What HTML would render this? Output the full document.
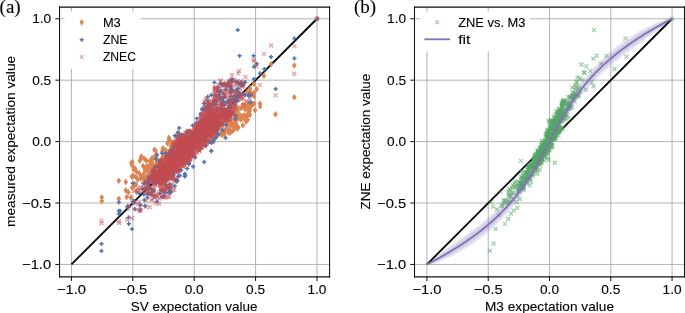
<!DOCTYPE html>
<html><head><meta charset="utf-8"><style>
html,body{margin:0;padding:0;background:#fff;overflow:hidden}
svg{display:block;will-change:transform}
text{fill:#000;stroke:#000;stroke-width:0.1px}
</style></head><body>
<svg width="685" height="313" viewBox="0 0 685 313">
<rect width="685" height="313" fill="#fff"/>
<line x1="71.41" y1="7.05" x2="71.41" y2="276.80" stroke="#b0b0b0" stroke-width="0.96"/>
<line x1="59.55" y1="264.45" x2="329.60" y2="264.45" stroke="#b0b0b0" stroke-width="0.96"/>
<line x1="132.80" y1="7.05" x2="132.80" y2="276.80" stroke="#b0b0b0" stroke-width="0.96"/>
<line x1="59.55" y1="203.02" x2="329.60" y2="203.02" stroke="#b0b0b0" stroke-width="0.96"/>
<line x1="194.20" y1="7.05" x2="194.20" y2="276.80" stroke="#b0b0b0" stroke-width="0.96"/>
<line x1="59.55" y1="141.60" x2="329.60" y2="141.60" stroke="#b0b0b0" stroke-width="0.96"/>
<line x1="255.59" y1="7.05" x2="255.59" y2="276.80" stroke="#b0b0b0" stroke-width="0.96"/>
<line x1="59.55" y1="80.17" x2="329.60" y2="80.17" stroke="#b0b0b0" stroke-width="0.96"/>
<line x1="316.99" y1="7.05" x2="316.99" y2="276.80" stroke="#b0b0b0" stroke-width="0.96"/>
<line x1="59.55" y1="18.75" x2="329.60" y2="18.75" stroke="#b0b0b0" stroke-width="0.96"/>
<line x1="71.41" y1="264.45" x2="316.99" y2="18.75" stroke="#000" stroke-width="1.8"/>
<path fill="#dd8452" d="M317.1 15.5l2.3 3.3-2.3 3.3-2.3-3.3zM294.3 62.2l2.3 3.3-2.3 3.3-2.3-3.3zM294.3 94.0l2.3 3.3-2.3 3.3-2.3-3.3zM271.1 61.0l2.3 3.3-2.3 3.3-2.3-3.3zM275.5 111.0l2.3 3.3-2.3 3.3-2.3-3.3zM263.9 72.5l2.3 3.3-2.3 3.3-2.3-3.3zM254.0 80.8l2.3 3.3-2.3 3.3-2.3-3.3zM256.7 86.0l2.3 3.3-2.3 3.3-2.3-3.3zM259.9 100.4l2.3 3.3-2.3 3.3-2.3-3.3zM254.0 100.2l2.3 3.3-2.3 3.3-2.3-3.3zM260.0 102.9l2.3 3.3-2.3 3.3-2.3-3.3zM255.1 106.9l2.3 3.3-2.3 3.3-2.3-3.3zM249.5 110.9l2.3 3.3-2.3 3.3-2.3-3.3zM250.0 111.5l2.3 3.3-2.3 3.3-2.3-3.3zM101.8 194.2l2.3 3.3-2.3 3.3-2.3-3.3zM101.8 197.7l2.3 3.3-2.3 3.3-2.3-3.3zM118.8 177.4l2.3 3.3-2.3 3.3-2.3-3.3zM118.8 195.4l2.3 3.3-2.3 3.3-2.3-3.3zM132.0 162.0l2.3 3.3-2.3 3.3-2.3-3.3zM132.4 158.8l2.3 3.3-2.3 3.3-2.3-3.3zM154.4 146.5l2.3 3.3-2.3 3.3-2.3-3.3zM146.7 166.3l2.3 3.3-2.3 3.3-2.3-3.3zM149.0 170.8l2.3 3.3-2.3 3.3-2.3-3.3zM140.5 174.9l2.3 3.3-2.3 3.3-2.3-3.3zM164.4 151.7l2.3 3.3-2.3 3.3-2.3-3.3zM141.3 153.1l2.3 3.3-2.3 3.3-2.3-3.3zM125.8 178.7l2.3 3.3-2.3 3.3-2.3-3.3zM136.0 173.7l2.3 3.3-2.3 3.3-2.3-3.3zM165.9 146.9l2.3 3.3-2.3 3.3-2.3-3.3zM175.0 139.4l2.3 3.3-2.3 3.3-2.3-3.3zM164.5 151.7l2.3 3.3-2.3 3.3-2.3-3.3zM156.6 158.7l2.3 3.3-2.3 3.3-2.3-3.3zM134.5 181.2l2.3 3.3-2.3 3.3-2.3-3.3zM173.4 143.7l2.3 3.3-2.3 3.3-2.3-3.3zM136.4 188.5l2.3 3.3-2.3 3.3-2.3-3.3zM136.4 168.1l2.3 3.3-2.3 3.3-2.3-3.3zM163.4 156.6l2.3 3.3-2.3 3.3-2.3-3.3zM151.9 167.6l2.3 3.3-2.3 3.3-2.3-3.3zM135.9 180.9l2.3 3.3-2.3 3.3-2.3-3.3zM146.5 157.4l2.3 3.3-2.3 3.3-2.3-3.3zM144.2 155.3l2.3 3.3-2.3 3.3-2.3-3.3zM152.0 155.0l2.3 3.3-2.3 3.3-2.3-3.3zM139.2 169.9l2.3 3.3-2.3 3.3-2.3-3.3zM142.4 172.9l2.3 3.3-2.3 3.3-2.3-3.3zM149.7 158.0l2.3 3.3-2.3 3.3-2.3-3.3zM133.8 166.0l2.3 3.3-2.3 3.3-2.3-3.3zM131.3 159.7l2.3 3.3-2.3 3.3-2.3-3.3zM134.1 182.6l2.3 3.3-2.3 3.3-2.3-3.3zM137.7 176.2l2.3 3.3-2.3 3.3-2.3-3.3zM164.8 152.7l2.3 3.3-2.3 3.3-2.3-3.3zM162.6 153.8l2.3 3.3-2.3 3.3-2.3-3.3zM161.3 158.1l2.3 3.3-2.3 3.3-2.3-3.3zM128.5 189.0l2.3 3.3-2.3 3.3-2.3-3.3zM139.7 157.5l2.3 3.3-2.3 3.3-2.3-3.3zM149.3 169.3l2.3 3.3-2.3 3.3-2.3-3.3zM136.3 168.0l2.3 3.3-2.3 3.3-2.3-3.3zM133.7 172.7l2.3 3.3-2.3 3.3-2.3-3.3zM131.8 173.3l2.3 3.3-2.3 3.3-2.3-3.3zM144.5 175.1l2.3 3.3-2.3 3.3-2.3-3.3zM153.7 154.6l2.3 3.3-2.3 3.3-2.3-3.3zM158.8 164.2l2.3 3.3-2.3 3.3-2.3-3.3zM171.6 146.3l2.3 3.3-2.3 3.3-2.3-3.3zM135.0 165.3l2.3 3.3-2.3 3.3-2.3-3.3zM132.1 184.4l2.3 3.3-2.3 3.3-2.3-3.3zM146.2 165.8l2.3 3.3-2.3 3.3-2.3-3.3zM155.6 147.6l2.3 3.3-2.3 3.3-2.3-3.3zM143.1 162.7l2.3 3.3-2.3 3.3-2.3-3.3zM130.9 194.1l2.3 3.3-2.3 3.3-2.3-3.3zM126.7 193.7l2.3 3.3-2.3 3.3-2.3-3.3zM170.8 142.7l2.3 3.3-2.3 3.3-2.3-3.3zM147.3 172.6l2.3 3.3-2.3 3.3-2.3-3.3zM125.7 187.0l2.3 3.3-2.3 3.3-2.3-3.3zM136.9 175.0l2.3 3.3-2.3 3.3-2.3-3.3zM141.1 153.8l2.3 3.3-2.3 3.3-2.3-3.3zM141.2 155.1l2.3 3.3-2.3 3.3-2.3-3.3zM148.2 163.2l2.3 3.3-2.3 3.3-2.3-3.3zM139.8 170.9l2.3 3.3-2.3 3.3-2.3-3.3zM135.9 167.4l2.3 3.3-2.3 3.3-2.3-3.3zM172.0 144.3l2.3 3.3-2.3 3.3-2.3-3.3zM179.0 130.5l2.3 3.3-2.3 3.3-2.3-3.3zM150.4 162.0l2.3 3.3-2.3 3.3-2.3-3.3zM145.0 165.8l2.3 3.3-2.3 3.3-2.3-3.3zM173.0 139.5l2.3 3.3-2.3 3.3-2.3-3.3zM176.9 131.8l2.3 3.3-2.3 3.3-2.3-3.3zM150.2 161.6l2.3 3.3-2.3 3.3-2.3-3.3zM162.3 154.3l2.3 3.3-2.3 3.3-2.3-3.3zM156.1 155.2l2.3 3.3-2.3 3.3-2.3-3.3zM151.7 158.0l2.3 3.3-2.3 3.3-2.3-3.3zM162.4 147.8l2.3 3.3-2.3 3.3-2.3-3.3zM149.1 169.2l2.3 3.3-2.3 3.3-2.3-3.3zM152.6 163.1l2.3 3.3-2.3 3.3-2.3-3.3zM171.3 144.3l2.3 3.3-2.3 3.3-2.3-3.3zM162.9 144.9l2.3 3.3-2.3 3.3-2.3-3.3zM145.0 166.8l2.3 3.3-2.3 3.3-2.3-3.3zM167.5 140.0l2.3 3.3-2.3 3.3-2.3-3.3zM149.3 165.6l2.3 3.3-2.3 3.3-2.3-3.3zM153.1 161.2l2.3 3.3-2.3 3.3-2.3-3.3zM171.2 138.8l2.3 3.3-2.3 3.3-2.3-3.3zM157.1 151.7l2.3 3.3-2.3 3.3-2.3-3.3zM154.4 163.4l2.3 3.3-2.3 3.3-2.3-3.3zM162.9 146.7l2.3 3.3-2.3 3.3-2.3-3.3zM168.9 134.4l2.3 3.3-2.3 3.3-2.3-3.3zM160.1 158.1l2.3 3.3-2.3 3.3-2.3-3.3zM145.9 166.4l2.3 3.3-2.3 3.3-2.3-3.3zM143.8 170.4l2.3 3.3-2.3 3.3-2.3-3.3zM146.5 163.3l2.3 3.3-2.3 3.3-2.3-3.3zM147.6 174.5l2.3 3.3-2.3 3.3-2.3-3.3zM169.2 136.1l2.3 3.3-2.3 3.3-2.3-3.3zM159.1 158.4l2.3 3.3-2.3 3.3-2.3-3.3zM246.0 118.3l2.3 3.3-2.3 3.3-2.3-3.3zM247.1 113.0l2.3 3.3-2.3 3.3-2.3-3.3zM227.7 121.5l2.3 3.3-2.3 3.3-2.3-3.3zM226.9 126.5l2.3 3.3-2.3 3.3-2.3-3.3zM221.9 128.4l2.3 3.3-2.3 3.3-2.3-3.3zM235.2 119.3l2.3 3.3-2.3 3.3-2.3-3.3zM225.2 126.6l2.3 3.3-2.3 3.3-2.3-3.3zM214.9 133.0l2.3 3.3-2.3 3.3-2.3-3.3zM249.7 107.1l2.3 3.3-2.3 3.3-2.3-3.3zM209.7 136.8l2.3 3.3-2.3 3.3-2.3-3.3zM228.7 129.4l2.3 3.3-2.3 3.3-2.3-3.3zM231.4 120.1l2.3 3.3-2.3 3.3-2.3-3.3zM213.4 133.3l2.3 3.3-2.3 3.3-2.3-3.3zM235.8 121.1l2.3 3.3-2.3 3.3-2.3-3.3zM237.3 123.9l2.3 3.3-2.3 3.3-2.3-3.3zM237.8 123.8l2.3 3.3-2.3 3.3-2.3-3.3zM241.1 105.0l2.3 3.3-2.3 3.3-2.3-3.3zM236.2 111.6l2.3 3.3-2.3 3.3-2.3-3.3zM248.0 110.4l2.3 3.3-2.3 3.3-2.3-3.3zM237.6 125.3l2.3 3.3-2.3 3.3-2.3-3.3zM242.1 113.5l2.3 3.3-2.3 3.3-2.3-3.3zM238.3 104.4l2.3 3.3-2.3 3.3-2.3-3.3zM237.7 115.2l2.3 3.3-2.3 3.3-2.3-3.3zM251.5 102.6l2.3 3.3-2.3 3.3-2.3-3.3zM224.6 130.6l2.3 3.3-2.3 3.3-2.3-3.3zM226.0 118.3l2.3 3.3-2.3 3.3-2.3-3.3zM243.3 112.2l2.3 3.3-2.3 3.3-2.3-3.3zM244.7 101.9l2.3 3.3-2.3 3.3-2.3-3.3zM220.9 131.0l2.3 3.3-2.3 3.3-2.3-3.3zM211.6 137.2l2.3 3.3-2.3 3.3-2.3-3.3zM248.3 109.3l2.3 3.3-2.3 3.3-2.3-3.3zM247.8 116.4l2.3 3.3-2.3 3.3-2.3-3.3zM237.8 107.4l2.3 3.3-2.3 3.3-2.3-3.3zM221.2 122.9l2.3 3.3-2.3 3.3-2.3-3.3zM234.9 117.3l2.3 3.3-2.3 3.3-2.3-3.3zM221.7 128.9l2.3 3.3-2.3 3.3-2.3-3.3zM230.8 115.0l2.3 3.3-2.3 3.3-2.3-3.3zM238.3 113.4l2.3 3.3-2.3 3.3-2.3-3.3zM246.4 103.8l2.3 3.3-2.3 3.3-2.3-3.3zM231.7 119.9l2.3 3.3-2.3 3.3-2.3-3.3zM227.5 118.8l2.3 3.3-2.3 3.3-2.3-3.3zM225.5 117.5l2.3 3.3-2.3 3.3-2.3-3.3zM234.0 122.7l2.3 3.3-2.3 3.3-2.3-3.3zM223.1 129.4l2.3 3.3-2.3 3.3-2.3-3.3zM233.0 122.6l2.3 3.3-2.3 3.3-2.3-3.3zM229.7 116.3l2.3 3.3-2.3 3.3-2.3-3.3zM211.7 134.8l2.3 3.3-2.3 3.3-2.3-3.3zM212.3 136.2l2.3 3.3-2.3 3.3-2.3-3.3zM239.8 111.8l2.3 3.3-2.3 3.3-2.3-3.3zM225.0 116.7l2.3 3.3-2.3 3.3-2.3-3.3zM225.5 126.7l2.3 3.3-2.3 3.3-2.3-3.3zM251.7 101.4l2.3 3.3-2.3 3.3-2.3-3.3zM242.8 122.0l2.3 3.3-2.3 3.3-2.3-3.3zM229.1 113.3l2.3 3.3-2.3 3.3-2.3-3.3zM248.8 107.2l2.3 3.3-2.3 3.3-2.3-3.3zM211.7 133.2l2.3 3.3-2.3 3.3-2.3-3.3zM215.3 129.6l2.3 3.3-2.3 3.3-2.3-3.3zM248.5 108.4l2.3 3.3-2.3 3.3-2.3-3.3zM222.6 122.4l2.3 3.3-2.3 3.3-2.3-3.3zM230.4 122.5l2.3 3.3-2.3 3.3-2.3-3.3zM245.0 105.9l2.3 3.3-2.3 3.3-2.3-3.3zM218.8 125.0l2.3 3.3-2.3 3.3-2.3-3.3zM230.3 129.3l2.3 3.3-2.3 3.3-2.3-3.3zM230.6 117.8l2.3 3.3-2.3 3.3-2.3-3.3zM213.9 138.0l2.3 3.3-2.3 3.3-2.3-3.3zM251.0 103.1l2.3 3.3-2.3 3.3-2.3-3.3zM235.8 119.3l2.3 3.3-2.3 3.3-2.3-3.3zM242.7 101.5l2.3 3.3-2.3 3.3-2.3-3.3zM238.3 124.3l2.3 3.3-2.3 3.3-2.3-3.3zM240.6 116.2l2.3 3.3-2.3 3.3-2.3-3.3zM225.8 118.9l2.3 3.3-2.3 3.3-2.3-3.3zM238.1 112.4l2.3 3.3-2.3 3.3-2.3-3.3zM235.0 117.1l2.3 3.3-2.3 3.3-2.3-3.3zM249.3 106.1l2.3 3.3-2.3 3.3-2.3-3.3zM233.4 108.4l2.3 3.3-2.3 3.3-2.3-3.3zM213.7 130.5l2.3 3.3-2.3 3.3-2.3-3.3zM234.2 106.9l2.3 3.3-2.3 3.3-2.3-3.3zM223.5 129.2l2.3 3.3-2.3 3.3-2.3-3.3zM232.5 121.0l2.3 3.3-2.3 3.3-2.3-3.3zM216.4 132.9l2.3 3.3-2.3 3.3-2.3-3.3zM232.9 127.4l2.3 3.3-2.3 3.3-2.3-3.3zM236.9 112.6l2.3 3.3-2.3 3.3-2.3-3.3zM241.9 115.7l2.3 3.3-2.3 3.3-2.3-3.3zM221.6 129.5l2.3 3.3-2.3 3.3-2.3-3.3zM235.7 116.4l2.3 3.3-2.3 3.3-2.3-3.3zM218.0 131.4l2.3 3.3-2.3 3.3-2.3-3.3zM225.2 127.5l2.3 3.3-2.3 3.3-2.3-3.3zM245.6 117.0l2.3 3.3-2.3 3.3-2.3-3.3zM227.6 125.6l2.3 3.3-2.3 3.3-2.3-3.3zM244.5 112.3l2.3 3.3-2.3 3.3-2.3-3.3zM242.9 101.8l2.3 3.3-2.3 3.3-2.3-3.3zM222.6 128.9l2.3 3.3-2.3 3.3-2.3-3.3zM233.9 109.6l2.3 3.3-2.3 3.3-2.3-3.3zM236.5 106.9l2.3 3.3-2.3 3.3-2.3-3.3zM222.5 131.4l2.3 3.3-2.3 3.3-2.3-3.3zM219.8 122.6l2.3 3.3-2.3 3.3-2.3-3.3zM248.8 100.4l2.3 3.3-2.3 3.3-2.3-3.3zM230.5 127.2l2.3 3.3-2.3 3.3-2.3-3.3zM235.3 124.7l2.3 3.3-2.3 3.3-2.3-3.3zM247.8 106.2l2.3 3.3-2.3 3.3-2.3-3.3zM254.0 89.6l2.3 3.3-2.3 3.3-2.3-3.3zM250.2 87.9l2.3 3.3-2.3 3.3-2.3-3.3zM250.1 85.0l2.3 3.3-2.3 3.3-2.3-3.3zM254.2 92.9l2.3 3.3-2.3 3.3-2.3-3.3zM247.5 88.2l2.3 3.3-2.3 3.3-2.3-3.3zM251.0 91.4l2.3 3.3-2.3 3.3-2.3-3.3zM196.0 130.9l2.3 3.3-2.3 3.3-2.3-3.3zM199.8 140.6l2.3 3.3-2.3 3.3-2.3-3.3zM214.4 115.9l2.3 3.3-2.3 3.3-2.3-3.3zM163.2 158.7l2.3 3.3-2.3 3.3-2.3-3.3zM198.5 140.5l2.3 3.3-2.3 3.3-2.3-3.3zM152.6 178.2l2.3 3.3-2.3 3.3-2.3-3.3zM214.8 111.8l2.3 3.3-2.3 3.3-2.3-3.3zM217.5 114.7l2.3 3.3-2.3 3.3-2.3-3.3zM225.8 111.7l2.3 3.3-2.3 3.3-2.3-3.3zM221.5 108.0l2.3 3.3-2.3 3.3-2.3-3.3zM228.5 115.3l2.3 3.3-2.3 3.3-2.3-3.3zM231.2 115.5l2.3 3.3-2.3 3.3-2.3-3.3zM161.1 159.7l2.3 3.3-2.3 3.3-2.3-3.3zM204.7 112.6l2.3 3.3-2.3 3.3-2.3-3.3zM226.1 111.8l2.3 3.3-2.3 3.3-2.3-3.3zM223.8 115.5l2.3 3.3-2.3 3.3-2.3-3.3zM187.8 128.8l2.3 3.3-2.3 3.3-2.3-3.3zM174.3 151.9l2.3 3.3-2.3 3.3-2.3-3.3zM210.8 107.1l2.3 3.3-2.3 3.3-2.3-3.3zM197.2 138.5l2.3 3.3-2.3 3.3-2.3-3.3zM170.0 161.1l2.3 3.3-2.3 3.3-2.3-3.3zM165.6 154.5l2.3 3.3-2.3 3.3-2.3-3.3zM169.8 149.9l2.3 3.3-2.3 3.3-2.3-3.3zM205.1 131.0l2.3 3.3-2.3 3.3-2.3-3.3zM184.4 162.1l2.3 3.3-2.3 3.3-2.3-3.3zM201.1 130.8l2.3 3.3-2.3 3.3-2.3-3.3zM215.4 124.8l2.3 3.3-2.3 3.3-2.3-3.3zM205.3 127.9l2.3 3.3-2.3 3.3-2.3-3.3zM206.9 116.7l2.3 3.3-2.3 3.3-2.3-3.3zM187.8 154.6l2.3 3.3-2.3 3.3-2.3-3.3zM214.0 117.1l2.3 3.3-2.3 3.3-2.3-3.3zM198.6 140.0l2.3 3.3-2.3 3.3-2.3-3.3zM208.0 127.5l2.3 3.3-2.3 3.3-2.3-3.3zM225.5 114.0l2.3 3.3-2.3 3.3-2.3-3.3zM185.2 134.4l2.3 3.3-2.3 3.3-2.3-3.3zM205.9 138.0l2.3 3.3-2.3 3.3-2.3-3.3zM154.7 177.0l2.3 3.3-2.3 3.3-2.3-3.3zM193.9 139.7l2.3 3.3-2.3 3.3-2.3-3.3zM198.6 138.5l2.3 3.3-2.3 3.3-2.3-3.3zM211.0 111.6l2.3 3.3-2.3 3.3-2.3-3.3zM163.6 175.0l2.3 3.3-2.3 3.3-2.3-3.3zM170.3 164.7l2.3 3.3-2.3 3.3-2.3-3.3zM173.6 146.4l2.3 3.3-2.3 3.3-2.3-3.3zM161.4 179.8l2.3 3.3-2.3 3.3-2.3-3.3zM174.1 168.1l2.3 3.3-2.3 3.3-2.3-3.3zM190.0 136.6l2.3 3.3-2.3 3.3-2.3-3.3zM178.4 151.4l2.3 3.3-2.3 3.3-2.3-3.3zM174.1 138.9l2.3 3.3-2.3 3.3-2.3-3.3zM224.4 106.6l2.3 3.3-2.3 3.3-2.3-3.3zM199.1 140.5l2.3 3.3-2.3 3.3-2.3-3.3zM216.4 113.4l2.3 3.3-2.3 3.3-2.3-3.3zM160.5 174.8l2.3 3.3-2.3 3.3-2.3-3.3zM224.4 114.4l2.3 3.3-2.3 3.3-2.3-3.3zM209.5 127.1l2.3 3.3-2.3 3.3-2.3-3.3zM167.5 170.5l2.3 3.3-2.3 3.3-2.3-3.3zM157.4 176.3l2.3 3.3-2.3 3.3-2.3-3.3zM213.4 109.5l2.3 3.3-2.3 3.3-2.3-3.3zM179.1 148.1l2.3 3.3-2.3 3.3-2.3-3.3zM179.7 150.3l2.3 3.3-2.3 3.3-2.3-3.3zM182.9 159.1l2.3 3.3-2.3 3.3-2.3-3.3zM181.7 131.7l2.3 3.3-2.3 3.3-2.3-3.3zM185.1 158.4l2.3 3.3-2.3 3.3-2.3-3.3zM159.6 163.6l2.3 3.3-2.3 3.3-2.3-3.3zM227.5 107.2l2.3 3.3-2.3 3.3-2.3-3.3zM176.4 148.9l2.3 3.3-2.3 3.3-2.3-3.3zM172.3 168.1l2.3 3.3-2.3 3.3-2.3-3.3zM208.4 118.8l2.3 3.3-2.3 3.3-2.3-3.3zM188.3 129.1l2.3 3.3-2.3 3.3-2.3-3.3zM174.4 164.0l2.3 3.3-2.3 3.3-2.3-3.3zM210.4 128.1l2.3 3.3-2.3 3.3-2.3-3.3zM179.9 146.8l2.3 3.3-2.3 3.3-2.3-3.3zM181.0 152.4l2.3 3.3-2.3 3.3-2.3-3.3zM166.1 157.0l2.3 3.3-2.3 3.3-2.3-3.3zM198.4 125.1l2.3 3.3-2.3 3.3-2.3-3.3zM197.0 134.2l2.3 3.3-2.3 3.3-2.3-3.3zM211.1 122.3l2.3 3.3-2.3 3.3-2.3-3.3zM159.3 172.6l2.3 3.3-2.3 3.3-2.3-3.3zM156.3 170.0l2.3 3.3-2.3 3.3-2.3-3.3zM201.7 129.6l2.3 3.3-2.3 3.3-2.3-3.3zM179.3 153.3l2.3 3.3-2.3 3.3-2.3-3.3z"/>
<path stroke="#4c72b0" stroke-width="1.5" fill="none" d="M315.0 18.8h4.2M317.1 16.7v4.2M235.6 30.0h4.2M237.7 27.9v4.2M292.3 38.4h4.2M294.4 36.3v4.2M292.3 58.4h4.2M294.4 56.3v4.2M237.5 55.8h4.2M239.6 53.7v4.2M251.5 55.8h4.2M253.6 53.7v4.2M269.0 56.8h4.2M271.1 54.7v4.2M251.9 66.7h4.2M254.0 64.6v4.2M254.6 63.8h4.2M256.7 61.7v4.2M262.3 69.1h4.2M264.4 67.0v4.2M257.8 73.4h4.2M259.9 71.3v4.2M251.9 79.0h4.2M254.0 76.9v4.2M212.3 82.5h4.2M214.4 80.4v4.2M218.3 83.8h4.2M220.4 81.7v4.2M224.3 84.6h4.2M226.4 82.5v4.2M229.9 81.4h4.2M232.0 79.3v4.2M243.1 82.2h4.2M245.2 80.1v4.2M224.2 85.2h4.2M226.3 83.1v4.2M223.4 89.5h4.2M225.5 87.4v4.2M273.5 88.9h4.2M275.6 86.8v4.2M202.2 103.5h4.2M204.3 101.4v4.2M218.6 99.2h4.2M220.7 97.1v4.2M199.0 113.9h4.2M201.1 111.8v4.2M177.1 128.1h4.2M179.2 126.0v4.2M175.8 132.3h4.2M177.9 130.2v4.2M178.2 135.0h4.2M180.3 132.9v4.2M184.3 131.8h4.2M186.4 129.7v4.2M176.7 136.0h4.2M178.8 133.9v4.2M154.2 155.0h4.2M156.3 152.9v4.2M159.8 153.3h4.2M161.9 151.2v4.2M163.8 153.3h4.2M165.9 151.2v4.2M167.8 151.7h4.2M169.9 149.6v4.2M154.2 158.9h4.2M156.3 156.8v4.2M202.1 162.1h4.2M204.2 160.0v4.2M203.7 145.4h4.2M205.8 143.3v4.2M209.1 151.1h4.2M211.2 149.0v4.2M191.0 166.6h4.2M193.1 164.5v4.2M182.7 173.8h4.2M184.8 171.7v4.2M182.7 176.5h4.2M184.8 174.4v4.2M174.3 181.4h4.2M176.4 179.3v4.2M167.9 188.1h4.2M170.0 186.0v4.2M167.9 192.1h4.2M170.0 190.0v4.2M223.5 137.8h4.2M225.6 135.7v4.2M209.3 150.7h4.2M211.4 148.6v4.2M209.3 143.0h4.2M211.4 140.9v4.2M204.2 145.6h4.2M206.3 143.5v4.2M130.7 183.3h4.2M132.8 181.2v4.2M137.1 193.5h4.2M139.2 191.4v4.2M145.4 197.4h4.2M147.5 195.3v4.2M148.6 194.2h4.2M150.7 192.1v4.2M142.2 200.0h4.2M144.3 197.9v4.2M147.3 183.3h4.2M149.4 181.2v4.2M162.0 192.3h4.2M164.1 190.2v4.2M174.8 181.4h4.2M176.9 179.3v4.2M183.1 175.6h4.2M185.2 173.5v4.2M125.6 206.3h4.2M127.7 204.2v4.2M132.6 208.9h4.2M134.7 206.8v4.2M138.3 205.0h4.2M140.4 202.9v4.2M117.9 210.8h4.2M120.0 208.7v4.2M116.7 202.3h4.2M118.8 200.2v4.2M116.7 210.9h4.2M118.8 208.8v4.2M116.7 213.8h4.2M118.8 211.7v4.2M99.4 243.8h4.2M101.5 241.7v4.2M99.4 250.9h4.2M101.5 248.8v4.2M126.4 217.4h4.2M128.5 215.3v4.2M126.7 223.8h4.2M128.8 221.7v4.2M130.0 229.0h4.2M132.1 226.9v4.2M223.3 114.6h4.2M225.4 112.5v4.2M183.1 142.0h4.2M185.2 139.9v4.2M160.2 169.5h4.2M162.3 167.4v4.2M153.8 173.1h4.2M155.9 171.0v4.2M233.3 116.2h4.2M235.4 114.1v4.2M207.5 127.7h4.2M209.6 125.6v4.2M166.4 167.8h4.2M168.5 165.7v4.2M196.3 125.4h4.2M198.4 123.3v4.2M197.7 123.7h4.2M199.8 121.6v4.2M177.8 169.9h4.2M179.9 167.8v4.2M167.4 167.4h4.2M169.5 165.3v4.2M169.0 166.4h4.2M171.1 164.3v4.2M177.1 139.1h4.2M179.2 137.0v4.2M196.0 131.4h4.2M198.1 129.3v4.2M229.9 113.2h4.2M232.0 111.1v4.2M194.1 131.8h4.2M196.2 129.7v4.2M153.0 183.2h4.2M155.1 181.1v4.2M149.0 179.2h4.2M151.1 177.1v4.2M153.2 171.2h4.2M155.3 169.1v4.2M195.7 127.7h4.2M197.8 125.6v4.2M187.3 157.0h4.2M189.4 154.9v4.2M155.0 173.1h4.2M157.1 171.0v4.2M219.0 117.6h4.2M221.1 115.5v4.2M203.8 140.6h4.2M205.9 138.5v4.2M158.1 180.5h4.2M160.2 178.4v4.2M161.8 165.4h4.2M163.9 163.3v4.2M147.8 179.3h4.2M149.9 177.2v4.2M176.3 162.3h4.2M178.4 160.2v4.2M199.4 138.9h4.2M201.5 136.8v4.2M185.3 143.4h4.2M187.4 141.3v4.2M177.7 169.8h4.2M179.8 167.7v4.2M210.8 125.8h4.2M212.9 123.7v4.2M202.0 129.1h4.2M204.1 127.0v4.2M147.6 179.3h4.2M149.7 177.2v4.2M186.5 146.7h4.2M188.6 144.6v4.2M151.1 171.8h4.2M153.2 169.7v4.2M190.7 148.4h4.2M192.8 146.3v4.2M161.0 165.7h4.2M163.1 163.6v4.2M169.5 150.0h4.2M171.6 147.9v4.2M204.4 125.9h4.2M206.5 123.8v4.2M215.8 110.6h4.2M217.9 108.5v4.2M187.0 151.8h4.2M189.1 149.7v4.2M168.8 151.6h4.2M170.9 149.5v4.2M207.7 114.1h4.2M209.8 112.0v4.2M157.2 177.3h4.2M159.3 175.2v4.2M172.1 156.2h4.2M174.2 154.1v4.2M187.2 131.4h4.2M189.3 129.3v4.2M185.4 152.9h4.2M187.5 150.8v4.2M167.3 152.8h4.2M169.4 150.7v4.2M191.7 145.9h4.2M193.8 143.8v4.2M218.3 123.0h4.2M220.4 120.9v4.2M190.3 137.2h4.2M192.4 135.1v4.2M152.1 178.5h4.2M154.2 176.4v4.2M186.5 161.9h4.2M188.6 159.8v4.2M179.1 141.4h4.2M181.2 139.3v4.2M229.1 113.9h4.2M231.2 111.8v4.2M214.3 121.1h4.2M216.4 119.0v4.2M146.6 179.2h4.2M148.7 177.1v4.2M190.1 138.2h4.2M192.2 136.1v4.2M208.9 127.8h4.2M211.0 125.7v4.2M149.7 175.4h4.2M151.8 173.3v4.2M148.9 179.0h4.2M151.0 176.9v4.2M172.1 147.4h4.2M174.2 145.3v4.2M184.8 133.4h4.2M186.9 131.3v4.2M179.1 152.7h4.2M181.2 150.6v4.2M150.2 176.6h4.2M152.3 174.5v4.2M177.0 161.0h4.2M179.1 158.9v4.2M183.0 139.0h4.2M185.1 136.9v4.2M168.5 164.2h4.2M170.6 162.1v4.2M209.8 122.5h4.2M211.9 120.4v4.2M164.8 179.6h4.2M166.9 177.5v4.2M198.4 121.9h4.2M200.5 119.8v4.2M177.4 141.9h4.2M179.5 139.8v4.2M217.0 117.8h4.2M219.1 115.7v4.2M207.4 115.3h4.2M209.5 113.2v4.2M193.8 143.6h4.2M195.9 141.5v4.2M167.8 166.1h4.2M169.9 164.0v4.2M168.3 168.9h4.2M170.4 166.8v4.2M208.0 110.7h4.2M210.1 108.6v4.2M211.6 111.5h4.2M213.7 109.4v4.2M200.3 129.3h4.2M202.4 127.2v4.2M178.6 163.7h4.2M180.7 161.6v4.2M214.3 126.6h4.2M216.4 124.5v4.2M178.7 136.9h4.2M180.8 134.8v4.2M171.3 170.2h4.2M173.4 168.1v4.2M170.2 171.9h4.2M172.3 169.8v4.2M164.4 174.7h4.2M166.5 172.6v4.2M175.4 161.1h4.2M177.5 159.0v4.2M197.9 140.1h4.2M200.0 138.0v4.2M208.4 135.3h4.2M210.5 133.2v4.2M200.6 128.5h4.2M202.7 126.4v4.2M161.1 171.1h4.2M163.2 169.0v4.2M185.8 160.3h4.2M187.9 158.2v4.2M226.8 116.3h4.2M228.9 114.2v4.2M188.0 136.5h4.2M190.1 134.4v4.2M175.0 156.7h4.2M177.1 154.6v4.2M205.4 136.2h4.2M207.5 134.1v4.2M200.1 119.6h4.2M202.2 117.5v4.2M162.5 175.6h4.2M164.6 173.5v4.2M170.2 152.7h4.2M172.3 150.6v4.2M194.6 123.0h4.2M196.7 120.9v4.2M157.6 180.7h4.2M159.7 178.6v4.2M203.4 129.7h4.2M205.5 127.6v4.2M165.8 165.9h4.2M167.9 163.8v4.2M200.0 129.7h4.2M202.1 127.6v4.2M171.4 174.9h4.2M173.5 172.8v4.2M169.3 171.9h4.2M171.4 169.8v4.2M186.1 140.2h4.2M188.2 138.1v4.2M205.8 127.7h4.2M207.9 125.6v4.2M159.1 175.9h4.2M161.2 173.8v4.2M161.4 171.7h4.2M163.5 169.6v4.2M201.0 131.9h4.2M203.1 129.8v4.2M196.9 140.3h4.2M199.0 138.2v4.2M170.3 150.0h4.2M172.4 147.9v4.2M217.3 118.3h4.2M219.4 116.2v4.2M153.3 181.1h4.2M155.4 179.0v4.2M209.7 132.5h4.2M211.8 130.4v4.2M184.0 137.1h4.2M186.1 135.0v4.2M204.6 126.8h4.2M206.7 124.7v4.2M202.7 119.6h4.2M204.8 117.5v4.2M166.1 155.9h4.2M168.2 153.8v4.2M194.5 138.0h4.2M196.6 135.9v4.2M166.7 154.5h4.2M168.8 152.4v4.2M216.6 125.8h4.2M218.7 123.7v4.2M219.5 123.8h4.2M221.6 121.7v4.2M206.9 121.7h4.2M209.0 119.6v4.2M164.5 155.7h4.2M166.6 153.6v4.2M191.1 155.8h4.2M193.2 153.7v4.2M169.9 160.8h4.2M172.0 158.7v4.2M199.3 137.4h4.2M201.4 135.3v4.2M174.4 142.7h4.2M176.5 140.6v4.2M209.5 111.2h4.2M211.6 109.1v4.2M182.9 139.4h4.2M185.0 137.3v4.2M170.2 156.6h4.2M172.3 154.5v4.2M165.0 179.7h4.2M167.1 177.6v4.2M177.8 158.3h4.2M179.9 156.2v4.2M183.0 162.2h4.2M185.1 160.1v4.2M205.7 133.0h4.2M207.8 130.9v4.2M169.8 167.3h4.2M171.9 165.2v4.2M193.0 145.0h4.2M195.1 142.9v4.2M208.5 110.9h4.2M210.6 108.8v4.2M185.1 159.5h4.2M187.2 157.4v4.2M184.9 144.2h4.2M187.0 142.1v4.2M170.8 175.7h4.2M172.9 173.6v4.2M186.4 151.1h4.2M188.5 149.0v4.2M208.5 109.8h4.2M210.6 107.7v4.2M151.6 170.0h4.2M153.7 167.9v4.2M177.5 151.3h4.2M179.6 149.2v4.2M179.0 145.4h4.2M181.1 143.3v4.2M216.8 123.5h4.2M218.9 121.4v4.2M177.0 138.3h4.2M179.1 136.2v4.2M208.5 125.0h4.2M210.6 122.9v4.2M205.7 119.7h4.2M207.8 117.6v4.2M159.4 182.1h4.2M161.5 180.0v4.2M180.1 159.9h4.2M182.2 157.8v4.2M153.8 175.7h4.2M155.9 173.6v4.2M197.4 149.1h4.2M199.5 147.0v4.2M154.1 183.1h4.2M156.2 181.0v4.2M204.4 140.7h4.2M206.5 138.6v4.2M215.7 129.3h4.2M217.8 127.2v4.2M168.0 184.3h4.2M170.1 182.2v4.2M214.0 132.1h4.2M216.1 130.0v4.2M186.7 164.3h4.2M188.8 162.2v4.2M223.8 124.8h4.2M225.9 122.7v4.2M186.9 163.2h4.2M189.0 161.1v4.2M176.1 171.4h4.2M178.2 169.3v4.2M185.1 168.6h4.2M187.2 166.5v4.2M211.0 141.0h4.2M213.1 138.9v4.2M233.3 118.8h4.2M235.4 116.7v4.2M198.6 148.5h4.2M200.7 146.4v4.2M177.8 170.3h4.2M179.9 168.2v4.2M220.5 130.1h4.2M222.6 128.0v4.2M214.1 137.4h4.2M216.2 135.3v4.2M164.2 184.9h4.2M166.3 182.8v4.2M177.8 175.7h4.2M179.9 173.6v4.2M193.0 157.5h4.2M195.1 155.4v4.2M212.1 138.9h4.2M214.2 136.8v4.2M214.1 130.8h4.2M216.2 128.7v4.2M179.0 170.1h4.2M181.1 168.0v4.2M176.2 176.2h4.2M178.3 174.1v4.2M216.4 134.2h4.2M218.5 132.1v4.2M207.1 142.0h4.2M209.2 139.9v4.2M153.4 166.7h4.2M155.5 164.6v4.2M190.5 125.5h4.2M192.6 123.4v4.2M194.8 118.6h4.2M196.9 116.5v4.2M157.9 160.7h4.2M160.0 158.6v4.2M181.3 134.9h4.2M183.4 132.8v4.2M172.7 135.8h4.2M174.8 133.7v4.2M168.4 150.6h4.2M170.5 148.5v4.2M200.5 110.1h4.2M202.6 108.0v4.2M147.9 177.1h4.2M150.0 175.0v4.2M228.9 107.7h4.2M231.0 105.6v4.2M220.9 101.8h4.2M223.0 99.7v4.2M215.3 108.2h4.2M217.4 106.1v4.2M211.9 100.5h4.2M214.0 98.4v4.2M236.0 82.5h4.2M238.1 80.4v4.2M230.5 100.8h4.2M232.6 98.7v4.2M229.1 89.5h4.2M231.2 87.4v4.2M228.7 91.3h4.2M230.8 89.2v4.2M214.6 100.9h4.2M216.7 98.8v4.2M230.1 80.4h4.2M232.2 78.3v4.2M205.9 105.4h4.2M208.0 103.3v4.2M229.0 92.4h4.2M231.1 90.3v4.2M229.9 91.5h4.2M232.0 89.4v4.2M226.0 110.5h4.2M228.1 108.4v4.2M213.7 102.0h4.2M215.8 99.9v4.2M237.5 93.4h4.2M239.6 91.3v4.2M221.4 93.4h4.2M223.5 91.3v4.2M236.5 83.1h4.2M238.6 81.0v4.2M206.2 107.0h4.2M208.3 104.9v4.2M221.5 101.2h4.2M223.6 99.1v4.2M235.8 88.6h4.2M237.9 86.5v4.2M210.3 103.6h4.2M212.4 101.5v4.2M214.4 100.3h4.2M216.5 98.2v4.2M227.3 100.0h4.2M229.4 97.9v4.2M216.0 96.4h4.2M218.1 94.3v4.2M235.8 91.4h4.2M237.9 89.3v4.2M241.1 83.9h4.2M243.2 81.8v4.2M232.3 99.2h4.2M234.4 97.1v4.2M236.5 83.3h4.2M238.6 81.2v4.2M209.2 95.2h4.2M211.3 93.1v4.2M235.7 100.7h4.2M237.8 98.6v4.2M232.1 96.3h4.2M234.2 94.2v4.2M239.2 82.6h4.2M241.3 80.5v4.2M213.0 95.7h4.2M215.1 93.6v4.2M233.1 104.9h4.2M235.2 102.8v4.2M218.5 91.2h4.2M220.6 89.1v4.2M226.8 110.9h4.2M228.9 108.8v4.2M228.5 96.4h4.2M230.6 94.3v4.2M240.8 85.2h4.2M242.9 83.1v4.2M231.2 98.8h4.2M233.3 96.7v4.2M205.8 108.4h4.2M207.9 106.3v4.2M232.2 96.9h4.2M234.3 94.8v4.2M211.9 101.1h4.2M214.0 99.0v4.2M224.1 84.5h4.2M226.2 82.4v4.2M229.7 89.3h4.2M231.8 87.2v4.2M215.9 87.8h4.2M218.0 85.7v4.2M207.0 104.2h4.2M209.1 102.1v4.2M227.3 105.8h4.2M229.4 103.7v4.2M234.1 95.7h4.2M236.2 93.6v4.2M216.8 91.7h4.2M218.9 89.6v4.2M219.9 98.2h4.2M222.0 96.1v4.2M219.4 108.8h4.2M221.5 106.7v4.2M222.0 84.1h4.2M224.1 82.0v4.2M224.5 103.1h4.2M226.6 101.0v4.2M234.3 101.6h4.2M236.4 99.5v4.2M214.6 100.7h4.2M216.7 98.6v4.2M227.1 81.3h4.2M229.2 79.2v4.2M226.3 101.0h4.2M228.4 98.9v4.2M219.0 108.1h4.2M221.1 106.0v4.2M213.7 104.2h4.2M215.8 102.1v4.2M202.1 109.1h4.2M204.2 107.0v4.2M228.6 85.8h4.2M230.7 83.7v4.2M235.0 98.6h4.2M237.1 96.5v4.2M203.8 107.1h4.2M205.9 105.0v4.2M215.1 109.0h4.2M217.2 106.9v4.2M215.3 90.9h4.2M217.4 88.8v4.2M229.5 100.4h4.2M231.6 98.3v4.2M220.8 84.9h4.2M222.9 82.8v4.2M205.9 101.4h4.2M208.0 99.3v4.2M229.1 107.5h4.2M231.2 105.4v4.2M207.5 105.0h4.2M209.6 102.9v4.2M222.8 96.9h4.2M224.9 94.8v4.2M226.6 102.0h4.2M228.7 99.9v4.2M224.1 109.9h4.2M226.2 107.8v4.2M208.3 106.4h4.2M210.4 104.3v4.2M212.1 104.1h4.2M214.2 102.0v4.2M227.4 101.7h4.2M229.5 99.6v4.2M237.9 94.3h4.2M240.0 92.2v4.2M222.1 105.2h4.2M224.2 103.1v4.2M237.4 95.4h4.2M239.5 93.3v4.2M236.7 96.5h4.2M238.8 94.4v4.2M201.7 103.6h4.2M203.8 101.5v4.2M227.8 86.5h4.2M229.9 84.4v4.2M200.1 108.9h4.2M202.2 106.8v4.2M235.6 95.3h4.2M237.7 93.2v4.2M237.9 85.1h4.2M240.0 83.0v4.2M234.6 99.5h4.2M236.7 97.4v4.2M234.1 89.9h4.2M236.2 87.8v4.2M225.4 84.4h4.2M227.5 82.3v4.2M219.9 104.5h4.2M222.0 102.4v4.2M239.4 84.3h4.2M241.5 82.2v4.2M214.3 101.1h4.2M216.4 99.0v4.2M217.6 96.3h4.2M219.7 94.2v4.2M234.3 81.8h4.2M236.4 79.7v4.2M205.6 96.7h4.2M207.7 94.6v4.2M229.6 89.9h4.2M231.7 87.8v4.2M217.1 94.4h4.2M219.2 92.3v4.2M229.9 79.1h4.2M232.0 77.0v4.2M228.3 104.5h4.2M230.4 102.4v4.2M224.0 85.5h4.2M226.1 83.4v4.2M247.0 96.3h4.2M249.1 94.2v4.2M246.5 94.7h4.2M248.6 92.6v4.2M248.7 102.3h4.2M250.8 100.2v4.2M241.3 94.0h4.2M243.4 91.9v4.2M248.4 94.8h4.2M250.5 92.7v4.2M243.4 95.1h4.2M245.5 93.0v4.2M159.2 190.1h4.2M161.3 188.0v4.2M167.5 174.6h4.2M169.6 172.5v4.2M149.0 189.0h4.2M151.1 186.9v4.2M157.7 183.0h4.2M159.8 180.9v4.2M172.4 179.7h4.2M174.5 177.6v4.2M172.6 186.1h4.2M174.7 184.0v4.2M163.4 184.8h4.2M165.5 182.7v4.2M144.9 184.1h4.2M147.0 182.0v4.2M141.7 183.4h4.2M143.8 181.3v4.2M161.9 196.3h4.2M164.0 194.2v4.2M145.2 193.4h4.2M147.3 191.3v4.2M140.3 188.9h4.2M142.4 186.8v4.2M159.9 196.8h4.2M162.0 194.7v4.2M160.6 180.3h4.2M162.7 178.2v4.2M161.7 181.3h4.2M163.8 179.2v4.2M175.2 179.9h4.2M177.3 177.8v4.2M143.3 188.3h4.2M145.4 186.2v4.2M147.0 181.1h4.2M149.1 179.0v4.2M168.1 188.6h4.2M170.2 186.5v4.2M167.2 193.0h4.2M169.3 190.9v4.2M170.0 174.4h4.2M172.1 172.3v4.2M172.3 179.5h4.2M174.4 177.4v4.2M151.3 195.8h4.2M153.4 193.7v4.2M163.9 192.4h4.2M166.0 190.3v4.2M169.2 192.0h4.2M171.3 189.9v4.2M167.6 190.5h4.2M169.7 188.4v4.2M141.8 194.6h4.2M143.9 192.5v4.2M146.6 189.2h4.2M148.7 187.1v4.2M144.4 181.8h4.2M146.5 179.7v4.2M149.5 192.2h4.2M151.6 190.1v4.2M155.0 201.5h4.2M157.1 199.4v4.2M125.3 206.7h4.2M127.4 204.6v4.2M142.9 205.8h4.2M145.0 203.7v4.2M131.9 203.2h4.2M134.0 201.1v4.2M132.0 201.2h4.2M134.1 199.1v4.2M138.2 210.1h4.2M140.3 208.0v4.2M130.6 201.4h4.2M132.7 199.3v4.2M157.7 193.5h4.2M159.8 191.4v4.2M146.7 186.7h4.2M148.8 184.6v4.2M151.8 190.7h4.2M153.9 188.6v4.2"/>
<polygon fill="#c44e52" points="153.4,178.2 159.8,181.4 167.5,176.8 175.2,169.1 183.0,162.1 189.8,155.1 196.4,149.5 202.0,142.9 207.0,137.4 212.7,130.3 221.4,119.2 229.1,115.5 229.1,115.5 228.1,114.7 221.4,113.0 214.3,112.5 208.5,113.8 203.7,116.8 200.6,122.8 197.2,129.6 192.1,133.4 186.0,136.5 180.5,140.1 177.6,143.1 175.7,149.7 171.0,156.7 164.9,161.8 160.7,167.4 155.4,174.2 153.4,178.2"/>
<g stroke="#c44e52" stroke-width="1.3" stroke-opacity="0.5" fill="none">
<path d="M315.1 16.8l4 4m0-4-4 4"/>
<path d="M269.1 43.5l4 4m0-4-4 4"/>
<path d="M292.4 44.1l4 4m0-4-4 4"/>
<path d="M262.0 51.9l4 4m0-4-4 4"/>
<path d="M251.6 58.0l4 4m0-4-4 4"/>
<path d="M252.0 59.1l4 4m0-4-4 4"/>
<path d="M254.7 64.2l4 4m0-4-4 4"/>
<path d="M292.2 71.8l4 4m0-4-4 4"/>
<path d="M237.1 69.0l4 4m0-4-4 4"/>
<path d="M236.3 71.4l4 4m0-4-4 4"/>
<path d="M230.0 73.0l4 4m0-4-4 4"/>
<path d="M243.5 75.0l4 4m0-4-4 4"/>
<path d="M218.4 78.6l4 4m0-4-4 4"/>
<path d="M212.4 85.7l4 4m0-4-4 4"/>
<path d="M218.7 79.2l4 4m0-4-4 4"/>
<path d="M224.3 81.1l4 4m0-4-4 4"/>
<path d="M257.9 82.9l4 4m0-4-4 4"/>
<path d="M273.6 93.4l4 4m0-4-4 4"/>
<path d="M202.3 99.6l4 4m0-4-4 4"/>
<path d="M215.5 96.8l4 4m0-4-4 4"/>
<path d="M222.2 94.4l4 4m0-4-4 4"/>
<path d="M203.1 109.5l4 4m0-4-4 4"/>
<path d="M248.0 97.6l4 4m0-4-4 4"/>
<path d="M244.8 100.0l4 4m0-4-4 4"/>
<path d="M167.2 194.7l4 4m0-4-4 4"/>
<path d="M174.2 176.2l4 4m0-4-4 4"/>
<path d="M155.7 195.4l4 4m0-4-4 4"/>
<path d="M152.5 196.0l4 4m0-4-4 4"/>
<path d="M137.2 209.4l4 4m0-4-4 4"/>
<path d="M127.0 203.7l4 4m0-4-4 4"/>
<path d="M99.5 218.6l4 4m0-4-4 4"/>
<path d="M99.5 221.3l4 4m0-4-4 4"/>
<path d="M117.0 219.0l4 4m0-4-4 4"/>
<path d="M117.0 221.0l4 4m0-4-4 4"/>
<path d="M125.3 217.8l4 4m0-4-4 4"/>
<path d="M130.1 216.2l4 4m0-4-4 4"/>
<path d="M203.6 109.6l4 4m0-4-4 4"/>
<path d="M165.4 171.0l4 4m0-4-4 4"/>
<path d="M204.5 111.2l4 4m0-4-4 4"/>
<path d="M161.1 169.8l4 4m0-4-4 4"/>
<path d="M158.9 173.3l4 4m0-4-4 4"/>
<path d="M191.6 139.6l4 4m0-4-4 4"/>
<path d="M214.1 108.3l4 4m0-4-4 4"/>
<path d="M202.0 131.3l4 4m0-4-4 4"/>
<path d="M196.6 128.4l4 4m0-4-4 4"/>
<path d="M188.6 129.2l4 4m0-4-4 4"/>
<path d="M165.2 154.5l4 4m0-4-4 4"/>
<path d="M181.0 153.9l4 4m0-4-4 4"/>
<path d="M186.4 155.2l4 4m0-4-4 4"/>
<path d="M169.9 157.2l4 4m0-4-4 4"/>
<path d="M174.3 167.1l4 4m0-4-4 4"/>
<path d="M208.1 115.4l4 4m0-4-4 4"/>
<path d="M171.6 153.7l4 4m0-4-4 4"/>
<path d="M186.5 148.0l4 4m0-4-4 4"/>
<path d="M220.4 108.6l4 4m0-4-4 4"/>
<path d="M195.1 138.3l4 4m0-4-4 4"/>
<path d="M222.4 111.3l4 4m0-4-4 4"/>
<path d="M167.1 157.3l4 4m0-4-4 4"/>
<path d="M154.7 164.3l4 4m0-4-4 4"/>
<path d="M160.7 170.5l4 4m0-4-4 4"/>
<path d="M223.3 119.4l4 4m0-4-4 4"/>
<path d="M189.3 153.3l4 4m0-4-4 4"/>
<path d="M187.6 157.7l4 4m0-4-4 4"/>
<path d="M170.4 168.1l4 4m0-4-4 4"/>
<path d="M187.2 148.3l4 4m0-4-4 4"/>
<path d="M196.4 148.2l4 4m0-4-4 4"/>
<path d="M179.8 159.6l4 4m0-4-4 4"/>
<path d="M163.9 174.7l4 4m0-4-4 4"/>
<path d="M148.8 179.2l4 4m0-4-4 4"/>
<path d="M186.4 130.6l4 4m0-4-4 4"/>
<path d="M177.7 142.0l4 4m0-4-4 4"/>
<path d="M206.7 124.3l4 4m0-4-4 4"/>
<path d="M212.5 109.8l4 4m0-4-4 4"/>
<path d="M157.6 167.0l4 4m0-4-4 4"/>
<path d="M204.1 141.1l4 4m0-4-4 4"/>
<path d="M208.1 109.9l4 4m0-4-4 4"/>
<path d="M179.6 134.1l4 4m0-4-4 4"/>
<path d="M214.3 117.4l4 4m0-4-4 4"/>
<path d="M186.8 139.8l4 4m0-4-4 4"/>
<path d="M164.3 176.3l4 4m0-4-4 4"/>
<path d="M202.6 142.3l4 4m0-4-4 4"/>
<path d="M212.5 124.4l4 4m0-4-4 4"/>
<path d="M160.5 173.5l4 4m0-4-4 4"/>
<path d="M158.3 163.4l4 4m0-4-4 4"/>
<path d="M184.5 158.6l4 4m0-4-4 4"/>
<path d="M210.4 115.9l4 4m0-4-4 4"/>
<path d="M192.6 130.9l4 4m0-4-4 4"/>
<path d="M160.1 174.2l4 4m0-4-4 4"/>
<path d="M180.2 148.6l4 4m0-4-4 4"/>
<path d="M213.5 118.5l4 4m0-4-4 4"/>
<path d="M191.7 130.0l4 4m0-4-4 4"/>
<path d="M153.3 166.7l4 4m0-4-4 4"/>
<path d="M200.4 124.9l4 4m0-4-4 4"/>
<path d="M208.2 132.4l4 4m0-4-4 4"/>
<path d="M194.1 150.0l4 4m0-4-4 4"/>
<path d="M199.3 116.3l4 4m0-4-4 4"/>
<path d="M197.2 148.0l4 4m0-4-4 4"/>
<path d="M171.1 148.1l4 4m0-4-4 4"/>
<path d="M212.0 116.5l4 4m0-4-4 4"/>
<path d="M177.4 168.2l4 4m0-4-4 4"/>
<path d="M156.8 166.6l4 4m0-4-4 4"/>
<path d="M205.0 109.5l4 4m0-4-4 4"/>
<path d="M169.2 148.9l4 4m0-4-4 4"/>
<path d="M179.5 164.2l4 4m0-4-4 4"/>
<path d="M223.6 117.3l4 4m0-4-4 4"/>
<path d="M188.4 132.1l4 4m0-4-4 4"/>
<path d="M215.0 115.2l4 4m0-4-4 4"/>
<path d="M203.5 138.3l4 4m0-4-4 4"/>
<path d="M188.4 135.1l4 4m0-4-4 4"/>
<path d="M203.8 123.0l4 4m0-4-4 4"/>
<path d="M180.0 153.1l4 4m0-4-4 4"/>
<path d="M179.2 134.7l4 4m0-4-4 4"/>
<path d="M173.5 146.3l4 4m0-4-4 4"/>
<path d="M178.0 157.1l4 4m0-4-4 4"/>
<path d="M194.2 147.2l4 4m0-4-4 4"/>
<path d="M200.2 141.0l4 4m0-4-4 4"/>
<path d="M158.4 181.0l4 4m0-4-4 4"/>
<path d="M182.5 161.1l4 4m0-4-4 4"/>
<path d="M206.1 123.8l4 4m0-4-4 4"/>
<path d="M198.8 119.8l4 4m0-4-4 4"/>
<path d="M167.2 156.8l4 4m0-4-4 4"/>
<path d="M157.3 180.3l4 4m0-4-4 4"/>
<path d="M199.5 145.6l4 4m0-4-4 4"/>
<path d="M161.5 158.1l4 4m0-4-4 4"/>
<path d="M225.7 109.1l4 4m0-4-4 4"/>
<path d="M176.8 139.4l4 4m0-4-4 4"/>
<path d="M224.7 109.6l4 4m0-4-4 4"/>
<path d="M210.1 110.1l4 4m0-4-4 4"/>
<path d="M179.3 138.3l4 4m0-4-4 4"/>
<path d="M181.8 140.8l4 4m0-4-4 4"/>
<path d="M196.1 134.8l4 4m0-4-4 4"/>
<path d="M165.9 153.9l4 4m0-4-4 4"/>
<path d="M171.7 141.4l4 4m0-4-4 4"/>
<path d="M183.5 141.1l4 4m0-4-4 4"/>
<path d="M187.6 143.1l4 4m0-4-4 4"/>
<path d="M160.5 169.9l4 4m0-4-4 4"/>
<path d="M166.6 163.3l4 4m0-4-4 4"/>
<path d="M172.5 161.8l4 4m0-4-4 4"/>
<path d="M180.7 144.1l4 4m0-4-4 4"/>
<path d="M151.1 172.1l4 4m0-4-4 4"/>
<path d="M219.7 119.1l4 4m0-4-4 4"/>
<path d="M175.4 167.9l4 4m0-4-4 4"/>
<path d="M155.5 170.4l4 4m0-4-4 4"/>
<path d="M196.0 140.4l4 4m0-4-4 4"/>
<path d="M160.9 157.9l4 4m0-4-4 4"/>
<path d="M186.0 138.5l4 4m0-4-4 4"/>
<path d="M220.4 120.0l4 4m0-4-4 4"/>
<path d="M201.9 135.0l4 4m0-4-4 4"/>
<path d="M151.1 175.1l4 4m0-4-4 4"/>
<path d="M185.3 136.5l4 4m0-4-4 4"/>
<path d="M151.1 170.2l4 4m0-4-4 4"/>
<path d="M196.0 124.1l4 4m0-4-4 4"/>
<path d="M194.4 130.1l4 4m0-4-4 4"/>
<path d="M171.8 142.1l4 4m0-4-4 4"/>
<path d="M209.8 127.0l4 4m0-4-4 4"/>
<path d="M180.3 146.8l4 4m0-4-4 4"/>
<path d="M151.1 175.6l4 4m0-4-4 4"/>
<path d="M204.8 116.5l4 4m0-4-4 4"/>
<path d="M199.8 133.1l4 4m0-4-4 4"/>
<path d="M163.6 164.3l4 4m0-4-4 4"/>
<path d="M177.9 149.0l4 4m0-4-4 4"/>
<path d="M219.2 109.0l4 4m0-4-4 4"/>
<path d="M227.8 117.6l4 4m0-4-4 4"/>
<path d="M204.2 137.9l4 4m0-4-4 4"/>
<path d="M183.8 152.5l4 4m0-4-4 4"/>
<path d="M187.9 144.6l4 4m0-4-4 4"/>
<path d="M192.4 143.6l4 4m0-4-4 4"/>
<path d="M225.0 114.3l4 4m0-4-4 4"/>
<path d="M169.0 173.6l4 4m0-4-4 4"/>
<path d="M170.4 169.3l4 4m0-4-4 4"/>
<path d="M222.0 108.9l4 4m0-4-4 4"/>
<path d="M193.4 131.7l4 4m0-4-4 4"/>
<path d="M216.0 121.5l4 4m0-4-4 4"/>
<path d="M198.8 134.5l4 4m0-4-4 4"/>
<path d="M159.7 162.0l4 4m0-4-4 4"/>
<path d="M219.4 117.4l4 4m0-4-4 4"/>
<path d="M173.0 140.0l4 4m0-4-4 4"/>
<path d="M155.7 166.5l4 4m0-4-4 4"/>
<path d="M215.4 125.4l4 4m0-4-4 4"/>
<path d="M196.5 147.9l4 4m0-4-4 4"/>
<path d="M216.2 124.5l4 4m0-4-4 4"/>
<path d="M187.7 136.5l4 4m0-4-4 4"/>
<path d="M199.7 145.2l4 4m0-4-4 4"/>
<path d="M156.8 174.0l4 4m0-4-4 4"/>
<path d="M187.4 149.4l4 4m0-4-4 4"/>
<path d="M159.0 158.5l4 4m0-4-4 4"/>
<path d="M206.0 110.7l4 4m0-4-4 4"/>
<path d="M166.7 171.7l4 4m0-4-4 4"/>
<path d="M223.4 109.6l4 4m0-4-4 4"/>
<path d="M171.6 148.1l4 4m0-4-4 4"/>
<path d="M212.7 110.9l4 4m0-4-4 4"/>
<path d="M206.9 112.4l4 4m0-4-4 4"/>
<path d="M173.6 151.5l4 4m0-4-4 4"/>
<path d="M200.7 138.0l4 4m0-4-4 4"/>
<path d="M198.1 122.2l4 4m0-4-4 4"/>
<path d="M203.6 120.1l4 4m0-4-4 4"/>
<path d="M166.6 162.0l4 4m0-4-4 4"/>
<path d="M179.7 163.7l4 4m0-4-4 4"/>
<path d="M205.2 119.3l4 4m0-4-4 4"/>
<path d="M177.3 160.7l4 4m0-4-4 4"/>
<path d="M174.4 145.9l4 4m0-4-4 4"/>
<path d="M180.0 155.3l4 4m0-4-4 4"/>
<path d="M169.9 158.7l4 4m0-4-4 4"/>
<path d="M163.2 161.9l4 4m0-4-4 4"/>
<path d="M189.1 133.0l4 4m0-4-4 4"/>
<path d="M207.5 113.6l4 4m0-4-4 4"/>
<path d="M196.8 124.7l4 4m0-4-4 4"/>
<path d="M208.8 128.7l4 4m0-4-4 4"/>
<path d="M163.7 169.2l4 4m0-4-4 4"/>
<path d="M209.0 122.2l4 4m0-4-4 4"/>
<path d="M151.5 168.3l4 4m0-4-4 4"/>
<path d="M207.7 132.3l4 4m0-4-4 4"/>
<path d="M224.4 113.7l4 4m0-4-4 4"/>
<path d="M176.7 151.7l4 4m0-4-4 4"/>
<path d="M158.0 183.0l4 4m0-4-4 4"/>
<path d="M194.0 130.1l4 4m0-4-4 4"/>
<path d="M219.2 107.5l4 4m0-4-4 4"/>
<path d="M198.0 145.6l4 4m0-4-4 4"/>
<path d="M183.8 156.2l4 4m0-4-4 4"/>
<path d="M205.1 126.6l4 4m0-4-4 4"/>
<path d="M216.2 107.4l4 4m0-4-4 4"/>
<path d="M218.6 122.3l4 4m0-4-4 4"/>
<path d="M173.6 151.0l4 4m0-4-4 4"/>
<path d="M186.7 138.1l4 4m0-4-4 4"/>
<path d="M185.0 145.9l4 4m0-4-4 4"/>
<path d="M213.7 108.6l4 4m0-4-4 4"/>
<path d="M198.8 144.9l4 4m0-4-4 4"/>
<path d="M176.3 154.4l4 4m0-4-4 4"/>
<path d="M160.6 179.5l4 4m0-4-4 4"/>
<path d="M165.9 153.7l4 4m0-4-4 4"/>
<path d="M197.0 148.9l4 4m0-4-4 4"/>
<path d="M215.1 114.8l4 4m0-4-4 4"/>
<path d="M209.4 113.9l4 4m0-4-4 4"/>
<path d="M224.5 115.0l4 4m0-4-4 4"/>
<path d="M180.7 136.2l4 4m0-4-4 4"/>
<path d="M175.8 137.7l4 4m0-4-4 4"/>
<path d="M217.4 122.3l4 4m0-4-4 4"/>
<path d="M205.0 140.9l4 4m0-4-4 4"/>
<path d="M200.8 135.1l4 4m0-4-4 4"/>
<path d="M210.1 128.1l4 4m0-4-4 4"/>
<path d="M210.6 131.7l4 4m0-4-4 4"/>
<path d="M200.1 118.9l4 4m0-4-4 4"/>
<path d="M159.5 182.1l4 4m0-4-4 4"/>
<path d="M205.1 118.8l4 4m0-4-4 4"/>
<path d="M163.9 166.4l4 4m0-4-4 4"/>
<path d="M170.1 175.4l4 4m0-4-4 4"/>
<path d="M167.9 175.3l4 4m0-4-4 4"/>
<path d="M181.4 144.9l4 4m0-4-4 4"/>
<path d="M200.4 137.6l4 4m0-4-4 4"/>
<path d="M179.9 133.5l4 4m0-4-4 4"/>
<path d="M174.1 151.9l4 4m0-4-4 4"/>
<path d="M207.7 119.1l4 4m0-4-4 4"/>
<path d="M210.2 116.8l4 4m0-4-4 4"/>
<path d="M175.7 146.8l4 4m0-4-4 4"/>
<path d="M188.4 157.2l4 4m0-4-4 4"/>
<path d="M178.1 137.2l4 4m0-4-4 4"/>
<path d="M176.7 138.9l4 4m0-4-4 4"/>
<path d="M177.4 146.1l4 4m0-4-4 4"/>
<path d="M199.5 115.0l4 4m0-4-4 4"/>
<path d="M173.3 144.3l4 4m0-4-4 4"/>
<path d="M216.1 108.2l4 4m0-4-4 4"/>
<path d="M210.0 129.6l4 4m0-4-4 4"/>
<path d="M209.7 129.5l4 4m0-4-4 4"/>
<path d="M189.8 146.9l4 4m0-4-4 4"/>
<path d="M154.3 178.1l4 4m0-4-4 4"/>
<path d="M164.4 164.8l4 4m0-4-4 4"/>
<path d="M170.7 151.7l4 4m0-4-4 4"/>
<path d="M189.9 132.9l4 4m0-4-4 4"/>
<path d="M176.9 140.7l4 4m0-4-4 4"/>
<path d="M196.2 123.8l4 4m0-4-4 4"/>
<path d="M170.4 169.3l4 4m0-4-4 4"/>
<path d="M173.6 150.7l4 4m0-4-4 4"/>
<path d="M213.3 127.5l4 4m0-4-4 4"/>
<path d="M196.0 133.4l4 4m0-4-4 4"/>
<path d="M191.7 146.8l4 4m0-4-4 4"/>
<path d="M206.9 108.4l4 4m0-4-4 4"/>
<path d="M162.3 162.4l4 4m0-4-4 4"/>
<path d="M194.4 138.7l4 4m0-4-4 4"/>
<path d="M210.1 121.3l4 4m0-4-4 4"/>
<path d="M186.4 128.8l4 4m0-4-4 4"/>
<path d="M159.0 163.8l4 4m0-4-4 4"/>
<path d="M174.8 163.5l4 4m0-4-4 4"/>
<path d="M175.1 160.7l4 4m0-4-4 4"/>
<path d="M190.0 153.5l4 4m0-4-4 4"/>
<path d="M202.8 136.7l4 4m0-4-4 4"/>
<path d="M209.5 127.9l4 4m0-4-4 4"/>
<path d="M158.5 168.7l4 4m0-4-4 4"/>
<path d="M199.2 137.5l4 4m0-4-4 4"/>
<path d="M200.5 140.8l4 4m0-4-4 4"/>
<path d="M181.7 162.1l4 4m0-4-4 4"/>
<path d="M163.3 168.4l4 4m0-4-4 4"/>
<path d="M176.3 138.4l4 4m0-4-4 4"/>
<path d="M159.0 162.4l4 4m0-4-4 4"/>
<path d="M197.1 146.9l4 4m0-4-4 4"/>
<path d="M157.5 172.4l4 4m0-4-4 4"/>
<path d="M225.5 117.9l4 4m0-4-4 4"/>
<path d="M203.1 112.2l4 4m0-4-4 4"/>
<path d="M174.5 166.4l4 4m0-4-4 4"/>
<path d="M188.3 142.3l4 4m0-4-4 4"/>
<path d="M213.9 126.2l4 4m0-4-4 4"/>
<path d="M175.9 169.4l4 4m0-4-4 4"/>
<path d="M175.4 142.7l4 4m0-4-4 4"/>
<path d="M155.3 176.7l4 4m0-4-4 4"/>
<path d="M190.0 153.0l4 4m0-4-4 4"/>
<path d="M176.8 138.7l4 4m0-4-4 4"/>
<path d="M162.7 178.2l4 4m0-4-4 4"/>
<path d="M197.9 121.4l4 4m0-4-4 4"/>
<path d="M170.3 166.7l4 4m0-4-4 4"/>
<path d="M208.3 121.1l4 4m0-4-4 4"/>
<path d="M163.1 175.3l4 4m0-4-4 4"/>
<path d="M201.0 142.2l4 4m0-4-4 4"/>
<path d="M167.0 172.4l4 4m0-4-4 4"/>
<path d="M211.9 113.3l4 4m0-4-4 4"/>
<path d="M174.0 164.2l4 4m0-4-4 4"/>
<path d="M191.6 149.6l4 4m0-4-4 4"/>
<path d="M196.1 135.5l4 4m0-4-4 4"/>
<path d="M215.5 121.7l4 4m0-4-4 4"/>
<path d="M155.6 169.3l4 4m0-4-4 4"/>
<path d="M191.2 131.5l4 4m0-4-4 4"/>
<path d="M190.3 146.2l4 4m0-4-4 4"/>
<path d="M153.2 177.0l4 4m0-4-4 4"/>
<path d="M170.1 149.4l4 4m0-4-4 4"/>
<path d="M174.3 156.6l4 4m0-4-4 4"/>
<path d="M209.3 125.5l4 4m0-4-4 4"/>
<path d="M159.9 174.8l4 4m0-4-4 4"/>
<path d="M163.7 174.3l4 4m0-4-4 4"/>
<path d="M215.3 127.7l4 4m0-4-4 4"/>
<path d="M208.9 136.0l4 4m0-4-4 4"/>
<path d="M196.5 126.9l4 4m0-4-4 4"/>
<path d="M196.9 136.6l4 4m0-4-4 4"/>
<path d="M210.8 132.7l4 4m0-4-4 4"/>
<path d="M157.9 161.3l4 4m0-4-4 4"/>
<path d="M212.6 122.1l4 4m0-4-4 4"/>
<path d="M174.5 162.3l4 4m0-4-4 4"/>
<path d="M167.2 175.3l4 4m0-4-4 4"/>
<path d="M177.0 137.9l4 4m0-4-4 4"/>
<path d="M181.6 139.4l4 4m0-4-4 4"/>
<path d="M165.2 167.6l4 4m0-4-4 4"/>
<path d="M195.4 143.3l4 4m0-4-4 4"/>
<path d="M195.1 134.9l4 4m0-4-4 4"/>
<path d="M163.2 178.0l4 4m0-4-4 4"/>
<path d="M162.1 165.7l4 4m0-4-4 4"/>
<path d="M209.5 116.4l4 4m0-4-4 4"/>
<path d="M190.1 149.4l4 4m0-4-4 4"/>
<path d="M189.4 138.4l4 4m0-4-4 4"/>
<path d="M205.6 137.8l4 4m0-4-4 4"/>
<path d="M170.7 144.6l4 4m0-4-4 4"/>
<path d="M157.5 175.5l4 4m0-4-4 4"/>
<path d="M166.6 162.1l4 4m0-4-4 4"/>
<path d="M166.8 155.4l4 4m0-4-4 4"/>
<path d="M202.0 142.3l4 4m0-4-4 4"/>
<path d="M193.9 123.9l4 4m0-4-4 4"/>
<path d="M190.8 144.1l4 4m0-4-4 4"/>
<path d="M220.7 108.8l4 4m0-4-4 4"/>
<path d="M223.4 116.1l4 4m0-4-4 4"/>
<path d="M185.0 158.0l4 4m0-4-4 4"/>
<path d="M173.6 143.6l4 4m0-4-4 4"/>
<path d="M165.4 154.0l4 4m0-4-4 4"/>
<path d="M191.3 153.2l4 4m0-4-4 4"/>
<path d="M208.9 132.9l4 4m0-4-4 4"/>
<path d="M182.2 134.2l4 4m0-4-4 4"/>
<path d="M226.6 112.3l4 4m0-4-4 4"/>
<path d="M157.2 179.5l4 4m0-4-4 4"/>
<path d="M168.1 177.1l4 4m0-4-4 4"/>
<path d="M179.0 144.7l4 4m0-4-4 4"/>
<path d="M170.7 173.0l4 4m0-4-4 4"/>
<path d="M195.8 132.8l4 4m0-4-4 4"/>
<path d="M224.7 113.6l4 4m0-4-4 4"/>
<path d="M203.5 131.4l4 4m0-4-4 4"/>
<path d="M200.9 135.2l4 4m0-4-4 4"/>
<path d="M163.6 173.9l4 4m0-4-4 4"/>
<path d="M193.5 136.6l4 4m0-4-4 4"/>
<path d="M163.3 166.9l4 4m0-4-4 4"/>
<path d="M151.6 172.5l4 4m0-4-4 4"/>
<path d="M194.4 125.0l4 4m0-4-4 4"/>
<path d="M179.0 141.9l4 4m0-4-4 4"/>
<path d="M171.5 151.0l4 4m0-4-4 4"/>
<path d="M187.9 156.8l4 4m0-4-4 4"/>
<path d="M166.0 170.8l4 4m0-4-4 4"/>
<path d="M196.4 137.0l4 4m0-4-4 4"/>
<path d="M198.8 114.0l4 4m0-4-4 4"/>
<path d="M219.4 121.3l4 4m0-4-4 4"/>
<path d="M164.9 163.9l4 4m0-4-4 4"/>
<path d="M188.6 144.6l4 4m0-4-4 4"/>
<path d="M203.8 125.9l4 4m0-4-4 4"/>
<path d="M173.1 164.2l4 4m0-4-4 4"/>
<path d="M170.2 151.6l4 4m0-4-4 4"/>
<path d="M190.1 130.3l4 4m0-4-4 4"/>
<path d="M208.3 115.0l4 4m0-4-4 4"/>
<path d="M202.0 144.4l4 4m0-4-4 4"/>
<path d="M171.6 164.2l4 4m0-4-4 4"/>
<path d="M209.7 127.5l4 4m0-4-4 4"/>
<path d="M211.5 114.6l4 4m0-4-4 4"/>
<path d="M183.4 134.7l4 4m0-4-4 4"/>
<path d="M161.2 177.3l4 4m0-4-4 4"/>
<path d="M186.4 143.9l4 4m0-4-4 4"/>
<path d="M216.3 116.0l4 4m0-4-4 4"/>
<path d="M205.7 108.3l4 4m0-4-4 4"/>
<path d="M178.2 143.2l4 4m0-4-4 4"/>
<path d="M174.9 139.3l4 4m0-4-4 4"/>
<path d="M180.3 142.9l4 4m0-4-4 4"/>
<path d="M176.7 163.4l4 4m0-4-4 4"/>
<path d="M159.3 181.1l4 4m0-4-4 4"/>
<path d="M163.7 173.1l4 4m0-4-4 4"/>
<path d="M196.5 132.8l4 4m0-4-4 4"/>
<path d="M174.4 144.9l4 4m0-4-4 4"/>
<path d="M179.8 138.3l4 4m0-4-4 4"/>
<path d="M156.8 162.0l4 4m0-4-4 4"/>
<path d="M163.2 167.4l4 4m0-4-4 4"/>
<path d="M208.4 116.4l4 4m0-4-4 4"/>
<path d="M217.5 110.0l4 4m0-4-4 4"/>
<path d="M187.9 144.6l4 4m0-4-4 4"/>
<path d="M159.1 175.8l4 4m0-4-4 4"/>
<path d="M183.0 153.0l4 4m0-4-4 4"/>
<path d="M168.6 149.1l4 4m0-4-4 4"/>
<path d="M214.0 122.1l4 4m0-4-4 4"/>
<path d="M189.8 148.9l4 4m0-4-4 4"/>
<path d="M210.7 133.8l4 4m0-4-4 4"/>
<path d="M190.8 146.0l4 4m0-4-4 4"/>
<path d="M213.3 122.2l4 4m0-4-4 4"/>
<path d="M175.4 135.6l4 4m0-4-4 4"/>
<path d="M215.1 123.2l4 4m0-4-4 4"/>
<path d="M180.0 163.5l4 4m0-4-4 4"/>
<path d="M207.8 114.8l4 4m0-4-4 4"/>
<path d="M150.8 174.6l4 4m0-4-4 4"/>
<path d="M159.2 168.6l4 4m0-4-4 4"/>
<path d="M188.0 148.8l4 4m0-4-4 4"/>
<path d="M191.4 138.8l4 4m0-4-4 4"/>
<path d="M193.5 127.5l4 4m0-4-4 4"/>
<path d="M196.1 121.9l4 4m0-4-4 4"/>
<path d="M210.1 107.8l4 4m0-4-4 4"/>
<path d="M182.6 160.2l4 4m0-4-4 4"/>
<path d="M165.4 175.8l4 4m0-4-4 4"/>
<path d="M179.1 134.7l4 4m0-4-4 4"/>
<path d="M157.7 161.9l4 4m0-4-4 4"/>
<path d="M197.1 135.9l4 4m0-4-4 4"/>
<path d="M204.3 116.4l4 4m0-4-4 4"/>
<path d="M198.6 112.8l4 4m0-4-4 4"/>
<path d="M175.5 141.7l4 4m0-4-4 4"/>
<path d="M220.0 111.8l4 4m0-4-4 4"/>
<path d="M203.7 118.7l4 4m0-4-4 4"/>
<path d="M192.0 150.8l4 4m0-4-4 4"/>
<path d="M210.0 121.2l4 4m0-4-4 4"/>
<path d="M186.2 158.1l4 4m0-4-4 4"/>
<path d="M194.4 124.9l4 4m0-4-4 4"/>
<path d="M204.7 118.7l4 4m0-4-4 4"/>
<path d="M211.4 115.1l4 4m0-4-4 4"/>
<path d="M152.0 179.4l4 4m0-4-4 4"/>
<path d="M184.6 150.9l4 4m0-4-4 4"/>
<path d="M208.1 118.4l4 4m0-4-4 4"/>
<path d="M198.9 138.0l4 4m0-4-4 4"/>
<path d="M185.5 138.5l4 4m0-4-4 4"/>
<path d="M178.1 143.0l4 4m0-4-4 4"/>
<path d="M200.5 130.6l4 4m0-4-4 4"/>
<path d="M165.5 169.2l4 4m0-4-4 4"/>
<path d="M157.3 174.3l4 4m0-4-4 4"/>
<path d="M156.5 166.4l4 4m0-4-4 4"/>
<path d="M159.3 158.6l4 4m0-4-4 4"/>
<path d="M190.5 130.0l4 4m0-4-4 4"/>
<path d="M190.0 144.4l4 4m0-4-4 4"/>
<path d="M227.2 117.7l4 4m0-4-4 4"/>
<path d="M184.0 156.4l4 4m0-4-4 4"/>
<path d="M209.6 123.8l4 4m0-4-4 4"/>
<path d="M207.9 114.5l4 4m0-4-4 4"/>
<path d="M189.5 128.8l4 4m0-4-4 4"/>
<path d="M184.7 157.6l4 4m0-4-4 4"/>
<path d="M158.8 174.9l4 4m0-4-4 4"/>
<path d="M156.8 172.1l4 4m0-4-4 4"/>
<path d="M184.2 138.1l4 4m0-4-4 4"/>
<path d="M211.2 129.6l4 4m0-4-4 4"/>
<path d="M182.3 134.4l4 4m0-4-4 4"/>
<path d="M195.2 129.7l4 4m0-4-4 4"/>
<path d="M232.6 114.5l4 4m0-4-4 4"/>
<path d="M159.6 174.1l4 4m0-4-4 4"/>
<path d="M190.7 130.4l4 4m0-4-4 4"/>
<path d="M180.6 155.3l4 4m0-4-4 4"/>
<path d="M192.9 127.4l4 4m0-4-4 4"/>
<path d="M187.2 129.7l4 4m0-4-4 4"/>
<path d="M150.6 178.6l4 4m0-4-4 4"/>
<path d="M178.3 145.4l4 4m0-4-4 4"/>
<path d="M161.8 173.4l4 4m0-4-4 4"/>
<path d="M205.1 140.0l4 4m0-4-4 4"/>
<path d="M199.2 117.2l4 4m0-4-4 4"/>
<path d="M186.2 129.7l4 4m0-4-4 4"/>
<path d="M192.1 139.0l4 4m0-4-4 4"/>
<path d="M176.3 151.5l4 4m0-4-4 4"/>
<path d="M176.5 145.3l4 4m0-4-4 4"/>
<path d="M210.2 117.2l4 4m0-4-4 4"/>
<path d="M189.1 146.0l4 4m0-4-4 4"/>
<path d="M197.3 138.3l4 4m0-4-4 4"/>
<path d="M164.9 169.5l4 4m0-4-4 4"/>
<path d="M214.9 116.8l4 4m0-4-4 4"/>
<path d="M193.5 141.0l4 4m0-4-4 4"/>
<path d="M170.8 149.7l4 4m0-4-4 4"/>
<path d="M197.6 148.6l4 4m0-4-4 4"/>
<path d="M169.5 173.8l4 4m0-4-4 4"/>
<path d="M175.0 157.0l4 4m0-4-4 4"/>
<path d="M212.7 131.9l4 4m0-4-4 4"/>
<path d="M154.2 169.1l4 4m0-4-4 4"/>
<path d="M196.7 134.3l4 4m0-4-4 4"/>
<path d="M204.6 109.3l4 4m0-4-4 4"/>
<path d="M202.5 135.5l4 4m0-4-4 4"/>
<path d="M150.7 169.4l4 4m0-4-4 4"/>
<path d="M184.9 159.0l4 4m0-4-4 4"/>
<path d="M163.8 156.8l4 4m0-4-4 4"/>
<path d="M193.4 144.0l4 4m0-4-4 4"/>
<path d="M204.8 125.8l4 4m0-4-4 4"/>
<path d="M196.2 126.0l4 4m0-4-4 4"/>
<path d="M205.0 115.0l4 4m0-4-4 4"/>
<path d="M176.8 160.5l4 4m0-4-4 4"/>
<path d="M210.9 121.9l4 4m0-4-4 4"/>
<path d="M194.4 127.2l4 4m0-4-4 4"/>
<path d="M164.5 155.5l4 4m0-4-4 4"/>
<path d="M193.5 123.1l4 4m0-4-4 4"/>
<path d="M219.4 122.2l4 4m0-4-4 4"/>
<path d="M213.9 126.0l4 4m0-4-4 4"/>
<path d="M179.4 143.0l4 4m0-4-4 4"/>
<path d="M187.6 150.1l4 4m0-4-4 4"/>
<path d="M159.6 174.2l4 4m0-4-4 4"/>
<path d="M203.4 122.8l4 4m0-4-4 4"/>
<path d="M215.2 113.2l4 4m0-4-4 4"/>
<path d="M196.1 141.1l4 4m0-4-4 4"/>
<path d="M196.5 123.3l4 4m0-4-4 4"/>
<path d="M187.2 157.3l4 4m0-4-4 4"/>
<path d="M153.4 175.8l4 4m0-4-4 4"/>
<path d="M169.8 160.9l4 4m0-4-4 4"/>
<path d="M230.1 112.6l4 4m0-4-4 4"/>
<path d="M207.7 119.4l4 4m0-4-4 4"/>
<path d="M196.2 135.9l4 4m0-4-4 4"/>
<path d="M220.4 113.9l4 4m0-4-4 4"/>
<path d="M163.8 169.3l4 4m0-4-4 4"/>
<path d="M183.5 130.8l4 4m0-4-4 4"/>
<path d="M220.8 108.6l4 4m0-4-4 4"/>
<path d="M200.9 144.1l4 4m0-4-4 4"/>
<path d="M178.8 146.8l4 4m0-4-4 4"/>
<path d="M181.0 156.8l4 4m0-4-4 4"/>
<path d="M198.3 121.8l4 4m0-4-4 4"/>
<path d="M227.2 111.9l4 4m0-4-4 4"/>
<path d="M166.8 168.2l4 4m0-4-4 4"/>
<path d="M168.7 169.6l4 4m0-4-4 4"/>
<path d="M213.6 118.6l4 4m0-4-4 4"/>
<path d="M175.3 151.7l4 4m0-4-4 4"/>
<path d="M174.9 166.0l4 4m0-4-4 4"/>
<path d="M148.5 175.1l4 4m0-4-4 4"/>
<path d="M213.0 115.7l4 4m0-4-4 4"/>
<path d="M211.8 113.2l4 4m0-4-4 4"/>
<path d="M223.7 118.3l4 4m0-4-4 4"/>
<path d="M185.8 138.2l4 4m0-4-4 4"/>
<path d="M184.0 157.5l4 4m0-4-4 4"/>
<path d="M177.3 139.7l4 4m0-4-4 4"/>
<path d="M178.3 153.0l4 4m0-4-4 4"/>
<path d="M213.6 129.2l4 4m0-4-4 4"/>
<path d="M190.7 132.4l4 4m0-4-4 4"/>
<path d="M197.8 134.4l4 4m0-4-4 4"/>
<path d="M192.5 125.1l4 4m0-4-4 4"/>
<path d="M159.6 159.7l4 4m0-4-4 4"/>
<path d="M191.1 152.0l4 4m0-4-4 4"/>
<path d="M173.5 156.4l4 4m0-4-4 4"/>
<path d="M207.7 117.2l4 4m0-4-4 4"/>
<path d="M187.9 155.7l4 4m0-4-4 4"/>
<path d="M160.6 175.9l4 4m0-4-4 4"/>
<path d="M205.5 111.1l4 4m0-4-4 4"/>
<path d="M192.7 133.3l4 4m0-4-4 4"/>
<path d="M186.9 152.4l4 4m0-4-4 4"/>
<path d="M171.0 170.5l4 4m0-4-4 4"/>
<path d="M164.7 158.5l4 4m0-4-4 4"/>
<path d="M203.3 141.9l4 4m0-4-4 4"/>
<path d="M149.4 177.6l4 4m0-4-4 4"/>
<path d="M206.2 134.3l4 4m0-4-4 4"/>
<path d="M164.0 167.4l4 4m0-4-4 4"/>
<path d="M208.6 110.4l4 4m0-4-4 4"/>
<path d="M189.4 150.8l4 4m0-4-4 4"/>
<path d="M197.9 129.1l4 4m0-4-4 4"/>
<path d="M153.8 170.9l4 4m0-4-4 4"/>
<path d="M161.4 172.9l4 4m0-4-4 4"/>
<path d="M166.5 172.1l4 4m0-4-4 4"/>
<path d="M194.7 123.4l4 4m0-4-4 4"/>
<path d="M166.0 172.7l4 4m0-4-4 4"/>
<path d="M195.2 134.9l4 4m0-4-4 4"/>
<path d="M197.8 117.7l4 4m0-4-4 4"/>
<path d="M155.3 163.4l4 4m0-4-4 4"/>
<path d="M195.2 132.8l4 4m0-4-4 4"/>
<path d="M223.7 109.5l4 4m0-4-4 4"/>
<path d="M211.8 109.1l4 4m0-4-4 4"/>
<path d="M203.2 132.9l4 4m0-4-4 4"/>
<path d="M189.7 131.7l4 4m0-4-4 4"/>
<path d="M192.9 153.1l4 4m0-4-4 4"/>
<path d="M151.5 169.9l4 4m0-4-4 4"/>
<path d="M192.5 127.9l4 4m0-4-4 4"/>
<path d="M171.8 152.5l4 4m0-4-4 4"/>
<path d="M219.8 122.0l4 4m0-4-4 4"/>
<path d="M203.5 113.8l4 4m0-4-4 4"/>
<path d="M179.7 140.6l4 4m0-4-4 4"/>
<path d="M190.5 151.6l4 4m0-4-4 4"/>
<path d="M220.5 109.2l4 4m0-4-4 4"/>
<path d="M192.6 143.3l4 4m0-4-4 4"/>
<path d="M166.4 152.1l4 4m0-4-4 4"/>
<path d="M197.2 139.1l4 4m0-4-4 4"/>
<path d="M176.7 152.0l4 4m0-4-4 4"/>
<path d="M195.2 151.1l4 4m0-4-4 4"/>
<path d="M190.3 150.7l4 4m0-4-4 4"/>
<path d="M223.2 111.9l4 4m0-4-4 4"/>
<path d="M212.1 122.5l4 4m0-4-4 4"/>
<path d="M192.9 145.2l4 4m0-4-4 4"/>
<path d="M167.5 156.8l4 4m0-4-4 4"/>
<path d="M183.4 156.8l4 4m0-4-4 4"/>
<path d="M159.8 165.1l4 4m0-4-4 4"/>
<path d="M211.1 107.8l4 4m0-4-4 4"/>
<path d="M214.3 120.3l4 4m0-4-4 4"/>
<path d="M159.2 181.4l4 4m0-4-4 4"/>
<path d="M211.7 119.0l4 4m0-4-4 4"/>
<path d="M150.9 175.2l4 4m0-4-4 4"/>
<path d="M190.0 139.3l4 4m0-4-4 4"/>
<path d="M224.5 110.4l4 4m0-4-4 4"/>
<path d="M213.3 126.1l4 4m0-4-4 4"/>
<path d="M167.8 175.3l4 4m0-4-4 4"/>
<path d="M214.5 110.8l4 4m0-4-4 4"/>
<path d="M173.6 156.1l4 4m0-4-4 4"/>
<path d="M153.1 178.5l4 4m0-4-4 4"/>
<path d="M168.9 172.1l4 4m0-4-4 4"/>
<path d="M177.6 151.5l4 4m0-4-4 4"/>
<path d="M156.6 172.8l4 4m0-4-4 4"/>
<path d="M182.8 133.8l4 4m0-4-4 4"/>
<path d="M187.1 153.7l4 4m0-4-4 4"/>
<path d="M184.9 149.9l4 4m0-4-4 4"/>
<path d="M206.8 137.3l4 4m0-4-4 4"/>
<path d="M203.6 131.5l4 4m0-4-4 4"/>
<path d="M191.3 143.7l4 4m0-4-4 4"/>
<path d="M163.7 171.5l4 4m0-4-4 4"/>
<path d="M193.2 128.3l4 4m0-4-4 4"/>
<path d="M172.7 149.7l4 4m0-4-4 4"/>
<path d="M183.3 158.2l4 4m0-4-4 4"/>
<path d="M186.2 147.4l4 4m0-4-4 4"/>
<path d="M160.5 180.8l4 4m0-4-4 4"/>
<path d="M168.0 151.2l4 4m0-4-4 4"/>
<path d="M160.2 164.4l4 4m0-4-4 4"/>
<path d="M198.4 141.9l4 4m0-4-4 4"/>
<path d="M188.9 155.5l4 4m0-4-4 4"/>
<path d="M213.8 123.2l4 4m0-4-4 4"/>
<path d="M162.5 159.6l4 4m0-4-4 4"/>
<path d="M152.2 179.4l4 4m0-4-4 4"/>
<path d="M199.0 145.9l4 4m0-4-4 4"/>
<path d="M202.5 140.8l4 4m0-4-4 4"/>
<path d="M209.9 122.4l4 4m0-4-4 4"/>
<path d="M204.6 114.7l4 4m0-4-4 4"/>
<path d="M195.7 129.2l4 4m0-4-4 4"/>
<path d="M190.5 147.4l4 4m0-4-4 4"/>
<path d="M226.8 112.4l4 4m0-4-4 4"/>
<path d="M152.1 170.9l4 4m0-4-4 4"/>
<path d="M162.3 174.6l4 4m0-4-4 4"/>
<path d="M211.3 122.2l4 4m0-4-4 4"/>
<path d="M176.5 163.6l4 4m0-4-4 4"/>
<path d="M207.7 126.3l4 4m0-4-4 4"/>
<path d="M201.0 143.0l4 4m0-4-4 4"/>
<path d="M223.0 111.3l4 4m0-4-4 4"/>
<path d="M170.3 149.5l4 4m0-4-4 4"/>
<path d="M215.1 120.4l4 4m0-4-4 4"/>
<path d="M186.5 137.2l4 4m0-4-4 4"/>
<path d="M151.9 169.4l4 4m0-4-4 4"/>
<path d="M209.6 119.7l4 4m0-4-4 4"/>
<path d="M181.1 152.3l4 4m0-4-4 4"/>
<path d="M167.2 162.8l4 4m0-4-4 4"/>
<path d="M151.2 176.3l4 4m0-4-4 4"/>
<path d="M171.7 157.0l4 4m0-4-4 4"/>
<path d="M157.9 163.1l4 4m0-4-4 4"/>
<path d="M179.7 134.9l4 4m0-4-4 4"/>
<path d="M201.3 133.9l4 4m0-4-4 4"/>
<path d="M165.5 158.3l4 4m0-4-4 4"/>
<path d="M209.3 129.6l4 4m0-4-4 4"/>
<path d="M209.6 111.9l4 4m0-4-4 4"/>
<path d="M179.4 162.6l4 4m0-4-4 4"/>
<path d="M165.8 162.1l4 4m0-4-4 4"/>
<path d="M216.9 113.0l4 4m0-4-4 4"/>
<path d="M223.2 108.6l4 4m0-4-4 4"/>
<path d="M197.2 130.5l4 4m0-4-4 4"/>
<path d="M183.9 155.0l4 4m0-4-4 4"/>
<path d="M207.5 112.2l4 4m0-4-4 4"/>
<path d="M209.7 119.6l4 4m0-4-4 4"/>
<path d="M178.4 161.9l4 4m0-4-4 4"/>
<path d="M184.9 157.4l4 4m0-4-4 4"/>
<path d="M164.2 167.1l4 4m0-4-4 4"/>
<path d="M177.0 136.1l4 4m0-4-4 4"/>
<path d="M221.3 110.7l4 4m0-4-4 4"/>
<path d="M180.7 143.8l4 4m0-4-4 4"/>
<path d="M174.9 137.5l4 4m0-4-4 4"/>
<path d="M163.7 155.0l4 4m0-4-4 4"/>
<path d="M194.2 139.8l4 4m0-4-4 4"/>
<path d="M172.8 169.0l4 4m0-4-4 4"/>
<path d="M227.6 114.8l4 4m0-4-4 4"/>
<path d="M157.6 176.9l4 4m0-4-4 4"/>
<path d="M213.0 117.0l4 4m0-4-4 4"/>
<path d="M202.5 133.3l4 4m0-4-4 4"/>
<path d="M171.4 142.7l4 4m0-4-4 4"/>
<path d="M180.6 164.5l4 4m0-4-4 4"/>
<path d="M197.3 124.3l4 4m0-4-4 4"/>
<path d="M148.1 176.7l4 4m0-4-4 4"/>
<path d="M182.5 160.5l4 4m0-4-4 4"/>
<path d="M179.7 155.4l4 4m0-4-4 4"/>
<path d="M206.1 109.3l4 4m0-4-4 4"/>
<path d="M188.4 145.2l4 4m0-4-4 4"/>
<path d="M192.8 153.2l4 4m0-4-4 4"/>
<path d="M156.1 173.5l4 4m0-4-4 4"/>
<path d="M175.7 136.5l4 4m0-4-4 4"/>
<path d="M161.1 174.8l4 4m0-4-4 4"/>
<path d="M174.1 170.5l4 4m0-4-4 4"/>
<path d="M177.9 135.6l4 4m0-4-4 4"/>
<path d="M205.7 120.0l4 4m0-4-4 4"/>
<path d="M208.1 133.6l4 4m0-4-4 4"/>
<path d="M209.6 110.6l4 4m0-4-4 4"/>
<path d="M202.5 120.1l4 4m0-4-4 4"/>
<path d="M230.4 111.4l4 4m0-4-4 4"/>
<path d="M174.9 166.5l4 4m0-4-4 4"/>
<path d="M208.1 110.2l4 4m0-4-4 4"/>
<path d="M201.0 114.9l4 4m0-4-4 4"/>
<path d="M166.3 165.8l4 4m0-4-4 4"/>
<path d="M228.7 113.3l4 4m0-4-4 4"/>
<path d="M184.0 141.2l4 4m0-4-4 4"/>
<path d="M215.1 111.5l4 4m0-4-4 4"/>
<path d="M168.7 176.6l4 4m0-4-4 4"/>
<path d="M227.8 109.4l4 4m0-4-4 4"/>
<path d="M194.9 146.5l4 4m0-4-4 4"/>
<path d="M199.5 111.6l4 4m0-4-4 4"/>
<path d="M155.4 163.9l4 4m0-4-4 4"/>
<path d="M213.0 114.6l4 4m0-4-4 4"/>
<path d="M179.6 139.8l4 4m0-4-4 4"/>
<path d="M194.4 137.9l4 4m0-4-4 4"/>
<path d="M180.8 153.0l4 4m0-4-4 4"/>
<path d="M213.9 122.2l4 4m0-4-4 4"/>
<path d="M226.5 112.0l4 4m0-4-4 4"/>
<path d="M224.8 112.7l4 4m0-4-4 4"/>
<path d="M197.5 133.9l4 4m0-4-4 4"/>
<path d="M168.1 176.3l4 4m0-4-4 4"/>
<path d="M187.7 134.7l4 4m0-4-4 4"/>
<path d="M161.0 170.2l4 4m0-4-4 4"/>
<path d="M202.8 136.9l4 4m0-4-4 4"/>
<path d="M162.6 166.3l4 4m0-4-4 4"/>
<path d="M227.1 113.6l4 4m0-4-4 4"/>
<path d="M217.0 120.1l4 4m0-4-4 4"/>
<path d="M223.0 112.5l4 4m0-4-4 4"/>
<path d="M186.7 132.1l4 4m0-4-4 4"/>
<path d="M174.1 142.4l4 4m0-4-4 4"/>
<path d="M194.3 133.5l4 4m0-4-4 4"/>
<path d="M187.0 153.6l4 4m0-4-4 4"/>
<path d="M212.9 125.4l4 4m0-4-4 4"/>
<path d="M201.3 124.7l4 4m0-4-4 4"/>
<path d="M185.7 145.4l4 4m0-4-4 4"/>
<path d="M215.0 107.4l4 4m0-4-4 4"/>
<path d="M172.9 169.9l4 4m0-4-4 4"/>
<path d="M156.4 166.8l4 4m0-4-4 4"/>
<path d="M147.4 176.3l4 4m0-4-4 4"/>
<path d="M178.1 161.8l4 4m0-4-4 4"/>
<path d="M207.0 114.1l4 4m0-4-4 4"/>
<path d="M168.8 149.5l4 4m0-4-4 4"/>
<path d="M169.1 161.6l4 4m0-4-4 4"/>
<path d="M224.7 110.1l4 4m0-4-4 4"/>
<path d="M225.1 116.9l4 4m0-4-4 4"/>
<path d="M153.1 170.9l4 4m0-4-4 4"/>
<path d="M179.3 143.1l4 4m0-4-4 4"/>
<path d="M223.3 116.2l4 4m0-4-4 4"/>
<path d="M152.4 167.3l4 4m0-4-4 4"/>
<path d="M162.9 173.8l4 4m0-4-4 4"/>
<path d="M177.9 155.6l4 4m0-4-4 4"/>
<path d="M185.2 143.9l4 4m0-4-4 4"/>
<path d="M161.0 168.8l4 4m0-4-4 4"/>
<path d="M203.3 128.6l4 4m0-4-4 4"/>
<path d="M197.4 130.0l4 4m0-4-4 4"/>
<path d="M200.0 112.2l4 4m0-4-4 4"/>
<path d="M195.2 130.9l4 4m0-4-4 4"/>
<path d="M157.0 176.7l4 4m0-4-4 4"/>
<path d="M218.2 109.9l4 4m0-4-4 4"/>
<path d="M204.2 120.8l4 4m0-4-4 4"/>
<path d="M155.1 171.2l4 4m0-4-4 4"/>
<path d="M168.3 149.3l4 4m0-4-4 4"/>
<path d="M183.7 137.9l4 4m0-4-4 4"/>
<path d="M189.3 154.5l4 4m0-4-4 4"/>
<path d="M157.8 180.2l4 4m0-4-4 4"/>
<path d="M162.5 178.8l4 4m0-4-4 4"/>
<path d="M171.8 154.4l4 4m0-4-4 4"/>
<path d="M175.9 141.9l4 4m0-4-4 4"/>
<path d="M202.6 110.5l4 4m0-4-4 4"/>
<path d="M212.6 131.0l4 4m0-4-4 4"/>
<path d="M152.7 180.3l4 4m0-4-4 4"/>
<path d="M182.8 137.5l4 4m0-4-4 4"/>
<path d="M160.1 174.4l4 4m0-4-4 4"/>
<path d="M166.8 173.3l4 4m0-4-4 4"/>
<path d="M198.5 142.2l4 4m0-4-4 4"/>
<path d="M165.1 174.1l4 4m0-4-4 4"/>
<path d="M177.8 145.1l4 4m0-4-4 4"/>
<path d="M175.5 167.3l4 4m0-4-4 4"/>
<path d="M195.9 120.7l4 4m0-4-4 4"/>
<path d="M193.9 122.5l4 4m0-4-4 4"/>
<path d="M176.9 164.1l4 4m0-4-4 4"/>
<path d="M176.4 149.2l4 4m0-4-4 4"/>
<path d="M215.6 107.4l4 4m0-4-4 4"/>
<path d="M209.3 129.8l4 4m0-4-4 4"/>
<path d="M171.6 149.0l4 4m0-4-4 4"/>
<path d="M200.9 123.3l4 4m0-4-4 4"/>
<path d="M194.6 130.7l4 4m0-4-4 4"/>
<path d="M153.5 178.1l4 4m0-4-4 4"/>
<path d="M216.2 115.4l4 4m0-4-4 4"/>
<path d="M211.7 107.5l4 4m0-4-4 4"/>
<path d="M179.2 162.8l4 4m0-4-4 4"/>
<path d="M227.5 111.8l4 4m0-4-4 4"/>
<path d="M158.3 172.7l4 4m0-4-4 4"/>
<path d="M177.9 140.9l4 4m0-4-4 4"/>
<path d="M219.9 118.8l4 4m0-4-4 4"/>
<path d="M178.4 137.8l4 4m0-4-4 4"/>
<path d="M194.3 144.5l4 4m0-4-4 4"/>
<path d="M221.3 117.8l4 4m0-4-4 4"/>
<path d="M215.0 125.3l4 4m0-4-4 4"/>
<path d="M212.8 124.6l4 4m0-4-4 4"/>
<path d="M168.5 153.6l4 4m0-4-4 4"/>
<path d="M177.0 147.2l4 4m0-4-4 4"/>
<path d="M174.0 165.7l4 4m0-4-4 4"/>
<path d="M212.2 110.0l4 4m0-4-4 4"/>
<path d="M188.3 140.8l4 4m0-4-4 4"/>
<path d="M209.3 114.1l4 4m0-4-4 4"/>
<path d="M173.8 168.9l4 4m0-4-4 4"/>
<path d="M209.6 113.6l4 4m0-4-4 4"/>
<path d="M182.6 158.7l4 4m0-4-4 4"/>
<path d="M169.5 153.9l4 4m0-4-4 4"/>
<path d="M189.7 131.0l4 4m0-4-4 4"/>
<path d="M191.4 131.2l4 4m0-4-4 4"/>
<path d="M187.0 141.5l4 4m0-4-4 4"/>
<path d="M168.8 156.2l4 4m0-4-4 4"/>
<path d="M185.5 160.5l4 4m0-4-4 4"/>
<path d="M179.1 153.0l4 4m0-4-4 4"/>
<path d="M178.8 160.3l4 4m0-4-4 4"/>
<path d="M177.0 166.8l4 4m0-4-4 4"/>
<path d="M154.0 177.1l4 4m0-4-4 4"/>
<path d="M230.6 112.8l4 4m0-4-4 4"/>
<path d="M211.4 124.5l4 4m0-4-4 4"/>
<path d="M210.6 125.3l4 4m0-4-4 4"/>
<path d="M199.4 140.2l4 4m0-4-4 4"/>
<path d="M195.3 121.2l4 4m0-4-4 4"/>
<path d="M194.5 140.9l4 4m0-4-4 4"/>
<path d="M214.3 100.5l4 4m0-4-4 4"/>
<path d="M218.8 101.5l4 4m0-4-4 4"/>
<path d="M240.5 85.1l4 4m0-4-4 4"/>
<path d="M212.5 105.7l4 4m0-4-4 4"/>
<path d="M219.9 83.5l4 4m0-4-4 4"/>
<path d="M231.3 106.4l4 4m0-4-4 4"/>
<path d="M232.8 90.4l4 4m0-4-4 4"/>
<path d="M230.9 109.7l4 4m0-4-4 4"/>
<path d="M238.1 89.7l4 4m0-4-4 4"/>
<path d="M228.7 100.3l4 4m0-4-4 4"/>
<path d="M234.3 93.3l4 4m0-4-4 4"/>
<path d="M212.8 86.2l4 4m0-4-4 4"/>
<path d="M213.6 86.1l4 4m0-4-4 4"/>
<path d="M228.8 102.9l4 4m0-4-4 4"/>
<path d="M228.6 82.8l4 4m0-4-4 4"/>
<path d="M215.6 93.9l4 4m0-4-4 4"/>
<path d="M213.0 87.5l4 4m0-4-4 4"/>
<path d="M212.4 98.4l4 4m0-4-4 4"/>
<path d="M233.2 83.7l4 4m0-4-4 4"/>
<path d="M213.6 91.5l4 4m0-4-4 4"/>
<path d="M234.3 91.5l4 4m0-4-4 4"/>
<path d="M232.0 88.9l4 4m0-4-4 4"/>
<path d="M216.1 83.4l4 4m0-4-4 4"/>
<path d="M226.7 105.5l4 4m0-4-4 4"/>
<path d="M204.2 101.1l4 4m0-4-4 4"/>
<path d="M213.0 98.2l4 4m0-4-4 4"/>
<path d="M228.0 99.7l4 4m0-4-4 4"/>
<path d="M203.9 97.6l4 4m0-4-4 4"/>
<path d="M233.6 98.4l4 4m0-4-4 4"/>
<path d="M230.3 108.0l4 4m0-4-4 4"/>
<path d="M204.2 97.2l4 4m0-4-4 4"/>
<path d="M210.4 102.6l4 4m0-4-4 4"/>
<path d="M216.1 98.0l4 4m0-4-4 4"/>
<path d="M218.0 85.9l4 4m0-4-4 4"/>
<path d="M240.5 80.7l4 4m0-4-4 4"/>
<path d="M227.0 89.6l4 4m0-4-4 4"/>
<path d="M214.5 93.5l4 4m0-4-4 4"/>
<path d="M223.0 93.5l4 4m0-4-4 4"/>
<path d="M228.1 108.9l4 4m0-4-4 4"/>
<path d="M210.8 104.0l4 4m0-4-4 4"/>
<path d="M239.0 79.3l4 4m0-4-4 4"/>
<path d="M213.7 88.4l4 4m0-4-4 4"/>
<path d="M215.5 104.8l4 4m0-4-4 4"/>
<path d="M215.3 95.0l4 4m0-4-4 4"/>
<path d="M235.1 98.1l4 4m0-4-4 4"/>
<path d="M206.2 98.8l4 4m0-4-4 4"/>
<path d="M214.1 105.2l4 4m0-4-4 4"/>
<path d="M202.2 105.8l4 4m0-4-4 4"/>
<path d="M227.4 82.4l4 4m0-4-4 4"/>
<path d="M228.4 103.4l4 4m0-4-4 4"/>
<path d="M231.5 104.2l4 4m0-4-4 4"/>
<path d="M219.7 100.7l4 4m0-4-4 4"/>
<path d="M223.7 89.8l4 4m0-4-4 4"/>
<path d="M220.8 81.8l4 4m0-4-4 4"/>
<path d="M227.0 109.4l4 4m0-4-4 4"/>
<path d="M224.9 107.4l4 4m0-4-4 4"/>
<path d="M208.0 101.1l4 4m0-4-4 4"/>
<path d="M213.0 97.2l4 4m0-4-4 4"/>
<path d="M211.2 100.5l4 4m0-4-4 4"/>
<path d="M214.0 85.1l4 4m0-4-4 4"/>
<path d="M231.1 79.6l4 4m0-4-4 4"/>
<path d="M231.8 95.8l4 4m0-4-4 4"/>
<path d="M222.7 82.0l4 4m0-4-4 4"/>
<path d="M213.0 90.4l4 4m0-4-4 4"/>
<path d="M232.4 95.3l4 4m0-4-4 4"/>
<path d="M212.5 96.5l4 4m0-4-4 4"/>
<path d="M235.4 80.8l4 4m0-4-4 4"/>
<path d="M229.9 83.9l4 4m0-4-4 4"/>
<path d="M224.4 83.3l4 4m0-4-4 4"/>
<path d="M222.1 95.1l4 4m0-4-4 4"/>
<path d="M233.4 90.9l4 4m0-4-4 4"/>
<path d="M224.1 102.5l4 4m0-4-4 4"/>
<path d="M209.9 104.3l4 4m0-4-4 4"/>
<path d="M241.2 83.5l4 4m0-4-4 4"/>
<path d="M232.3 107.4l4 4m0-4-4 4"/>
<path d="M209.3 102.6l4 4m0-4-4 4"/>
<path d="M224.9 93.7l4 4m0-4-4 4"/>
<path d="M226.8 85.0l4 4m0-4-4 4"/>
<path d="M218.1 101.6l4 4m0-4-4 4"/>
<path d="M228.0 97.2l4 4m0-4-4 4"/>
<path d="M225.3 97.2l4 4m0-4-4 4"/>
<path d="M232.4 102.2l4 4m0-4-4 4"/>
<path d="M225.8 87.7l4 4m0-4-4 4"/>
<path d="M208.8 98.4l4 4m0-4-4 4"/>
<path d="M219.0 102.9l4 4m0-4-4 4"/>
<path d="M227.9 92.2l4 4m0-4-4 4"/>
<path d="M220.6 104.9l4 4m0-4-4 4"/>
<path d="M221.6 103.8l4 4m0-4-4 4"/>
<path d="M219.1 104.1l4 4m0-4-4 4"/>
<path d="M228.4 100.7l4 4m0-4-4 4"/>
<path d="M203.3 103.7l4 4m0-4-4 4"/>
<path d="M212.7 97.3l4 4m0-4-4 4"/>
<path d="M240.2 80.9l4 4m0-4-4 4"/>
<path d="M216.5 93.7l4 4m0-4-4 4"/>
<path d="M227.6 79.0l4 4m0-4-4 4"/>
<path d="M229.3 78.1l4 4m0-4-4 4"/>
<path d="M227.7 102.8l4 4m0-4-4 4"/>
<path d="M205.4 105.7l4 4m0-4-4 4"/>
<path d="M206.7 104.9l4 4m0-4-4 4"/>
<path d="M220.0 89.0l4 4m0-4-4 4"/>
<path d="M232.6 104.5l4 4m0-4-4 4"/>
<path d="M207.8 103.2l4 4m0-4-4 4"/>
<path d="M229.1 104.3l4 4m0-4-4 4"/>
<path d="M232.9 101.3l4 4m0-4-4 4"/>
<path d="M219.1 100.7l4 4m0-4-4 4"/>
<path d="M221.4 84.0l4 4m0-4-4 4"/>
<path d="M219.1 96.0l4 4m0-4-4 4"/>
<path d="M206.0 104.5l4 4m0-4-4 4"/>
<path d="M232.0 77.7l4 4m0-4-4 4"/>
<path d="M213.3 92.5l4 4m0-4-4 4"/>
<path d="M234.9 79.1l4 4m0-4-4 4"/>
<path d="M228.7 81.7l4 4m0-4-4 4"/>
<path d="M222.9 107.9l4 4m0-4-4 4"/>
<path d="M221.8 91.0l4 4m0-4-4 4"/>
<path d="M218.5 89.2l4 4m0-4-4 4"/>
<path d="M218.5 103.0l4 4m0-4-4 4"/>
<path d="M240.4 83.6l4 4m0-4-4 4"/>
<path d="M211.7 91.6l4 4m0-4-4 4"/>
<path d="M229.5 92.5l4 4m0-4-4 4"/>
<path d="M210.4 103.3l4 4m0-4-4 4"/>
<path d="M226.7 90.0l4 4m0-4-4 4"/>
<path d="M206.9 100.0l4 4m0-4-4 4"/>
<path d="M238.0 86.6l4 4m0-4-4 4"/>
<path d="M226.6 82.7l4 4m0-4-4 4"/>
<path d="M224.6 84.4l4 4m0-4-4 4"/>
<path d="M233.4 105.9l4 4m0-4-4 4"/>
<path d="M210.7 104.8l4 4m0-4-4 4"/>
<path d="M233.1 89.0l4 4m0-4-4 4"/>
<path d="M234.2 82.4l4 4m0-4-4 4"/>
<path d="M213.2 87.0l4 4m0-4-4 4"/>
<path d="M244.4 99.3l4 4m0-4-4 4"/>
<path d="M241.1 96.1l4 4m0-4-4 4"/>
<path d="M248.9 92.4l4 4m0-4-4 4"/>
<path d="M240.9 93.0l4 4m0-4-4 4"/>
<path d="M240.0 97.3l4 4m0-4-4 4"/>
<path d="M241.8 103.6l4 4m0-4-4 4"/>
<path d="M239.3 95.5l4 4m0-4-4 4"/>
<path d="M239.6 94.7l4 4m0-4-4 4"/>
<path d="M242.0 91.4l4 4m0-4-4 4"/>
<path d="M237.8 96.3l4 4m0-4-4 4"/>
<path d="M167.4 190.1l4 4m0-4-4 4"/>
<path d="M163.6 186.3l4 4m0-4-4 4"/>
<path d="M167.2 184.8l4 4m0-4-4 4"/>
<path d="M162.3 188.3l4 4m0-4-4 4"/>
<path d="M171.3 175.4l4 4m0-4-4 4"/>
<path d="M145.9 188.6l4 4m0-4-4 4"/>
<path d="M165.2 183.9l4 4m0-4-4 4"/>
<path d="M137.3 188.3l4 4m0-4-4 4"/>
<path d="M159.0 182.5l4 4m0-4-4 4"/>
<path d="M159.8 187.9l4 4m0-4-4 4"/>
<path d="M158.2 179.4l4 4m0-4-4 4"/>
<path d="M159.5 190.0l4 4m0-4-4 4"/>
<path d="M169.5 184.2l4 4m0-4-4 4"/>
<path d="M144.8 188.9l4 4m0-4-4 4"/>
<path d="M171.2 188.1l4 4m0-4-4 4"/>
<path d="M172.9 179.7l4 4m0-4-4 4"/>
<path d="M154.0 192.9l4 4m0-4-4 4"/>
<path d="M152.7 194.5l4 4m0-4-4 4"/>
<path d="M143.2 189.0l4 4m0-4-4 4"/>
<path d="M160.5 178.9l4 4m0-4-4 4"/>
<path d="M147.7 191.7l4 4m0-4-4 4"/>
<path d="M169.2 182.8l4 4m0-4-4 4"/>
<path d="M162.7 172.2l4 4m0-4-4 4"/>
<path d="M152.5 176.8l4 4m0-4-4 4"/>
<path d="M160.1 185.8l4 4m0-4-4 4"/>
<path d="M151.1 182.9l4 4m0-4-4 4"/>
<path d="M149.7 186.8l4 4m0-4-4 4"/>
<path d="M159.9 194.3l4 4m0-4-4 4"/>
<path d="M160.3 184.9l4 4m0-4-4 4"/>
<path d="M161.6 194.1l4 4m0-4-4 4"/>
<path d="M157.7 196.6l4 4m0-4-4 4"/>
<path d="M146.5 175.9l4 4m0-4-4 4"/>
<path d="M146.6 192.0l4 4m0-4-4 4"/>
<path d="M136.0 186.1l4 4m0-4-4 4"/>
<path d="M141.1 178.8l4 4m0-4-4 4"/>
<path d="M162.1 195.3l4 4m0-4-4 4"/>
<path d="M164.0 177.6l4 4m0-4-4 4"/>
<path d="M149.0 178.5l4 4m0-4-4 4"/>
<path d="M152.1 181.5l4 4m0-4-4 4"/>
<path d="M141.5 185.8l4 4m0-4-4 4"/>
<path d="M165.7 185.8l4 4m0-4-4 4"/>
<path d="M163.3 188.2l4 4m0-4-4 4"/>
<path d="M163.3 186.4l4 4m0-4-4 4"/>
<path d="M161.9 180.5l4 4m0-4-4 4"/>
<path d="M164.4 176.3l4 4m0-4-4 4"/>
<path d="M148.0 191.3l4 4m0-4-4 4"/>
<path d="M150.2 197.4l4 4m0-4-4 4"/>
<path d="M151.6 188.8l4 4m0-4-4 4"/>
<path d="M155.6 179.2l4 4m0-4-4 4"/>
<path d="M158.4 186.8l4 4m0-4-4 4"/>
<path d="M160.6 178.9l4 4m0-4-4 4"/>
<path d="M150.9 193.1l4 4m0-4-4 4"/>
<path d="M149.6 191.6l4 4m0-4-4 4"/>
<path d="M165.3 178.9l4 4m0-4-4 4"/>
<path d="M145.3 186.2l4 4m0-4-4 4"/>
<path d="M152.7 182.1l4 4m0-4-4 4"/>
<path d="M161.4 174.9l4 4m0-4-4 4"/>
<path d="M143.6 181.1l4 4m0-4-4 4"/>
<path d="M149.5 198.5l4 4m0-4-4 4"/>
<path d="M165.9 194.7l4 4m0-4-4 4"/>
<path d="M164.8 185.7l4 4m0-4-4 4"/>
<path d="M172.3 187.9l4 4m0-4-4 4"/>
<path d="M147.6 186.0l4 4m0-4-4 4"/>
<path d="M152.0 185.4l4 4m0-4-4 4"/>
<path d="M155.0 194.4l4 4m0-4-4 4"/>
<path d="M156.8 190.9l4 4m0-4-4 4"/>
<path d="M164.5 181.9l4 4m0-4-4 4"/>
<path d="M142.3 186.9l4 4m0-4-4 4"/>
<path d="M159.7 179.3l4 4m0-4-4 4"/>
<path d="M174.3 177.1l4 4m0-4-4 4"/>
<path d="M154.7 194.4l4 4m0-4-4 4"/>
<path d="M144.1 198.5l4 4m0-4-4 4"/>
<path d="M167.2 177.1l4 4m0-4-4 4"/>
<path d="M145.1 179.9l4 4m0-4-4 4"/>
<path d="M163.6 195.5l4 4m0-4-4 4"/>
<path d="M168.6 183.7l4 4m0-4-4 4"/>
<path d="M155.6 183.4l4 4m0-4-4 4"/>
<path d="M153.7 192.1l4 4m0-4-4 4"/>
<path d="M157.7 175.6l4 4m0-4-4 4"/>
<path d="M138.0 185.3l4 4m0-4-4 4"/>
<path d="M141.3 182.9l4 4m0-4-4 4"/>
<path d="M164.0 184.7l4 4m0-4-4 4"/>
<path d="M171.8 177.8l4 4m0-4-4 4"/>
<path d="M152.0 181.7l4 4m0-4-4 4"/>
<path d="M160.2 188.6l4 4m0-4-4 4"/>
<path d="M164.6 186.6l4 4m0-4-4 4"/>
<path d="M143.9 184.1l4 4m0-4-4 4"/>
<path d="M144.0 180.0l4 4m0-4-4 4"/>
<path d="M159.8 180.7l4 4m0-4-4 4"/>
<path d="M150.9 173.8l4 4m0-4-4 4"/>
<path d="M140.9 189.0l4 4m0-4-4 4"/>
<path d="M158.6 186.6l4 4m0-4-4 4"/>
<path d="M126.3 207.1l4 4m0-4-4 4"/>
<path d="M135.8 202.0l4 4m0-4-4 4"/>
<path d="M146.0 184.2l4 4m0-4-4 4"/>
<path d="M139.0 208.5l4 4m0-4-4 4"/>
<path d="M134.7 207.6l4 4m0-4-4 4"/>
<path d="M151.5 187.8l4 4m0-4-4 4"/>
<path d="M135.8 188.7l4 4m0-4-4 4"/>
<path d="M144.4 204.7l4 4m0-4-4 4"/>
<path d="M145.8 191.2l4 4m0-4-4 4"/>
<path d="M157.0 201.8l4 4m0-4-4 4"/>
<path d="M132.4 199.7l4 4m0-4-4 4"/>
<path d="M132.5 188.8l4 4m0-4-4 4"/>
<path d="M153.4 201.4l4 4m0-4-4 4"/>
<path d="M138.0 205.0l4 4m0-4-4 4"/>
<path d="M148.0 205.2l4 4m0-4-4 4"/>
<path d="M137.1 200.0l4 4m0-4-4 4"/>
</g>
<line x1="426.93" y1="7.05" x2="426.93" y2="276.80" stroke="#b0b0b0" stroke-width="0.96"/>
<line x1="414.50" y1="264.45" x2="684.50" y2="264.45" stroke="#b0b0b0" stroke-width="0.96"/>
<line x1="488.22" y1="7.05" x2="488.22" y2="276.80" stroke="#b0b0b0" stroke-width="0.96"/>
<line x1="414.50" y1="203.02" x2="684.50" y2="203.02" stroke="#b0b0b0" stroke-width="0.96"/>
<line x1="549.50" y1="7.05" x2="549.50" y2="276.80" stroke="#b0b0b0" stroke-width="0.96"/>
<line x1="414.50" y1="141.60" x2="684.50" y2="141.60" stroke="#b0b0b0" stroke-width="0.96"/>
<line x1="610.78" y1="7.05" x2="610.78" y2="276.80" stroke="#b0b0b0" stroke-width="0.96"/>
<line x1="414.50" y1="80.17" x2="684.50" y2="80.17" stroke="#b0b0b0" stroke-width="0.96"/>
<line x1="672.07" y1="7.05" x2="672.07" y2="276.80" stroke="#b0b0b0" stroke-width="0.96"/>
<line x1="414.50" y1="18.75" x2="684.50" y2="18.75" stroke="#b0b0b0" stroke-width="0.96"/>
<line x1="426.93" y1="264.45" x2="672.07" y2="18.75" stroke="#000" stroke-width="1.8"/>
<g stroke="#55a868" stroke-width="1.3" stroke-opacity="0.55" fill="none">
<path d="M564.0 111.4l4 4m0-4-4 4"/>
<path d="M516.4 187.3l4 4m0-4-4 4"/>
<path d="M540.9 148.0l4 4m0-4-4 4"/>
<path d="M547.0 132.4l4 4m0-4-4 4"/>
<path d="M541.4 148.2l4 4m0-4-4 4"/>
<path d="M555.4 130.4l4 4m0-4-4 4"/>
<path d="M538.7 148.0l4 4m0-4-4 4"/>
<path d="M538.6 147.0l4 4m0-4-4 4"/>
<path d="M545.8 127.6l4 4m0-4-4 4"/>
<path d="M547.0 140.3l4 4m0-4-4 4"/>
<path d="M550.3 128.2l4 4m0-4-4 4"/>
<path d="M532.7 155.7l4 4m0-4-4 4"/>
<path d="M541.8 150.4l4 4m0-4-4 4"/>
<path d="M540.5 150.6l4 4m0-4-4 4"/>
<path d="M547.0 137.6l4 4m0-4-4 4"/>
<path d="M550.8 122.0l4 4m0-4-4 4"/>
<path d="M540.1 151.1l4 4m0-4-4 4"/>
<path d="M532.7 153.9l4 4m0-4-4 4"/>
<path d="M530.3 163.0l4 4m0-4-4 4"/>
<path d="M555.6 124.2l4 4m0-4-4 4"/>
<path d="M542.2 147.9l4 4m0-4-4 4"/>
<path d="M530.8 160.7l4 4m0-4-4 4"/>
<path d="M545.7 137.0l4 4m0-4-4 4"/>
<path d="M542.2 143.8l4 4m0-4-4 4"/>
<path d="M550.2 124.0l4 4m0-4-4 4"/>
<path d="M545.7 137.6l4 4m0-4-4 4"/>
<path d="M546.5 134.4l4 4m0-4-4 4"/>
<path d="M533.7 155.5l4 4m0-4-4 4"/>
<path d="M535.2 158.7l4 4m0-4-4 4"/>
<path d="M554.5 109.5l4 4m0-4-4 4"/>
<path d="M539.9 144.3l4 4m0-4-4 4"/>
<path d="M525.5 167.5l4 4m0-4-4 4"/>
<path d="M551.5 122.7l4 4m0-4-4 4"/>
<path d="M545.3 128.8l4 4m0-4-4 4"/>
<path d="M551.3 134.1l4 4m0-4-4 4"/>
<path d="M545.3 150.1l4 4m0-4-4 4"/>
<path d="M556.4 133.4l4 4m0-4-4 4"/>
<path d="M545.7 131.5l4 4m0-4-4 4"/>
<path d="M521.2 177.7l4 4m0-4-4 4"/>
<path d="M548.3 130.7l4 4m0-4-4 4"/>
<path d="M529.4 165.8l4 4m0-4-4 4"/>
<path d="M572.0 95.8l4 4m0-4-4 4"/>
<path d="M555.8 117.5l4 4m0-4-4 4"/>
<path d="M533.2 153.7l4 4m0-4-4 4"/>
<path d="M541.5 147.8l4 4m0-4-4 4"/>
<path d="M550.1 143.2l4 4m0-4-4 4"/>
<path d="M539.4 152.6l4 4m0-4-4 4"/>
<path d="M546.6 148.3l4 4m0-4-4 4"/>
<path d="M531.7 164.5l4 4m0-4-4 4"/>
<path d="M567.3 102.2l4 4m0-4-4 4"/>
<path d="M556.8 129.7l4 4m0-4-4 4"/>
<path d="M541.3 143.0l4 4m0-4-4 4"/>
<path d="M565.2 113.1l4 4m0-4-4 4"/>
<path d="M546.2 148.3l4 4m0-4-4 4"/>
<path d="M588.2 68.9l4 4m0-4-4 4"/>
<path d="M539.4 157.1l4 4m0-4-4 4"/>
<path d="M565.7 100.0l4 4m0-4-4 4"/>
<path d="M533.0 165.3l4 4m0-4-4 4"/>
<path d="M538.2 154.5l4 4m0-4-4 4"/>
<path d="M539.3 147.6l4 4m0-4-4 4"/>
<path d="M570.0 105.6l4 4m0-4-4 4"/>
<path d="M546.3 148.7l4 4m0-4-4 4"/>
<path d="M552.3 128.1l4 4m0-4-4 4"/>
<path d="M514.8 193.1l4 4m0-4-4 4"/>
<path d="M526.7 176.6l4 4m0-4-4 4"/>
<path d="M546.7 138.2l4 4m0-4-4 4"/>
<path d="M545.4 151.0l4 4m0-4-4 4"/>
<path d="M560.3 116.1l4 4m0-4-4 4"/>
<path d="M542.1 140.5l4 4m0-4-4 4"/>
<path d="M547.6 119.8l4 4m0-4-4 4"/>
<path d="M543.5 141.9l4 4m0-4-4 4"/>
<path d="M532.0 165.1l4 4m0-4-4 4"/>
<path d="M559.7 111.1l4 4m0-4-4 4"/>
<path d="M526.4 170.3l4 4m0-4-4 4"/>
<path d="M520.4 175.7l4 4m0-4-4 4"/>
<path d="M548.0 133.1l4 4m0-4-4 4"/>
<path d="M540.2 155.5l4 4m0-4-4 4"/>
<path d="M540.7 153.3l4 4m0-4-4 4"/>
<path d="M535.5 155.6l4 4m0-4-4 4"/>
<path d="M553.0 120.5l4 4m0-4-4 4"/>
<path d="M529.5 171.5l4 4m0-4-4 4"/>
<path d="M519.3 177.4l4 4m0-4-4 4"/>
<path d="M541.9 149.1l4 4m0-4-4 4"/>
<path d="M524.0 176.8l4 4m0-4-4 4"/>
<path d="M543.2 140.6l4 4m0-4-4 4"/>
<path d="M549.6 130.7l4 4m0-4-4 4"/>
<path d="M561.1 109.1l4 4m0-4-4 4"/>
<path d="M535.4 153.6l4 4m0-4-4 4"/>
<path d="M521.7 170.5l4 4m0-4-4 4"/>
<path d="M536.4 155.0l4 4m0-4-4 4"/>
<path d="M558.1 112.0l4 4m0-4-4 4"/>
<path d="M551.8 131.7l4 4m0-4-4 4"/>
<path d="M570.4 93.1l4 4m0-4-4 4"/>
<path d="M541.7 149.2l4 4m0-4-4 4"/>
<path d="M540.1 138.6l4 4m0-4-4 4"/>
<path d="M561.0 100.1l4 4m0-4-4 4"/>
<path d="M540.4 151.0l4 4m0-4-4 4"/>
<path d="M541.0 151.5l4 4m0-4-4 4"/>
<path d="M544.8 132.8l4 4m0-4-4 4"/>
<path d="M549.9 129.5l4 4m0-4-4 4"/>
<path d="M555.0 128.9l4 4m0-4-4 4"/>
<path d="M542.4 140.3l4 4m0-4-4 4"/>
<path d="M545.4 129.9l4 4m0-4-4 4"/>
<path d="M548.0 134.1l4 4m0-4-4 4"/>
<path d="M542.3 154.3l4 4m0-4-4 4"/>
<path d="M554.8 122.7l4 4m0-4-4 4"/>
<path d="M560.1 114.1l4 4m0-4-4 4"/>
<path d="M565.9 107.0l4 4m0-4-4 4"/>
<path d="M535.5 155.3l4 4m0-4-4 4"/>
<path d="M534.6 159.1l4 4m0-4-4 4"/>
<path d="M528.7 163.4l4 4m0-4-4 4"/>
<path d="M537.4 155.7l4 4m0-4-4 4"/>
<path d="M523.6 176.1l4 4m0-4-4 4"/>
<path d="M544.7 143.5l4 4m0-4-4 4"/>
<path d="M570.7 90.2l4 4m0-4-4 4"/>
<path d="M545.3 144.5l4 4m0-4-4 4"/>
<path d="M546.1 135.5l4 4m0-4-4 4"/>
<path d="M537.9 156.5l4 4m0-4-4 4"/>
<path d="M549.6 140.6l4 4m0-4-4 4"/>
<path d="M542.4 144.0l4 4m0-4-4 4"/>
<path d="M551.1 131.2l4 4m0-4-4 4"/>
<path d="M545.3 135.1l4 4m0-4-4 4"/>
<path d="M530.3 163.5l4 4m0-4-4 4"/>
<path d="M560.4 114.8l4 4m0-4-4 4"/>
<path d="M560.5 102.9l4 4m0-4-4 4"/>
<path d="M537.6 150.6l4 4m0-4-4 4"/>
<path d="M538.9 143.2l4 4m0-4-4 4"/>
<path d="M540.3 145.2l4 4m0-4-4 4"/>
<path d="M554.4 127.4l4 4m0-4-4 4"/>
<path d="M567.7 103.4l4 4m0-4-4 4"/>
<path d="M542.1 150.1l4 4m0-4-4 4"/>
<path d="M532.9 155.9l4 4m0-4-4 4"/>
<path d="M580.2 78.1l4 4m0-4-4 4"/>
<path d="M558.9 118.4l4 4m0-4-4 4"/>
<path d="M560.3 114.2l4 4m0-4-4 4"/>
<path d="M538.3 154.4l4 4m0-4-4 4"/>
<path d="M558.9 119.5l4 4m0-4-4 4"/>
<path d="M555.9 111.9l4 4m0-4-4 4"/>
<path d="M546.7 140.7l4 4m0-4-4 4"/>
<path d="M533.2 163.9l4 4m0-4-4 4"/>
<path d="M575.4 79.9l4 4m0-4-4 4"/>
<path d="M550.0 127.7l4 4m0-4-4 4"/>
<path d="M540.3 157.1l4 4m0-4-4 4"/>
<path d="M542.2 149.0l4 4m0-4-4 4"/>
<path d="M545.8 132.9l4 4m0-4-4 4"/>
<path d="M535.2 157.4l4 4m0-4-4 4"/>
<path d="M535.3 157.2l4 4m0-4-4 4"/>
<path d="M538.2 152.1l4 4m0-4-4 4"/>
<path d="M555.2 126.4l4 4m0-4-4 4"/>
<path d="M557.4 121.7l4 4m0-4-4 4"/>
<path d="M554.3 131.2l4 4m0-4-4 4"/>
<path d="M537.5 149.1l4 4m0-4-4 4"/>
<path d="M559.0 118.7l4 4m0-4-4 4"/>
<path d="M547.3 131.3l4 4m0-4-4 4"/>
<path d="M533.8 165.7l4 4m0-4-4 4"/>
<path d="M552.4 130.9l4 4m0-4-4 4"/>
<path d="M552.8 135.5l4 4m0-4-4 4"/>
<path d="M539.0 156.7l4 4m0-4-4 4"/>
<path d="M541.4 147.6l4 4m0-4-4 4"/>
<path d="M529.2 170.0l4 4m0-4-4 4"/>
<path d="M539.5 155.9l4 4m0-4-4 4"/>
<path d="M535.6 149.4l4 4m0-4-4 4"/>
<path d="M544.2 138.2l4 4m0-4-4 4"/>
<path d="M552.7 127.2l4 4m0-4-4 4"/>
<path d="M553.6 127.7l4 4m0-4-4 4"/>
<path d="M547.7 140.4l4 4m0-4-4 4"/>
<path d="M536.6 150.5l4 4m0-4-4 4"/>
<path d="M537.9 160.6l4 4m0-4-4 4"/>
<path d="M546.7 138.7l4 4m0-4-4 4"/>
<path d="M557.7 119.0l4 4m0-4-4 4"/>
<path d="M555.2 123.6l4 4m0-4-4 4"/>
<path d="M517.7 180.6l4 4m0-4-4 4"/>
<path d="M546.4 132.9l4 4m0-4-4 4"/>
<path d="M548.8 144.8l4 4m0-4-4 4"/>
<path d="M551.6 128.7l4 4m0-4-4 4"/>
<path d="M555.3 131.1l4 4m0-4-4 4"/>
<path d="M557.3 108.5l4 4m0-4-4 4"/>
<path d="M559.9 106.5l4 4m0-4-4 4"/>
<path d="M552.1 121.2l4 4m0-4-4 4"/>
<path d="M552.3 132.9l4 4m0-4-4 4"/>
<path d="M530.9 164.5l4 4m0-4-4 4"/>
<path d="M558.0 108.5l4 4m0-4-4 4"/>
<path d="M550.5 135.5l4 4m0-4-4 4"/>
<path d="M553.1 117.6l4 4m0-4-4 4"/>
<path d="M537.3 146.5l4 4m0-4-4 4"/>
<path d="M551.6 122.0l4 4m0-4-4 4"/>
<path d="M559.9 103.9l4 4m0-4-4 4"/>
<path d="M548.9 126.9l4 4m0-4-4 4"/>
<path d="M541.4 144.7l4 4m0-4-4 4"/>
<path d="M550.6 119.1l4 4m0-4-4 4"/>
<path d="M546.6 138.2l4 4m0-4-4 4"/>
<path d="M524.0 170.4l4 4m0-4-4 4"/>
<path d="M556.3 119.7l4 4m0-4-4 4"/>
<path d="M533.2 162.7l4 4m0-4-4 4"/>
<path d="M540.2 149.9l4 4m0-4-4 4"/>
<path d="M560.5 105.3l4 4m0-4-4 4"/>
<path d="M559.7 109.1l4 4m0-4-4 4"/>
<path d="M542.5 142.6l4 4m0-4-4 4"/>
<path d="M537.0 153.9l4 4m0-4-4 4"/>
<path d="M546.4 143.2l4 4m0-4-4 4"/>
<path d="M557.2 122.9l4 4m0-4-4 4"/>
<path d="M539.6 157.7l4 4m0-4-4 4"/>
<path d="M550.5 130.9l4 4m0-4-4 4"/>
<path d="M519.7 186.3l4 4m0-4-4 4"/>
<path d="M548.1 124.1l4 4m0-4-4 4"/>
<path d="M531.3 172.3l4 4m0-4-4 4"/>
<path d="M533.0 166.7l4 4m0-4-4 4"/>
<path d="M548.1 129.6l4 4m0-4-4 4"/>
<path d="M550.2 131.5l4 4m0-4-4 4"/>
<path d="M540.9 150.0l4 4m0-4-4 4"/>
<path d="M532.6 159.8l4 4m0-4-4 4"/>
<path d="M558.6 109.2l4 4m0-4-4 4"/>
<path d="M517.0 181.2l4 4m0-4-4 4"/>
<path d="M544.0 143.0l4 4m0-4-4 4"/>
<path d="M540.0 148.0l4 4m0-4-4 4"/>
<path d="M543.5 139.4l4 4m0-4-4 4"/>
<path d="M537.6 156.1l4 4m0-4-4 4"/>
<path d="M544.7 144.8l4 4m0-4-4 4"/>
<path d="M542.9 146.4l4 4m0-4-4 4"/>
<path d="M534.5 161.8l4 4m0-4-4 4"/>
<path d="M548.9 144.3l4 4m0-4-4 4"/>
<path d="M547.6 140.3l4 4m0-4-4 4"/>
<path d="M545.1 141.0l4 4m0-4-4 4"/>
<path d="M552.0 122.2l4 4m0-4-4 4"/>
<path d="M536.8 156.9l4 4m0-4-4 4"/>
<path d="M556.0 125.2l4 4m0-4-4 4"/>
<path d="M543.0 141.4l4 4m0-4-4 4"/>
<path d="M543.1 147.5l4 4m0-4-4 4"/>
<path d="M560.5 104.5l4 4m0-4-4 4"/>
<path d="M548.4 124.0l4 4m0-4-4 4"/>
<path d="M528.5 165.5l4 4m0-4-4 4"/>
<path d="M553.1 133.8l4 4m0-4-4 4"/>
<path d="M551.7 127.8l4 4m0-4-4 4"/>
<path d="M560.0 102.3l4 4m0-4-4 4"/>
<path d="M545.0 143.3l4 4m0-4-4 4"/>
<path d="M544.1 145.9l4 4m0-4-4 4"/>
<path d="M545.4 143.0l4 4m0-4-4 4"/>
<path d="M553.1 116.0l4 4m0-4-4 4"/>
<path d="M534.2 164.3l4 4m0-4-4 4"/>
<path d="M528.1 165.2l4 4m0-4-4 4"/>
<path d="M535.1 168.7l4 4m0-4-4 4"/>
<path d="M535.5 149.2l4 4m0-4-4 4"/>
<path d="M547.7 130.3l4 4m0-4-4 4"/>
<path d="M535.7 155.4l4 4m0-4-4 4"/>
<path d="M559.9 102.1l4 4m0-4-4 4"/>
<path d="M552.1 125.5l4 4m0-4-4 4"/>
<path d="M534.5 153.3l4 4m0-4-4 4"/>
<path d="M533.0 155.6l4 4m0-4-4 4"/>
<path d="M539.2 153.5l4 4m0-4-4 4"/>
<path d="M540.8 140.4l4 4m0-4-4 4"/>
<path d="M519.6 184.9l4 4m0-4-4 4"/>
<path d="M552.0 126.0l4 4m0-4-4 4"/>
<path d="M549.9 119.0l4 4m0-4-4 4"/>
<path d="M523.1 180.1l4 4m0-4-4 4"/>
<path d="M524.7 181.3l4 4m0-4-4 4"/>
<path d="M535.7 155.2l4 4m0-4-4 4"/>
<path d="M544.5 150.6l4 4m0-4-4 4"/>
<path d="M538.9 153.5l4 4m0-4-4 4"/>
<path d="M523.8 176.3l4 4m0-4-4 4"/>
<path d="M540.6 154.2l4 4m0-4-4 4"/>
<path d="M523.3 170.9l4 4m0-4-4 4"/>
<path d="M532.8 165.0l4 4m0-4-4 4"/>
<path d="M546.0 136.6l4 4m0-4-4 4"/>
<path d="M519.6 181.5l4 4m0-4-4 4"/>
<path d="M548.3 135.8l4 4m0-4-4 4"/>
<path d="M519.4 174.6l4 4m0-4-4 4"/>
<path d="M523.7 175.3l4 4m0-4-4 4"/>
<path d="M524.6 170.1l4 4m0-4-4 4"/>
<path d="M538.3 153.4l4 4m0-4-4 4"/>
<path d="M554.2 122.4l4 4m0-4-4 4"/>
<path d="M543.3 138.7l4 4m0-4-4 4"/>
<path d="M552.5 119.3l4 4m0-4-4 4"/>
<path d="M576.8 93.0l4 4m0-4-4 4"/>
<path d="M539.9 159.4l4 4m0-4-4 4"/>
<path d="M535.9 156.0l4 4m0-4-4 4"/>
<path d="M545.6 142.3l4 4m0-4-4 4"/>
<path d="M519.5 183.6l4 4m0-4-4 4"/>
<path d="M551.9 119.3l4 4m0-4-4 4"/>
<path d="M543.6 149.2l4 4m0-4-4 4"/>
<path d="M548.9 134.3l4 4m0-4-4 4"/>
<path d="M539.2 150.2l4 4m0-4-4 4"/>
<path d="M551.2 136.1l4 4m0-4-4 4"/>
<path d="M519.6 182.3l4 4m0-4-4 4"/>
<path d="M556.6 106.8l4 4m0-4-4 4"/>
<path d="M535.8 154.4l4 4m0-4-4 4"/>
<path d="M534.7 155.5l4 4m0-4-4 4"/>
<path d="M557.7 108.6l4 4m0-4-4 4"/>
<path d="M545.6 136.3l4 4m0-4-4 4"/>
<path d="M550.8 124.7l4 4m0-4-4 4"/>
<path d="M542.5 142.8l4 4m0-4-4 4"/>
<path d="M576.3 94.2l4 4m0-4-4 4"/>
<path d="M544.6 143.1l4 4m0-4-4 4"/>
<path d="M534.5 163.5l4 4m0-4-4 4"/>
<path d="M550.1 137.0l4 4m0-4-4 4"/>
<path d="M538.9 160.5l4 4m0-4-4 4"/>
<path d="M547.9 137.1l4 4m0-4-4 4"/>
<path d="M545.8 140.7l4 4m0-4-4 4"/>
<path d="M554.3 124.4l4 4m0-4-4 4"/>
<path d="M548.2 127.2l4 4m0-4-4 4"/>
<path d="M549.3 128.9l4 4m0-4-4 4"/>
<path d="M563.0 113.3l4 4m0-4-4 4"/>
<path d="M555.2 125.0l4 4m0-4-4 4"/>
<path d="M532.8 161.0l4 4m0-4-4 4"/>
<path d="M542.4 143.4l4 4m0-4-4 4"/>
<path d="M542.2 148.7l4 4m0-4-4 4"/>
<path d="M575.6 75.5l4 4m0-4-4 4"/>
<path d="M556.2 111.2l4 4m0-4-4 4"/>
<path d="M557.5 126.6l4 4m0-4-4 4"/>
<path d="M535.6 159.6l4 4m0-4-4 4"/>
<path d="M550.1 132.3l4 4m0-4-4 4"/>
<path d="M566.3 95.2l4 4m0-4-4 4"/>
<path d="M548.2 134.3l4 4m0-4-4 4"/>
<path d="M536.7 151.3l4 4m0-4-4 4"/>
<path d="M557.8 117.8l4 4m0-4-4 4"/>
<path d="M540.0 152.0l4 4m0-4-4 4"/>
<path d="M550.6 129.5l4 4m0-4-4 4"/>
<path d="M551.3 137.9l4 4m0-4-4 4"/>
<path d="M542.5 149.3l4 4m0-4-4 4"/>
<path d="M560.9 99.3l4 4m0-4-4 4"/>
<path d="M524.4 178.4l4 4m0-4-4 4"/>
<path d="M562.9 117.7l4 4m0-4-4 4"/>
<path d="M549.8 132.1l4 4m0-4-4 4"/>
<path d="M553.8 131.2l4 4m0-4-4 4"/>
<path d="M545.9 142.2l4 4m0-4-4 4"/>
<path d="M560.6 104.8l4 4m0-4-4 4"/>
<path d="M547.9 132.5l4 4m0-4-4 4"/>
<path d="M494.8 207.2l4 4m0-4-4 4"/>
<path d="M545.7 132.0l4 4m0-4-4 4"/>
<path d="M542.0 146.7l4 4m0-4-4 4"/>
<path d="M548.2 130.2l4 4m0-4-4 4"/>
<path d="M556.2 128.8l4 4m0-4-4 4"/>
<path d="M535.3 158.4l4 4m0-4-4 4"/>
<path d="M535.9 151.2l4 4m0-4-4 4"/>
<path d="M536.4 149.8l4 4m0-4-4 4"/>
<path d="M549.0 140.8l4 4m0-4-4 4"/>
<path d="M550.8 129.2l4 4m0-4-4 4"/>
<path d="M555.1 111.8l4 4m0-4-4 4"/>
<path d="M543.4 141.6l4 4m0-4-4 4"/>
<path d="M538.5 153.8l4 4m0-4-4 4"/>
<path d="M535.2 158.4l4 4m0-4-4 4"/>
<path d="M549.0 145.0l4 4m0-4-4 4"/>
<path d="M556.1 121.3l4 4m0-4-4 4"/>
<path d="M536.9 152.8l4 4m0-4-4 4"/>
<path d="M544.0 131.7l4 4m0-4-4 4"/>
<path d="M540.8 151.9l4 4m0-4-4 4"/>
<path d="M540.0 152.6l4 4m0-4-4 4"/>
<path d="M546.8 137.8l4 4m0-4-4 4"/>
<path d="M551.7 133.6l4 4m0-4-4 4"/>
<path d="M552.9 125.6l4 4m0-4-4 4"/>
<path d="M549.1 135.1l4 4m0-4-4 4"/>
<path d="M542.2 158.4l4 4m0-4-4 4"/>
<path d="M532.2 157.1l4 4m0-4-4 4"/>
<path d="M519.8 185.9l4 4m0-4-4 4"/>
<path d="M531.4 169.7l4 4m0-4-4 4"/>
<path d="M532.4 159.5l4 4m0-4-4 4"/>
<path d="M566.7 116.1l4 4m0-4-4 4"/>
<path d="M534.3 151.8l4 4m0-4-4 4"/>
<path d="M558.8 116.5l4 4m0-4-4 4"/>
<path d="M532.8 156.7l4 4m0-4-4 4"/>
<path d="M547.6 129.3l4 4m0-4-4 4"/>
<path d="M548.0 136.3l4 4m0-4-4 4"/>
<path d="M545.9 138.6l4 4m0-4-4 4"/>
<path d="M537.6 156.9l4 4m0-4-4 4"/>
<path d="M546.3 139.6l4 4m0-4-4 4"/>
<path d="M557.1 113.1l4 4m0-4-4 4"/>
<path d="M545.4 139.3l4 4m0-4-4 4"/>
<path d="M529.8 162.2l4 4m0-4-4 4"/>
<path d="M532.4 164.0l4 4m0-4-4 4"/>
<path d="M548.0 141.9l4 4m0-4-4 4"/>
<path d="M537.6 153.4l4 4m0-4-4 4"/>
<path d="M539.8 149.5l4 4m0-4-4 4"/>
<path d="M541.1 149.1l4 4m0-4-4 4"/>
<path d="M552.8 112.9l4 4m0-4-4 4"/>
<path d="M543.5 133.9l4 4m0-4-4 4"/>
<path d="M537.3 152.9l4 4m0-4-4 4"/>
<path d="M538.7 157.6l4 4m0-4-4 4"/>
<path d="M546.4 146.2l4 4m0-4-4 4"/>
<path d="M574.2 94.1l4 4m0-4-4 4"/>
<path d="M543.0 145.7l4 4m0-4-4 4"/>
<path d="M507.8 193.6l4 4m0-4-4 4"/>
<path d="M541.8 147.5l4 4m0-4-4 4"/>
<path d="M548.7 130.6l4 4m0-4-4 4"/>
<path d="M536.4 156.2l4 4m0-4-4 4"/>
<path d="M548.7 136.8l4 4m0-4-4 4"/>
<path d="M568.2 94.9l4 4m0-4-4 4"/>
<path d="M551.9 115.3l4 4m0-4-4 4"/>
<path d="M561.1 118.5l4 4m0-4-4 4"/>
<path d="M537.6 167.7l4 4m0-4-4 4"/>
<path d="M539.7 146.7l4 4m0-4-4 4"/>
<path d="M541.8 142.5l4 4m0-4-4 4"/>
<path d="M549.1 140.4l4 4m0-4-4 4"/>
<path d="M561.4 98.2l4 4m0-4-4 4"/>
<path d="M558.7 106.6l4 4m0-4-4 4"/>
<path d="M545.1 144.3l4 4m0-4-4 4"/>
<path d="M559.2 127.7l4 4m0-4-4 4"/>
<path d="M537.3 160.7l4 4m0-4-4 4"/>
<path d="M551.3 119.8l4 4m0-4-4 4"/>
<path d="M528.9 179.7l4 4m0-4-4 4"/>
<path d="M553.9 117.4l4 4m0-4-4 4"/>
<path d="M533.9 163.6l4 4m0-4-4 4"/>
<path d="M559.7 101.0l4 4m0-4-4 4"/>
<path d="M560.5 113.5l4 4m0-4-4 4"/>
<path d="M543.8 146.1l4 4m0-4-4 4"/>
<path d="M538.3 146.6l4 4m0-4-4 4"/>
<path d="M526.6 164.7l4 4m0-4-4 4"/>
<path d="M536.4 161.2l4 4m0-4-4 4"/>
<path d="M535.4 161.6l4 4m0-4-4 4"/>
<path d="M532.2 158.4l4 4m0-4-4 4"/>
<path d="M551.8 127.3l4 4m0-4-4 4"/>
<path d="M540.6 151.6l4 4m0-4-4 4"/>
<path d="M550.7 123.0l4 4m0-4-4 4"/>
<path d="M536.0 148.5l4 4m0-4-4 4"/>
<path d="M547.5 137.1l4 4m0-4-4 4"/>
<path d="M549.5 132.5l4 4m0-4-4 4"/>
<path d="M548.1 138.5l4 4m0-4-4 4"/>
<path d="M528.3 164.7l4 4m0-4-4 4"/>
<path d="M553.0 119.3l4 4m0-4-4 4"/>
<path d="M527.3 166.3l4 4m0-4-4 4"/>
<path d="M550.7 129.6l4 4m0-4-4 4"/>
<path d="M553.5 132.0l4 4m0-4-4 4"/>
<path d="M542.2 147.1l4 4m0-4-4 4"/>
<path d="M543.8 140.7l4 4m0-4-4 4"/>
<path d="M552.9 133.7l4 4m0-4-4 4"/>
<path d="M567.6 95.9l4 4m0-4-4 4"/>
<path d="M550.9 135.0l4 4m0-4-4 4"/>
<path d="M542.6 154.5l4 4m0-4-4 4"/>
<path d="M563.4 116.4l4 4m0-4-4 4"/>
<path d="M557.3 111.6l4 4m0-4-4 4"/>
<path d="M544.9 136.9l4 4m0-4-4 4"/>
<path d="M553.9 116.6l4 4m0-4-4 4"/>
<path d="M562.7 107.0l4 4m0-4-4 4"/>
<path d="M521.6 184.2l4 4m0-4-4 4"/>
<path d="M550.5 121.9l4 4m0-4-4 4"/>
<path d="M539.1 149.5l4 4m0-4-4 4"/>
<path d="M535.7 155.8l4 4m0-4-4 4"/>
<path d="M538.8 149.2l4 4m0-4-4 4"/>
<path d="M546.7 141.3l4 4m0-4-4 4"/>
<path d="M539.3 161.1l4 4m0-4-4 4"/>
<path d="M538.9 149.9l4 4m0-4-4 4"/>
<path d="M527.5 167.0l4 4m0-4-4 4"/>
<path d="M545.9 135.6l4 4m0-4-4 4"/>
<path d="M548.3 133.5l4 4m0-4-4 4"/>
<path d="M541.3 151.7l4 4m0-4-4 4"/>
<path d="M542.7 143.2l4 4m0-4-4 4"/>
<path d="M566.8 106.7l4 4m0-4-4 4"/>
<path d="M532.0 162.6l4 4m0-4-4 4"/>
<path d="M555.0 112.9l4 4m0-4-4 4"/>
<path d="M556.5 115.5l4 4m0-4-4 4"/>
<path d="M552.6 128.9l4 4m0-4-4 4"/>
<path d="M556.6 116.3l4 4m0-4-4 4"/>
<path d="M519.3 175.6l4 4m0-4-4 4"/>
<path d="M565.5 103.4l4 4m0-4-4 4"/>
<path d="M531.8 158.8l4 4m0-4-4 4"/>
<path d="M559.4 108.6l4 4m0-4-4 4"/>
<path d="M563.8 108.5l4 4m0-4-4 4"/>
<path d="M543.4 148.1l4 4m0-4-4 4"/>
<path d="M556.4 120.5l4 4m0-4-4 4"/>
<path d="M551.5 122.8l4 4m0-4-4 4"/>
<path d="M555.1 129.9l4 4m0-4-4 4"/>
<path d="M547.4 134.7l4 4m0-4-4 4"/>
<path d="M560.7 126.2l4 4m0-4-4 4"/>
<path d="M526.4 167.7l4 4m0-4-4 4"/>
<path d="M521.4 173.7l4 4m0-4-4 4"/>
<path d="M559.7 109.7l4 4m0-4-4 4"/>
<path d="M533.9 164.9l4 4m0-4-4 4"/>
<path d="M528.8 162.0l4 4m0-4-4 4"/>
<path d="M552.7 127.1l4 4m0-4-4 4"/>
<path d="M538.8 147.0l4 4m0-4-4 4"/>
<path d="M542.4 145.6l4 4m0-4-4 4"/>
<path d="M548.5 140.1l4 4m0-4-4 4"/>
<path d="M566.7 104.8l4 4m0-4-4 4"/>
<path d="M550.0 125.9l4 4m0-4-4 4"/>
<path d="M548.1 136.6l4 4m0-4-4 4"/>
<path d="M573.5 91.1l4 4m0-4-4 4"/>
<path d="M549.5 128.5l4 4m0-4-4 4"/>
<path d="M546.8 135.3l4 4m0-4-4 4"/>
<path d="M556.2 117.8l4 4m0-4-4 4"/>
<path d="M543.8 145.2l4 4m0-4-4 4"/>
<path d="M531.2 165.0l4 4m0-4-4 4"/>
<path d="M545.8 156.0l4 4m0-4-4 4"/>
<path d="M540.5 146.7l4 4m0-4-4 4"/>
<path d="M563.5 102.8l4 4m0-4-4 4"/>
<path d="M563.2 112.0l4 4m0-4-4 4"/>
<path d="M518.0 185.7l4 4m0-4-4 4"/>
<path d="M519.4 169.5l4 4m0-4-4 4"/>
<path d="M545.1 140.6l4 4m0-4-4 4"/>
<path d="M550.4 136.5l4 4m0-4-4 4"/>
<path d="M546.7 138.7l4 4m0-4-4 4"/>
<path d="M538.5 149.4l4 4m0-4-4 4"/>
<path d="M558.0 115.5l4 4m0-4-4 4"/>
<path d="M552.8 133.6l4 4m0-4-4 4"/>
<path d="M534.4 161.5l4 4m0-4-4 4"/>
<path d="M544.4 139.4l4 4m0-4-4 4"/>
<path d="M550.8 122.9l4 4m0-4-4 4"/>
<path d="M551.0 119.8l4 4m0-4-4 4"/>
<path d="M544.5 144.4l4 4m0-4-4 4"/>
<path d="M538.2 159.4l4 4m0-4-4 4"/>
<path d="M570.9 95.5l4 4m0-4-4 4"/>
<path d="M546.9 145.6l4 4m0-4-4 4"/>
<path d="M548.2 133.0l4 4m0-4-4 4"/>
<path d="M544.5 152.1l4 4m0-4-4 4"/>
<path d="M570.1 85.4l4 4m0-4-4 4"/>
<path d="M568.0 103.8l4 4m0-4-4 4"/>
<path d="M539.6 150.2l4 4m0-4-4 4"/>
<path d="M553.5 122.3l4 4m0-4-4 4"/>
<path d="M540.5 145.1l4 4m0-4-4 4"/>
<path d="M552.2 123.7l4 4m0-4-4 4"/>
<path d="M552.8 130.1l4 4m0-4-4 4"/>
<path d="M549.1 128.5l4 4m0-4-4 4"/>
<path d="M566.6 101.2l4 4m0-4-4 4"/>
<path d="M530.0 162.7l4 4m0-4-4 4"/>
<path d="M544.4 132.3l4 4m0-4-4 4"/>
<path d="M534.8 162.3l4 4m0-4-4 4"/>
<path d="M551.2 124.5l4 4m0-4-4 4"/>
<path d="M532.5 162.1l4 4m0-4-4 4"/>
<path d="M572.5 99.2l4 4m0-4-4 4"/>
<path d="M556.1 128.4l4 4m0-4-4 4"/>
<path d="M514.4 183.6l4 4m0-4-4 4"/>
<path d="M546.8 138.6l4 4m0-4-4 4"/>
<path d="M527.6 175.6l4 4m0-4-4 4"/>
<path d="M546.7 137.2l4 4m0-4-4 4"/>
<path d="M539.0 145.1l4 4m0-4-4 4"/>
<path d="M527.7 176.2l4 4m0-4-4 4"/>
<path d="M547.8 147.5l4 4m0-4-4 4"/>
<path d="M548.5 138.7l4 4m0-4-4 4"/>
<path d="M553.3 121.3l4 4m0-4-4 4"/>
<path d="M527.2 165.0l4 4m0-4-4 4"/>
<path d="M554.7 116.4l4 4m0-4-4 4"/>
<path d="M546.0 137.8l4 4m0-4-4 4"/>
<path d="M534.3 157.6l4 4m0-4-4 4"/>
<path d="M545.8 134.5l4 4m0-4-4 4"/>
<path d="M535.4 154.1l4 4m0-4-4 4"/>
<path d="M546.1 143.6l4 4m0-4-4 4"/>
<path d="M554.5 120.1l4 4m0-4-4 4"/>
<path d="M557.3 116.2l4 4m0-4-4 4"/>
<path d="M554.1 123.1l4 4m0-4-4 4"/>
<path d="M533.5 167.7l4 4m0-4-4 4"/>
<path d="M543.4 151.1l4 4m0-4-4 4"/>
<path d="M548.7 134.8l4 4m0-4-4 4"/>
<path d="M541.4 140.9l4 4m0-4-4 4"/>
<path d="M549.3 140.5l4 4m0-4-4 4"/>
<path d="M539.6 154.3l4 4m0-4-4 4"/>
<path d="M524.2 173.4l4 4m0-4-4 4"/>
<path d="M536.9 161.8l4 4m0-4-4 4"/>
<path d="M506.6 198.2l4 4m0-4-4 4"/>
<path d="M542.5 144.4l4 4m0-4-4 4"/>
<path d="M558.8 126.2l4 4m0-4-4 4"/>
<path d="M538.1 163.6l4 4m0-4-4 4"/>
<path d="M546.6 119.2l4 4m0-4-4 4"/>
<path d="M551.5 136.8l4 4m0-4-4 4"/>
<path d="M531.8 162.7l4 4m0-4-4 4"/>
<path d="M552.5 137.3l4 4m0-4-4 4"/>
<path d="M546.3 131.7l4 4m0-4-4 4"/>
<path d="M548.4 138.2l4 4m0-4-4 4"/>
<path d="M537.9 151.0l4 4m0-4-4 4"/>
<path d="M546.8 138.2l4 4m0-4-4 4"/>
<path d="M541.6 147.4l4 4m0-4-4 4"/>
<path d="M553.7 127.1l4 4m0-4-4 4"/>
<path d="M532.0 157.9l4 4m0-4-4 4"/>
<path d="M543.0 142.4l4 4m0-4-4 4"/>
<path d="M538.7 153.5l4 4m0-4-4 4"/>
<path d="M548.4 128.8l4 4m0-4-4 4"/>
<path d="M560.1 111.5l4 4m0-4-4 4"/>
<path d="M527.0 164.6l4 4m0-4-4 4"/>
<path d="M538.8 152.3l4 4m0-4-4 4"/>
<path d="M527.5 163.0l4 4m0-4-4 4"/>
<path d="M539.9 142.3l4 4m0-4-4 4"/>
<path d="M551.9 125.1l4 4m0-4-4 4"/>
<path d="M567.7 106.1l4 4m0-4-4 4"/>
<path d="M542.5 149.9l4 4m0-4-4 4"/>
<path d="M556.6 125.7l4 4m0-4-4 4"/>
<path d="M548.0 138.4l4 4m0-4-4 4"/>
<path d="M548.0 135.5l4 4m0-4-4 4"/>
<path d="M536.8 158.7l4 4m0-4-4 4"/>
<path d="M527.0 164.9l4 4m0-4-4 4"/>
<path d="M547.1 137.2l4 4m0-4-4 4"/>
<path d="M548.6 128.8l4 4m0-4-4 4"/>
<path d="M543.3 151.2l4 4m0-4-4 4"/>
<path d="M553.7 125.8l4 4m0-4-4 4"/>
<path d="M535.3 155.0l4 4m0-4-4 4"/>
<path d="M553.9 122.9l4 4m0-4-4 4"/>
<path d="M554.1 128.3l4 4m0-4-4 4"/>
<path d="M544.5 142.2l4 4m0-4-4 4"/>
<path d="M543.5 145.1l4 4m0-4-4 4"/>
<path d="M555.4 123.4l4 4m0-4-4 4"/>
<path d="M553.8 122.8l4 4m0-4-4 4"/>
<path d="M554.3 136.4l4 4m0-4-4 4"/>
<path d="M539.0 153.9l4 4m0-4-4 4"/>
<path d="M557.9 110.2l4 4m0-4-4 4"/>
<path d="M553.7 119.4l4 4m0-4-4 4"/>
<path d="M535.4 171.7l4 4m0-4-4 4"/>
<path d="M540.0 151.4l4 4m0-4-4 4"/>
<path d="M548.1 128.6l4 4m0-4-4 4"/>
<path d="M546.1 128.2l4 4m0-4-4 4"/>
<path d="M531.6 167.4l4 4m0-4-4 4"/>
<path d="M550.5 145.1l4 4m0-4-4 4"/>
<path d="M545.5 144.2l4 4m0-4-4 4"/>
<path d="M568.5 94.7l4 4m0-4-4 4"/>
<path d="M545.3 147.4l4 4m0-4-4 4"/>
<path d="M546.6 137.1l4 4m0-4-4 4"/>
<path d="M537.4 153.1l4 4m0-4-4 4"/>
<path d="M553.1 123.3l4 4m0-4-4 4"/>
<path d="M540.8 146.3l4 4m0-4-4 4"/>
<path d="M545.8 131.7l4 4m0-4-4 4"/>
<path d="M518.0 184.4l4 4m0-4-4 4"/>
<path d="M557.2 129.9l4 4m0-4-4 4"/>
<path d="M548.1 125.9l4 4m0-4-4 4"/>
<path d="M550.1 123.7l4 4m0-4-4 4"/>
<path d="M524.6 177.1l4 4m0-4-4 4"/>
<path d="M542.0 145.6l4 4m0-4-4 4"/>
<path d="M555.4 119.3l4 4m0-4-4 4"/>
<path d="M547.9 137.8l4 4m0-4-4 4"/>
<path d="M546.7 142.0l4 4m0-4-4 4"/>
<path d="M543.9 144.7l4 4m0-4-4 4"/>
<path d="M544.5 146.0l4 4m0-4-4 4"/>
<path d="M546.8 142.5l4 4m0-4-4 4"/>
<path d="M545.2 138.9l4 4m0-4-4 4"/>
<path d="M552.7 131.5l4 4m0-4-4 4"/>
<path d="M537.5 154.9l4 4m0-4-4 4"/>
<path d="M533.5 155.4l4 4m0-4-4 4"/>
<path d="M552.4 136.1l4 4m0-4-4 4"/>
<path d="M555.2 116.1l4 4m0-4-4 4"/>
<path d="M551.8 132.0l4 4m0-4-4 4"/>
<path d="M562.9 101.9l4 4m0-4-4 4"/>
<path d="M520.6 185.7l4 4m0-4-4 4"/>
<path d="M540.5 142.5l4 4m0-4-4 4"/>
<path d="M546.0 138.1l4 4m0-4-4 4"/>
<path d="M532.0 161.2l4 4m0-4-4 4"/>
<path d="M540.0 147.3l4 4m0-4-4 4"/>
<path d="M557.8 128.8l4 4m0-4-4 4"/>
<path d="M555.3 109.4l4 4m0-4-4 4"/>
<path d="M531.9 159.4l4 4m0-4-4 4"/>
<path d="M560.2 107.8l4 4m0-4-4 4"/>
<path d="M556.9 125.8l4 4m0-4-4 4"/>
<path d="M559.4 112.3l4 4m0-4-4 4"/>
<path d="M549.8 125.8l4 4m0-4-4 4"/>
<path d="M545.1 142.8l4 4m0-4-4 4"/>
<path d="M572.7 85.6l4 4m0-4-4 4"/>
<path d="M535.2 155.7l4 4m0-4-4 4"/>
<path d="M558.9 126.1l4 4m0-4-4 4"/>
<path d="M534.4 155.7l4 4m0-4-4 4"/>
<path d="M551.9 126.8l4 4m0-4-4 4"/>
<path d="M541.8 148.2l4 4m0-4-4 4"/>
<path d="M549.6 118.7l4 4m0-4-4 4"/>
<path d="M573.5 88.0l4 4m0-4-4 4"/>
<path d="M550.6 120.1l4 4m0-4-4 4"/>
<path d="M548.3 118.2l4 4m0-4-4 4"/>
<path d="M535.8 159.1l4 4m0-4-4 4"/>
<path d="M533.0 160.9l4 4m0-4-4 4"/>
<path d="M526.3 174.7l4 4m0-4-4 4"/>
<path d="M513.4 179.1l4 4m0-4-4 4"/>
<path d="M554.0 133.6l4 4m0-4-4 4"/>
<path d="M562.9 114.4l4 4m0-4-4 4"/>
<path d="M528.0 164.1l4 4m0-4-4 4"/>
<path d="M550.5 132.5l4 4m0-4-4 4"/>
<path d="M553.0 122.2l4 4m0-4-4 4"/>
<path d="M538.2 156.8l4 4m0-4-4 4"/>
<path d="M551.1 130.6l4 4m0-4-4 4"/>
<path d="M565.4 102.0l4 4m0-4-4 4"/>
<path d="M546.7 139.8l4 4m0-4-4 4"/>
<path d="M517.5 180.1l4 4m0-4-4 4"/>
<path d="M556.4 111.2l4 4m0-4-4 4"/>
<path d="M541.4 145.7l4 4m0-4-4 4"/>
<path d="M568.2 100.4l4 4m0-4-4 4"/>
<path d="M574.7 84.9l4 4m0-4-4 4"/>
<path d="M519.9 181.3l4 4m0-4-4 4"/>
<path d="M562.4 99.5l4 4m0-4-4 4"/>
<path d="M577.0 84.1l4 4m0-4-4 4"/>
<path d="M516.2 188.9l4 4m0-4-4 4"/>
<path d="M552.6 126.0l4 4m0-4-4 4"/>
<path d="M533.8 155.4l4 4m0-4-4 4"/>
<path d="M530.7 174.0l4 4m0-4-4 4"/>
<path d="M556.3 122.2l4 4m0-4-4 4"/>
<path d="M562.0 101.5l4 4m0-4-4 4"/>
<path d="M573.7 94.1l4 4m0-4-4 4"/>
<path d="M501.9 200.9l4 4m0-4-4 4"/>
<path d="M519.8 184.0l4 4m0-4-4 4"/>
<path d="M511.5 190.5l4 4m0-4-4 4"/>
<path d="M547.8 125.4l4 4m0-4-4 4"/>
<path d="M524.7 172.1l4 4m0-4-4 4"/>
<path d="M583.9 87.7l4 4m0-4-4 4"/>
<path d="M557.4 124.6l4 4m0-4-4 4"/>
<path d="M570.4 94.5l4 4m0-4-4 4"/>
<path d="M532.4 160.1l4 4m0-4-4 4"/>
<path d="M532.2 157.2l4 4m0-4-4 4"/>
<path d="M549.5 129.7l4 4m0-4-4 4"/>
<path d="M564.8 107.2l4 4m0-4-4 4"/>
<path d="M577.8 89.7l4 4m0-4-4 4"/>
<path d="M543.2 154.6l4 4m0-4-4 4"/>
<path d="M561.4 98.5l4 4m0-4-4 4"/>
<path d="M532.4 158.8l4 4m0-4-4 4"/>
<path d="M544.1 145.8l4 4m0-4-4 4"/>
<path d="M522.0 174.3l4 4m0-4-4 4"/>
<path d="M506.9 200.5l4 4m0-4-4 4"/>
<path d="M558.0 109.9l4 4m0-4-4 4"/>
<path d="M532.7 165.8l4 4m0-4-4 4"/>
<path d="M506.8 193.8l4 4m0-4-4 4"/>
<path d="M569.3 104.3l4 4m0-4-4 4"/>
<path d="M525.3 172.7l4 4m0-4-4 4"/>
<path d="M564.5 98.8l4 4m0-4-4 4"/>
<path d="M524.8 177.6l4 4m0-4-4 4"/>
<path d="M553.6 120.3l4 4m0-4-4 4"/>
<path d="M546.6 158.0l4 4m0-4-4 4"/>
<path d="M569.8 97.3l4 4m0-4-4 4"/>
<path d="M570.3 93.1l4 4m0-4-4 4"/>
<path d="M533.2 152.7l4 4m0-4-4 4"/>
<path d="M510.8 197.4l4 4m0-4-4 4"/>
<path d="M542.2 152.4l4 4m0-4-4 4"/>
<path d="M573.3 83.1l4 4m0-4-4 4"/>
<path d="M502.0 198.4l4 4m0-4-4 4"/>
<path d="M551.9 132.6l4 4m0-4-4 4"/>
<path d="M521.8 186.4l4 4m0-4-4 4"/>
<path d="M507.9 188.1l4 4m0-4-4 4"/>
<path d="M550.9 121.9l4 4m0-4-4 4"/>
<path d="M517.0 187.6l4 4m0-4-4 4"/>
<path d="M521.5 188.0l4 4m0-4-4 4"/>
<path d="M560.9 100.4l4 4m0-4-4 4"/>
<path d="M572.2 91.3l4 4m0-4-4 4"/>
<path d="M556.1 129.9l4 4m0-4-4 4"/>
<path d="M530.5 164.6l4 4m0-4-4 4"/>
<path d="M564.8 109.3l4 4m0-4-4 4"/>
<path d="M517.3 189.2l4 4m0-4-4 4"/>
<path d="M539.8 151.9l4 4m0-4-4 4"/>
<path d="M526.2 166.0l4 4m0-4-4 4"/>
<path d="M562.5 110.7l4 4m0-4-4 4"/>
<path d="M553.8 125.8l4 4m0-4-4 4"/>
<path d="M544.3 148.8l4 4m0-4-4 4"/>
<path d="M574.1 80.5l4 4m0-4-4 4"/>
<path d="M541.1 152.7l4 4m0-4-4 4"/>
<path d="M527.9 183.4l4 4m0-4-4 4"/>
<path d="M545.3 141.1l4 4m0-4-4 4"/>
<path d="M510.2 185.8l4 4m0-4-4 4"/>
<path d="M572.1 92.4l4 4m0-4-4 4"/>
<path d="M550.1 120.4l4 4m0-4-4 4"/>
<path d="M527.6 170.3l4 4m0-4-4 4"/>
<path d="M516.6 188.4l4 4m0-4-4 4"/>
<path d="M576.4 87.3l4 4m0-4-4 4"/>
<path d="M540.5 156.8l4 4m0-4-4 4"/>
<path d="M522.0 175.7l4 4m0-4-4 4"/>
<path d="M571.1 94.2l4 4m0-4-4 4"/>
<path d="M519.7 184.8l4 4m0-4-4 4"/>
<path d="M499.8 203.3l4 4m0-4-4 4"/>
<path d="M503.8 198.5l4 4m0-4-4 4"/>
<path d="M523.6 178.4l4 4m0-4-4 4"/>
<path d="M521.6 179.6l4 4m0-4-4 4"/>
<path d="M518.9 181.3l4 4m0-4-4 4"/>
<path d="M525.5 171.6l4 4m0-4-4 4"/>
<path d="M509.0 194.4l4 4m0-4-4 4"/>
<path d="M520.5 180.9l4 4m0-4-4 4"/>
<path d="M519.3 184.7l4 4m0-4-4 4"/>
<path d="M510.8 183.2l4 4m0-4-4 4"/>
<path d="M502.2 198.7l4 4m0-4-4 4"/>
<path d="M518.7 180.1l4 4m0-4-4 4"/>
<path d="M527.9 175.5l4 4m0-4-4 4"/>
<path d="M519.7 185.9l4 4m0-4-4 4"/>
<path d="M513.9 185.3l4 4m0-4-4 4"/>
<path d="M515.5 182.6l4 4m0-4-4 4"/>
<path d="M526.1 170.5l4 4m0-4-4 4"/>
<path d="M517.2 185.3l4 4m0-4-4 4"/>
<path d="M507.2 191.6l4 4m0-4-4 4"/>
<path d="M512.2 185.3l4 4m0-4-4 4"/>
<path d="M510.0 191.1l4 4m0-4-4 4"/>
<path d="M592.0 28.0l4 4m0-4-4 4"/>
<path d="M623.4 36.4l4 4m0-4-4 4"/>
<path d="M624.6 54.8l4 4m0-4-4 4"/>
<path d="M604.6 53.6l4 4m0-4-4 4"/>
<path d="M594.7 53.6l4 4m0-4-4 4"/>
<path d="M591.4 56.7l4 4m0-4-4 4"/>
<path d="M599.1 61.9l4 4m0-4-4 4"/>
<path d="M612.5 67.2l4 4m0-4-4 4"/>
<path d="M579.5 62.5l4 4m0-4-4 4"/>
<path d="M584.3 64.4l4 4m0-4-4 4"/>
<path d="M581.8 70.5l4 4m0-4-4 4"/>
<path d="M578.1 76.5l4 4m0-4-4 4"/>
<path d="M589.6 80.4l4 4m0-4-4 4"/>
<path d="M591.5 84.2l4 4m0-4-4 4"/>
<path d="M582.5 70.8l4 4m0-4-4 4"/>
<path d="M489.1 200.1l4 4m0-4-4 4"/>
<path d="M491.0 204.6l4 4m0-4-4 4"/>
<path d="M498.7 189.9l4 4m0-4-4 4"/>
<path d="M506.3 189.9l4 4m0-4-4 4"/>
<path d="M500.0 204.0l4 4m0-4-4 4"/>
<path d="M505.1 200.8l4 4m0-4-4 4"/>
<path d="M496.8 212.9l4 4m0-4-4 4"/>
<path d="M503.1 221.9l4 4m0-4-4 4"/>
<path d="M506.3 216.8l4 4m0-4-4 4"/>
<path d="M508.9 211.6l4 4m0-4-4 4"/>
<path d="M511.5 208.4l4 4m0-4-4 4"/>
<path d="M515.3 205.9l4 4m0-4-4 4"/>
<path d="M514.6 200.1l4 4m0-4-4 4"/>
<path d="M517.8 197.0l4 4m0-4-4 4"/>
<path d="M493.6 226.9l4 4m0-4-4 4"/>
<path d="M491.6 241.6l4 4m0-4-4 4"/>
<path d="M487.8 248.7l4 4m0-4-4 4"/>
<path d="M518.9 158.9l4 4m0-4-4 4"/>
<path d="M552.8 160.8l4 4m0-4-4 4"/>
<path d="M512.5 181.2l4 4m0-4-4 4"/>
<path d="M507.4 187.0l4 4m0-4-4 4"/>
<path d="M670.1 16.8l4 4m0-4-4 4"/>
</g>
<polygon points="426.93,264.45 428.16,262.99 429.38,261.85 430.61,260.79 431.83,259.78 433.06,258.79 434.28,257.83 435.51,256.88 436.74,255.94 437.96,255.02 439.19,254.11 440.41,253.20 441.64,252.30 442.86,251.40 444.09,250.51 445.32,249.62 446.54,248.73 447.77,247.85 448.99,246.97 450.22,246.09 451.44,245.21 452.67,244.32 453.90,243.44 455.12,242.56 456.35,241.68 457.57,240.79 458.80,239.91 460.02,239.02 461.25,238.13 462.48,237.23 463.70,236.34 464.93,235.43 466.15,234.53 467.38,233.62 468.60,232.71 469.83,231.79 471.06,230.87 472.28,229.94 473.51,229.00 474.73,228.06 475.96,227.12 477.18,226.16 478.41,225.20 479.64,224.23 480.86,223.26 482.09,222.27 483.31,221.28 484.54,220.28 485.76,219.26 486.99,218.24 488.22,217.21 489.44,216.17 490.67,215.11 491.89,214.05 493.12,212.97 494.34,211.88 495.57,210.77 496.79,209.65 498.02,208.52 499.25,207.37 500.47,206.21 501.70,205.03 502.92,203.83 504.15,202.62 505.37,201.39 506.60,200.14 507.83,198.86 509.05,197.57 510.28,196.26 511.50,194.92 512.73,193.57 513.95,192.18 515.18,190.78 516.41,189.35 517.63,187.89 518.86,186.40 520.08,184.89 521.31,183.34 522.53,181.77 523.76,180.17 524.99,178.53 526.21,176.87 527.44,175.17 528.66,173.44 529.89,171.68 531.11,169.88 532.34,168.05 533.57,166.20 534.79,164.31 536.02,162.39 537.24,160.44 538.47,158.47 539.69,156.48 540.92,154.47 542.15,152.46 543.37,150.43 544.60,148.42 545.82,146.43 547.05,144.49 548.27,142.67 549.50,141.60 550.73,137.95 551.95,135.06 553.18,132.30 554.40,129.62 555.63,127.01 556.85,124.44 558.08,121.93 559.31,119.46 560.53,117.03 561.76,114.66 562.98,112.33 564.21,110.05 565.43,107.81 566.66,105.63 567.89,103.48 569.11,101.39 570.34,99.34 571.56,97.33 572.79,95.37 574.01,93.45 575.24,91.58 576.47,89.74 577.69,87.95 578.92,86.19 580.14,84.47 581.37,82.79 582.59,81.14 583.82,79.53 585.05,77.95 586.27,76.41 587.50,74.89 588.72,73.41 589.95,71.96 591.17,70.53 592.40,69.14 593.63,67.77 594.85,66.42 596.08,65.11 597.30,63.82 598.53,62.55 599.75,61.30 600.98,60.08 602.21,58.88 603.43,57.71 604.66,56.55 605.88,55.42 607.11,54.30 608.33,53.21 609.56,52.13 610.78,51.08 612.01,50.04 613.24,49.02 614.46,48.01 615.69,47.03 616.91,46.06 618.14,45.11 619.36,44.17 620.59,43.25 621.82,42.35 623.04,41.46 624.27,40.59 625.49,39.73 626.72,38.89 627.94,38.06 629.17,37.25 630.40,36.45 631.62,35.66 632.85,34.89 634.07,34.14 635.30,33.39 636.52,32.66 637.75,31.95 638.98,31.24 640.20,30.56 641.43,29.88 642.65,29.22 643.88,28.57 645.10,27.94 646.33,27.32 647.56,26.71 648.78,26.11 650.01,25.54 651.23,24.97 652.46,24.42 653.68,23.88 654.91,23.36 656.14,22.86 657.36,22.37 658.59,21.90 659.81,21.44 661.04,21.00 662.26,20.59 663.49,20.19 664.72,19.82 665.94,19.48 667.17,19.17 668.39,18.90 669.62,18.68 670.84,18.55 672.07,18.75 672.07,18.75 670.84,20.21 669.62,21.35 668.39,22.41 667.17,23.42 665.94,24.41 664.72,25.37 663.49,26.32 662.26,27.26 661.04,28.18 659.81,29.09 658.59,30.00 657.36,30.90 656.14,31.80 654.91,32.69 653.68,33.58 652.46,34.47 651.23,35.35 650.01,36.23 648.78,37.11 647.56,37.99 646.33,38.88 645.10,39.76 643.88,40.64 642.65,41.52 641.43,42.41 640.20,43.29 638.98,44.18 637.75,45.07 636.52,45.97 635.30,46.86 634.07,47.77 632.85,48.67 631.62,49.58 630.40,50.49 629.17,51.41 627.94,52.33 626.72,53.26 625.49,54.20 624.27,55.14 623.04,56.08 621.82,57.04 620.59,58.00 619.36,58.97 618.14,59.94 616.91,60.93 615.69,61.92 614.46,62.92 613.24,63.94 612.01,64.96 610.78,65.99 609.56,67.03 608.33,68.09 607.11,69.15 605.88,70.23 604.66,71.32 603.43,72.43 602.21,73.55 600.98,74.68 599.75,75.83 598.53,76.99 597.30,78.17 596.08,79.37 594.85,80.58 593.63,81.81 592.40,83.06 591.17,84.34 589.95,85.63 588.72,86.94 587.50,88.28 586.27,89.63 585.05,91.02 583.82,92.42 582.59,93.85 581.37,95.31 580.14,96.80 578.92,98.31 577.69,99.86 576.47,101.43 575.24,103.03 574.01,104.67 572.79,106.33 571.56,108.03 570.34,109.76 569.11,111.52 567.89,113.32 566.66,115.15 565.43,117.00 564.21,118.89 562.98,120.81 561.76,122.76 560.53,124.73 559.31,126.72 558.08,128.73 556.85,130.74 555.63,132.77 554.40,134.78 553.18,136.77 551.95,138.71 550.73,140.53 549.50,141.60 548.27,145.25 547.05,148.14 545.82,150.90 544.60,153.58 543.37,156.19 542.15,158.76 540.92,161.27 539.69,163.74 538.47,166.17 537.24,168.54 536.02,170.87 534.79,173.15 533.57,175.39 532.34,177.57 531.11,179.72 529.89,181.81 528.66,183.86 527.44,185.87 526.21,187.83 524.99,189.75 523.76,191.62 522.53,193.46 521.31,195.25 520.08,197.01 518.86,198.73 517.63,200.41 516.41,202.06 515.18,203.67 513.95,205.25 512.73,206.79 511.50,208.31 510.28,209.79 509.05,211.24 507.83,212.67 506.60,214.06 505.37,215.43 504.15,216.78 502.92,218.09 501.70,219.38 500.47,220.65 499.25,221.90 498.02,223.12 496.79,224.32 495.57,225.49 494.34,226.65 493.12,227.78 491.89,228.90 490.67,229.99 489.44,231.07 488.22,232.12 486.99,233.16 485.76,234.18 484.54,235.19 483.31,236.17 482.09,237.14 480.86,238.09 479.64,239.03 478.41,239.95 477.18,240.85 475.96,241.74 474.73,242.61 473.51,243.47 472.28,244.31 471.06,245.14 469.83,245.95 468.60,246.75 467.38,247.54 466.15,248.31 464.93,249.06 463.70,249.81 462.48,250.54 461.25,251.25 460.02,251.96 458.80,252.64 457.57,253.32 456.35,253.98 455.12,254.63 453.90,255.26 452.67,255.88 451.44,256.49 450.22,257.09 448.99,257.66 447.77,258.23 446.54,258.78 445.32,259.32 444.09,259.84 442.86,260.34 441.64,260.83 440.41,261.30 439.19,261.76 437.96,262.20 436.74,262.61 435.51,263.01 434.28,263.38 433.06,263.72 431.83,264.03 430.61,264.30 429.38,264.52 428.16,264.65 426.93,264.45" fill="#8172b3" fill-opacity="0.19"/>
<polygon points="426.93,264.45 428.16,263.32 429.38,262.39 430.61,261.50 431.83,260.63 433.06,259.78 434.28,258.94 435.51,258.10 436.74,257.28 437.96,256.46 439.19,255.64 440.41,254.82 441.64,254.00 442.86,253.19 444.09,252.37 445.32,251.56 446.54,250.74 447.77,249.93 448.99,249.11 450.22,248.29 451.44,247.46 452.67,246.64 453.90,245.81 455.12,244.97 456.35,244.14 457.57,243.30 458.80,242.45 460.02,241.61 461.25,240.75 462.48,239.89 463.70,239.03 464.93,238.16 466.15,237.29 467.38,236.40 468.60,235.52 469.83,234.62 471.06,233.72 472.28,232.81 473.51,231.90 474.73,230.97 475.96,230.04 477.18,229.10 478.41,228.15 479.64,227.19 480.86,226.22 482.09,225.25 483.31,224.26 484.54,223.26 485.76,222.25 486.99,221.23 488.22,220.19 489.44,219.15 490.67,218.09 491.89,217.02 493.12,215.93 494.34,214.83 495.57,213.72 496.79,212.59 498.02,211.44 499.25,210.28 500.47,209.10 501.70,207.90 502.92,206.69 504.15,205.45 505.37,204.20 506.60,202.92 507.83,201.63 509.05,200.31 510.28,198.97 511.50,197.60 512.73,196.21 513.95,194.80 515.18,193.36 516.41,191.89 517.63,190.39 518.86,188.87 520.08,187.31 521.31,185.73 522.53,184.11 523.76,182.46 524.99,180.78 526.21,179.06 527.44,177.31 528.66,175.53 529.89,173.70 531.11,171.85 532.34,169.96 533.57,168.03 534.79,166.07 536.02,164.08 537.24,162.06 538.47,160.01 539.69,157.93 540.92,155.83 542.15,153.72 543.37,151.59 544.60,149.45 545.82,147.33 547.05,145.22 548.27,143.19 549.50,141.60 550.73,138.46 551.95,135.79 553.18,133.19 554.40,130.65 555.63,128.16 556.85,125.70 558.08,123.29 559.31,120.91 560.53,118.57 561.76,116.28 562.98,114.03 564.21,111.82 565.43,109.65 566.66,107.53 567.89,105.45 569.11,103.41 570.34,101.42 571.56,99.47 572.79,97.56 574.01,95.70 575.24,93.87 576.47,92.08 577.69,90.33 578.92,88.61 580.14,86.94 581.37,85.29 582.59,83.68 583.82,82.11 585.05,80.56 586.27,79.05 587.50,77.57 588.72,76.12 589.95,74.69 591.17,73.29 592.40,71.92 593.63,70.58 594.85,69.26 596.08,67.96 597.30,66.69 598.53,65.44 599.75,64.21 600.98,63.00 602.21,61.82 603.43,60.65 604.66,59.51 605.88,58.38 607.11,57.27 608.33,56.18 609.56,55.11 610.78,54.06 612.01,53.02 613.24,52.00 614.46,51.00 615.69,50.01 616.91,49.03 618.14,48.08 619.36,47.13 620.59,46.20 621.82,45.29 623.04,44.39 624.27,43.50 625.49,42.62 626.72,41.76 627.94,40.92 629.17,40.08 630.40,39.26 631.62,38.45 632.85,37.65 634.07,36.86 635.30,36.09 636.52,35.32 637.75,34.57 638.98,33.83 640.20,33.10 641.43,32.39 642.65,31.68 643.88,30.98 645.10,30.30 646.33,29.63 647.56,28.97 648.78,28.31 650.01,27.67 651.23,27.05 652.46,26.43 653.68,25.82 654.91,25.23 656.14,24.65 657.36,24.08 658.59,23.52 659.81,22.97 661.04,22.44 662.26,21.92 663.49,21.42 664.72,20.93 665.94,20.47 667.17,20.02 668.39,19.60 669.62,19.21 670.84,18.88 672.07,18.75 672.07,18.75 670.84,19.88 669.62,20.81 668.39,21.70 667.17,22.57 665.94,23.42 664.72,24.26 663.49,25.10 662.26,25.92 661.04,26.74 659.81,27.56 658.59,28.38 657.36,29.20 656.14,30.01 654.91,30.83 653.68,31.64 652.46,32.46 651.23,33.27 650.01,34.09 648.78,34.91 647.56,35.74 646.33,36.56 645.10,37.39 643.88,38.23 642.65,39.06 641.43,39.90 640.20,40.75 638.98,41.59 637.75,42.45 636.52,43.31 635.30,44.17 634.07,45.04 632.85,45.91 631.62,46.80 630.40,47.68 629.17,48.58 627.94,49.48 626.72,50.39 625.49,51.30 624.27,52.23 623.04,53.16 621.82,54.10 620.59,55.05 619.36,56.01 618.14,56.98 616.91,57.95 615.69,58.94 614.46,59.94 613.24,60.95 612.01,61.97 610.78,63.01 609.56,64.05 608.33,65.11 607.11,66.18 605.88,67.27 604.66,68.37 603.43,69.48 602.21,70.61 600.98,71.76 599.75,72.92 598.53,74.10 597.30,75.30 596.08,76.51 594.85,77.75 593.63,79.00 592.40,80.28 591.17,81.57 589.95,82.89 588.72,84.23 587.50,85.60 586.27,86.99 585.05,88.40 583.82,89.84 582.59,91.31 581.37,92.81 580.14,94.33 578.92,95.89 577.69,97.47 576.47,99.09 575.24,100.74 574.01,102.42 572.79,104.14 571.56,105.89 570.34,107.67 569.11,109.50 567.89,111.35 566.66,113.24 565.43,115.17 564.21,117.13 562.98,119.12 561.76,121.14 560.53,123.19 559.31,125.27 558.08,127.37 556.85,129.48 555.63,131.61 554.40,133.75 553.18,135.87 551.95,137.98 550.73,140.01 549.50,141.60 548.27,144.74 547.05,147.41 545.82,150.01 544.60,152.55 543.37,155.04 542.15,157.50 540.92,159.91 539.69,162.29 538.47,164.63 537.24,166.92 536.02,169.17 534.79,171.38 533.57,173.55 532.34,175.67 531.11,177.75 529.89,179.79 528.66,181.78 527.44,183.73 526.21,185.64 524.99,187.50 523.76,189.33 522.53,191.12 521.31,192.87 520.08,194.59 518.86,196.26 517.63,197.91 516.41,199.52 515.18,201.09 513.95,202.64 512.73,204.15 511.50,205.63 510.28,207.08 509.05,208.51 507.83,209.91 506.60,211.28 505.37,212.62 504.15,213.94 502.92,215.24 501.70,216.51 500.47,217.76 499.25,218.99 498.02,220.20 496.79,221.38 495.57,222.55 494.34,223.69 493.12,224.82 491.89,225.93 490.67,227.02 489.44,228.09 488.22,229.14 486.99,230.18 485.76,231.20 484.54,232.20 483.31,233.19 482.09,234.17 480.86,235.12 479.64,236.07 478.41,237.00 477.18,237.91 475.96,238.81 474.73,239.70 473.51,240.58 472.28,241.44 471.06,242.28 469.83,243.12 468.60,243.94 467.38,244.75 466.15,245.55 464.93,246.34 463.70,247.11 462.48,247.88 461.25,248.63 460.02,249.37 458.80,250.10 457.57,250.81 456.35,251.52 455.12,252.22 453.90,252.90 452.67,253.57 451.44,254.23 450.22,254.89 448.99,255.53 447.77,256.15 446.54,256.77 445.32,257.38 444.09,257.97 442.86,258.55 441.64,259.12 440.41,259.68 439.19,260.23 437.96,260.76 436.74,261.28 435.51,261.78 434.28,262.27 433.06,262.73 431.83,263.18 430.61,263.60 429.38,263.99 428.16,264.32 426.93,264.45" fill="#8172b3" fill-opacity="0.19"/>
<polyline points="426.93,264.45 428.16,263.82 429.38,263.19 430.61,262.55 431.83,261.90 433.06,261.26 434.28,260.60 435.51,259.94 436.74,259.28 437.96,258.61 439.19,257.93 440.41,257.25 441.64,256.56 442.86,255.87 444.09,255.17 445.32,254.47 446.54,253.76 447.77,253.04 448.99,252.32 450.22,251.59 451.44,250.85 452.67,250.10 453.90,249.35 455.12,248.60 456.35,247.83 457.57,247.06 458.80,246.28 460.02,245.49 461.25,244.69 462.48,243.89 463.70,243.07 464.93,242.25 466.15,241.42 467.38,240.58 468.60,239.73 469.83,238.87 471.06,238.00 472.28,237.12 473.51,236.24 474.73,235.34 475.96,234.43 477.18,233.51 478.41,232.57 479.64,231.63 480.86,230.67 482.09,229.71 483.31,228.73 484.54,227.73 485.76,226.72 486.99,225.70 488.22,224.67 489.44,223.62 490.67,222.55 491.89,221.47 493.12,220.38 494.34,219.26 495.57,218.13 496.79,216.99 498.02,215.82 499.25,214.63 500.47,213.43 501.70,212.21 502.92,210.96 504.15,209.70 505.37,208.41 506.60,207.10 507.83,205.77 509.05,204.41 510.28,203.02 511.50,201.62 512.73,200.18 513.95,198.72 515.18,197.22 516.41,195.70 517.63,194.15 518.86,192.57 520.08,190.95 521.31,189.30 522.53,187.62 523.76,185.90 524.99,184.14 526.21,182.35 527.44,180.52 528.66,178.65 529.89,176.74 531.11,174.80 532.34,172.81 533.57,170.79 534.79,168.73 536.02,166.63 537.24,164.49 538.47,162.32 539.69,160.11 540.92,157.87 542.15,155.61 543.37,153.31 544.60,151.00 545.82,148.67 547.05,146.32 548.27,143.96 549.50,141.60 550.73,139.24 551.95,136.88 553.18,134.53 554.40,132.20 555.63,129.89 556.85,127.59 558.08,125.33 559.31,123.09 560.53,120.88 561.76,118.71 562.98,116.57 564.21,114.47 565.43,112.41 566.66,110.39 567.89,108.40 569.11,106.46 570.34,104.55 571.56,102.68 572.79,100.85 574.01,99.06 575.24,97.30 576.47,95.58 577.69,93.90 578.92,92.25 580.14,90.63 581.37,89.05 582.59,87.50 583.82,85.98 585.05,84.48 586.27,83.02 587.50,81.58 588.72,80.17 589.95,78.79 591.17,77.43 592.40,76.10 593.63,74.79 594.85,73.50 596.08,72.24 597.30,70.99 598.53,69.77 599.75,68.57 600.98,67.38 602.21,66.21 603.43,65.07 604.66,63.94 605.88,62.82 607.11,61.73 608.33,60.65 609.56,59.58 610.78,58.53 612.01,57.50 613.24,56.48 614.46,55.47 615.69,54.47 616.91,53.49 618.14,52.53 619.36,51.57 620.59,50.63 621.82,49.69 623.04,48.77 624.27,47.86 625.49,46.96 626.72,46.08 627.94,45.20 629.17,44.33 630.40,43.47 631.62,42.62 632.85,41.78 634.07,40.95 635.30,40.13 636.52,39.31 637.75,38.51 638.98,37.71 640.20,36.92 641.43,36.14 642.65,35.37 643.88,34.60 645.10,33.85 646.33,33.10 647.56,32.35 648.78,31.61 650.01,30.88 651.23,30.16 652.46,29.44 653.68,28.73 654.91,28.03 656.14,27.33 657.36,26.64 658.59,25.95 659.81,25.27 661.04,24.59 662.26,23.92 663.49,23.26 664.72,22.60 665.94,21.94 667.17,21.30 668.39,20.65 669.62,20.01 670.84,19.38 672.07,18.75" fill="none" stroke="#8172b3" stroke-width="1.8"/>
<rect x="64.6" y="11.3" width="76.1" height="57.5" fill="#fff"/>
<path d="M81.7 18.9l2.1 3.4l-2.1 3.4l-2.1-3.4z" fill="#dd8452"/>
<path d="M79.7 39.8h4.0M81.7 37.8v4.0" stroke="#4c72b0" stroke-width="1.5"/>
<path d="M79.9 55.2l3.6 3.6M79.9 58.8l3.6-3.6" stroke="#c44e52" stroke-width="1.2" stroke-opacity="0.5"/>
<text x="102.90" y="27.10" textLength="17.91" lengthAdjust="spacingAndGlyphs" font-size="12.66" font-family="'Liberation Sans', sans-serif">M3</text>
<text x="102.90" y="44.00" textLength="24.68" lengthAdjust="spacingAndGlyphs" font-size="12.66" font-family="'Liberation Sans', sans-serif">ZNE</text>
<text x="102.90" y="60.90" textLength="33.02" lengthAdjust="spacingAndGlyphs" font-size="12.66" font-family="'Liberation Sans', sans-serif">ZNEC</text>
<rect x="420.4" y="11.4" width="109.5" height="39.9" fill="#fff"/>
<path d="M435.4 20.5l3.6 3.6M435.4 24.1l3.6-3.6" stroke="#55a868" stroke-width="1.2" stroke-opacity="0.6"/>
<line x1="424.4" y1="39.3" x2="450" y2="39.3" stroke="#8172b3" stroke-width="1.8"/>
<text x="458.20" y="26.90" textLength="67.28" lengthAdjust="spacingAndGlyphs" font-size="12.66" font-family="'Liberation Sans', sans-serif">ZNE vs. M3</text>
<text x="458.20" y="43.80" textLength="12.21" lengthAdjust="spacingAndGlyphs" font-size="12.66" font-family="'Liberation Sans', sans-serif">fit</text>
<path d="M59.55 6.35V277.5M329.6 6.35V277.5" stroke="#111" stroke-width="1.05"/>
<path d="M59.05 7.05H330.1M59.05 276.8H330.1" stroke="#111" stroke-width="1.35"/>
<line x1="71.41" y1="276.80" x2="71.41" y2="281.00" stroke="#000" stroke-width="0.96"/>
<line x1="55.35" y1="264.45" x2="59.55" y2="264.45" stroke="#000" stroke-width="0.96"/>
<text x="71.41" y="294.20" text-anchor="middle" textLength="29.02" lengthAdjust="spacingAndGlyphs" font-size="12.66" font-family="'Liberation Sans', sans-serif">−1.0</text>
<text x="51.15" y="269.15" text-anchor="end" textLength="29.02" lengthAdjust="spacingAndGlyphs" font-size="12.66" font-family="'Liberation Sans', sans-serif">−1.0</text>
<line x1="132.80" y1="276.80" x2="132.80" y2="281.00" stroke="#000" stroke-width="0.96"/>
<line x1="55.35" y1="203.02" x2="59.55" y2="203.02" stroke="#000" stroke-width="0.96"/>
<text x="132.80" y="294.20" text-anchor="middle" textLength="29.02" lengthAdjust="spacingAndGlyphs" font-size="12.66" font-family="'Liberation Sans', sans-serif">−0.5</text>
<text x="51.15" y="207.72" text-anchor="end" textLength="29.02" lengthAdjust="spacingAndGlyphs" font-size="12.66" font-family="'Liberation Sans', sans-serif">−0.5</text>
<line x1="194.20" y1="276.80" x2="194.20" y2="281.00" stroke="#000" stroke-width="0.96"/>
<line x1="55.35" y1="141.60" x2="59.55" y2="141.60" stroke="#000" stroke-width="0.96"/>
<text x="194.20" y="294.20" text-anchor="middle" textLength="19.00" lengthAdjust="spacingAndGlyphs" font-size="12.66" font-family="'Liberation Sans', sans-serif">0.0</text>
<text x="51.15" y="146.30" text-anchor="end" textLength="19.00" lengthAdjust="spacingAndGlyphs" font-size="12.66" font-family="'Liberation Sans', sans-serif">0.0</text>
<line x1="255.59" y1="276.80" x2="255.59" y2="281.00" stroke="#000" stroke-width="0.96"/>
<line x1="55.35" y1="80.17" x2="59.55" y2="80.17" stroke="#000" stroke-width="0.96"/>
<text x="255.59" y="294.20" text-anchor="middle" textLength="19.00" lengthAdjust="spacingAndGlyphs" font-size="12.66" font-family="'Liberation Sans', sans-serif">0.5</text>
<text x="51.15" y="84.88" text-anchor="end" textLength="19.00" lengthAdjust="spacingAndGlyphs" font-size="12.66" font-family="'Liberation Sans', sans-serif">0.5</text>
<line x1="316.99" y1="276.80" x2="316.99" y2="281.00" stroke="#000" stroke-width="0.96"/>
<line x1="55.35" y1="18.75" x2="59.55" y2="18.75" stroke="#000" stroke-width="0.96"/>
<text x="316.99" y="294.20" text-anchor="middle" textLength="19.00" lengthAdjust="spacingAndGlyphs" font-size="12.66" font-family="'Liberation Sans', sans-serif">1.0</text>
<text x="51.15" y="23.45" text-anchor="end" textLength="19.00" lengthAdjust="spacingAndGlyphs" font-size="12.66" font-family="'Liberation Sans', sans-serif">1.0</text>
<path d="M414.5 6.35V277.5M684.5 6.35V277.5" stroke="#111" stroke-width="1.05"/>
<path d="M414.0 7.05H685.0M414.0 276.8H685.0" stroke="#111" stroke-width="1.35"/>
<line x1="426.93" y1="276.80" x2="426.93" y2="281.00" stroke="#000" stroke-width="0.96"/>
<line x1="410.30" y1="264.45" x2="414.50" y2="264.45" stroke="#000" stroke-width="0.96"/>
<text x="426.93" y="294.20" text-anchor="middle" textLength="29.02" lengthAdjust="spacingAndGlyphs" font-size="12.66" font-family="'Liberation Sans', sans-serif">−1.0</text>
<text x="406.10" y="269.15" text-anchor="end" textLength="29.02" lengthAdjust="spacingAndGlyphs" font-size="12.66" font-family="'Liberation Sans', sans-serif">−1.0</text>
<line x1="488.22" y1="276.80" x2="488.22" y2="281.00" stroke="#000" stroke-width="0.96"/>
<line x1="410.30" y1="203.02" x2="414.50" y2="203.02" stroke="#000" stroke-width="0.96"/>
<text x="488.22" y="294.20" text-anchor="middle" textLength="29.02" lengthAdjust="spacingAndGlyphs" font-size="12.66" font-family="'Liberation Sans', sans-serif">−0.5</text>
<text x="406.10" y="207.72" text-anchor="end" textLength="29.02" lengthAdjust="spacingAndGlyphs" font-size="12.66" font-family="'Liberation Sans', sans-serif">−0.5</text>
<line x1="549.50" y1="276.80" x2="549.50" y2="281.00" stroke="#000" stroke-width="0.96"/>
<line x1="410.30" y1="141.60" x2="414.50" y2="141.60" stroke="#000" stroke-width="0.96"/>
<text x="549.50" y="294.20" text-anchor="middle" textLength="19.00" lengthAdjust="spacingAndGlyphs" font-size="12.66" font-family="'Liberation Sans', sans-serif">0.0</text>
<text x="406.10" y="146.30" text-anchor="end" textLength="19.00" lengthAdjust="spacingAndGlyphs" font-size="12.66" font-family="'Liberation Sans', sans-serif">0.0</text>
<line x1="610.78" y1="276.80" x2="610.78" y2="281.00" stroke="#000" stroke-width="0.96"/>
<line x1="410.30" y1="80.17" x2="414.50" y2="80.17" stroke="#000" stroke-width="0.96"/>
<text x="610.78" y="294.20" text-anchor="middle" textLength="19.00" lengthAdjust="spacingAndGlyphs" font-size="12.66" font-family="'Liberation Sans', sans-serif">0.5</text>
<text x="406.10" y="84.88" text-anchor="end" textLength="19.00" lengthAdjust="spacingAndGlyphs" font-size="12.66" font-family="'Liberation Sans', sans-serif">0.5</text>
<line x1="672.07" y1="276.80" x2="672.07" y2="281.00" stroke="#000" stroke-width="0.96"/>
<line x1="410.30" y1="18.75" x2="414.50" y2="18.75" stroke="#000" stroke-width="0.96"/>
<text x="672.07" y="294.20" text-anchor="middle" textLength="19.00" lengthAdjust="spacingAndGlyphs" font-size="12.66" font-family="'Liberation Sans', sans-serif">1.0</text>
<text x="406.10" y="23.45" text-anchor="end" textLength="19.00" lengthAdjust="spacingAndGlyphs" font-size="12.66" font-family="'Liberation Sans', sans-serif">1.0</text>
<text x="194.20" y="310.80" text-anchor="middle" textLength="126.83" lengthAdjust="spacingAndGlyphs" font-size="12.66" font-family="'Liberation Sans', sans-serif">SV expectation value</text>
<text x="549.50" y="310.80" text-anchor="middle" textLength="128.98" lengthAdjust="spacingAndGlyphs" font-size="12.66" font-family="'Liberation Sans', sans-serif">M3 expectation value</text>
<text x="0.00" y="0.00" text-anchor="middle" textLength="171.03" lengthAdjust="spacingAndGlyphs" font-size="12.66" font-family="'Liberation Sans', sans-serif" transform="translate(14.7 141.4) rotate(-90)">measured expectation value</text>
<text x="0.00" y="0.00" text-anchor="middle" textLength="135.74" lengthAdjust="spacingAndGlyphs" font-size="12.66" font-family="'Liberation Sans', sans-serif" transform="translate(370.0 141.6) rotate(-90)">ZNE expectation value</text>
<text x="-0.4" y="12.6" font-size="19" font-family="'Liberation Serif', serif">(a)</text>
<text x="353.9" y="12.6" font-size="19" font-family="'Liberation Serif', serif">(b)</text>
</svg>
</body></html>
